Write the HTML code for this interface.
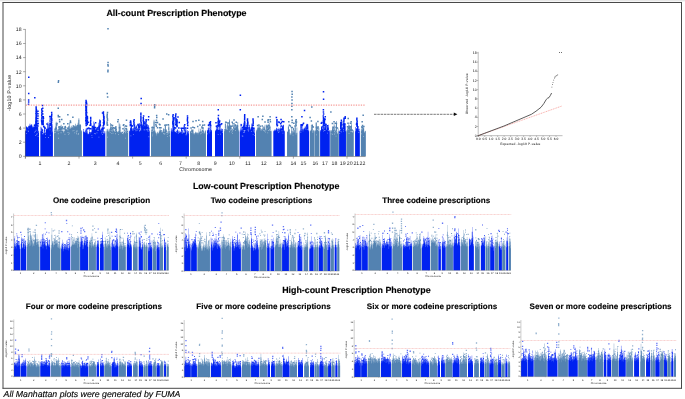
<!DOCTYPE html>
<html lang="en"><head><meta charset="utf-8"><title>Manhattan plots</title>
<style>html,body{margin:0;padding:0;background:#fff;width:685px;height:399px;overflow:hidden;font-family:"Liberation Sans",sans-serif}svg text{white-space:pre;text-rendering:geometricPrecision}</style></head>
<body>
<svg width="685" height="399" viewBox="0 0 685 399" style="display:block;position:absolute;left:0;top:0">
<defs><filter id="b" x="0" y="0" width="685" height="399" filterUnits="userSpaceOnUse"><feGaussianBlur stdDeviation="0.35"/></filter><filter id="t" x="0" y="0" width="685" height="399" filterUnits="userSpaceOnUse"><feGaussianBlur stdDeviation="0.18"/></filter><filter id="n" x="0" y="0" width="685" height="399" filterUnits="userSpaceOnUse"><feOffset dx="0" dy="0"/></filter></defs>
<rect width="685" height="399" fill="#fff"/>
<rect width="685" height="1" fill="#e7e7e7"/><rect y="1" width="685" height="0.7" fill="#f3f3f3"/>
<path d="M2.5 2.5H682M3 2.5V388.6M681.5 2.5V388.6M2.5 388.3H682" stroke="#484848" stroke-width="1" fill="none"/>
<g filter="url(#n)">
<text x="176.45" y="15.6" font-family='"Liberation Sans", sans-serif' font-size="8.86" font-weight="700" fill="#000" stroke="#000" stroke-width="0.15" text-anchor="middle">All-count Prescription Phenotype</text>
<text x="266.2" y="188.9" font-family='"Liberation Sans", sans-serif' font-size="8.86" font-weight="700" fill="#000" stroke="#000" stroke-width="0.15" text-anchor="middle">Low-count Prescription Phenotype</text>
<text x="356.4" y="293.3" font-family='"Liberation Sans", sans-serif' font-size="8.86" font-weight="700" fill="#000" stroke="#000" stroke-width="0.15" text-anchor="middle">High-count Prescription Phenotype</text>
<text x="101.5" y="203.2" font-family='"Liberation Sans", sans-serif' font-size="8.07" font-weight="700" fill="#000" stroke="#000" stroke-width="0.15" text-anchor="middle">One codeine prescription</text>
<text x="261.5" y="203.2" font-family='"Liberation Sans", sans-serif' font-size="8.07" font-weight="700" fill="#000" stroke="#000" stroke-width="0.15" text-anchor="middle">Two codeine prescriptions</text>
<text x="436.2" y="203.2" font-family='"Liberation Sans", sans-serif' font-size="8.07" font-weight="700" fill="#000" stroke="#000" stroke-width="0.15" text-anchor="middle">Three codeine prescriptions</text>
<text x="93.9" y="308.8" font-family='"Liberation Sans", sans-serif' font-size="8.07" font-weight="700" fill="#000" stroke="#000" stroke-width="0.15" text-anchor="middle">Four or more codeine prescriptions</text>
<text x="263.5" y="308.8" font-family='"Liberation Sans", sans-serif' font-size="8.07" font-weight="700" fill="#000" stroke="#000" stroke-width="0.15" text-anchor="middle">Five or more codeine prescriptions</text>
<text x="432" y="308.8" font-family='"Liberation Sans", sans-serif' font-size="8.07" font-weight="700" fill="#000" stroke="#000" stroke-width="0.15" text-anchor="middle">Six or more codeine prescriptions</text>
<text x="600.6" y="308.8" font-family='"Liberation Sans", sans-serif' font-size="8.07" font-weight="700" fill="#000" stroke="#000" stroke-width="0.15" text-anchor="middle">Seven or more codeine prescriptions</text>
<text x="3.6" y="397.0" font-family='"Liberation Sans", sans-serif' font-size="8.78" font-style="italic" fill="#000" stroke="#000" stroke-width="0.12">All Manhattan plots were generated by FUMA</text>
</g>
<g filter="url(#b)">
<path fill="#0024f0" fill-opacity="0.7" d="M25.2 156.3L25.2 130.13H26.06L26.06 126.37H26.93L26.93 127.59H27.79L27.79 127.15H28.65L28.65 125.58H29.51L29.51 123.71H30.38L30.38 124.9H31.24L31.24 124.09H32.1L32.1 126.4H32.96L32.96 126.5H33.83L33.83 124.87H34.69L34.69 123.78H35.55L35.55 118.61H36.41L36.41 124.78H37.27L37.27 124.27H38.14L38.14 130.63H39L39 156.3ZM40.5 156.3L40.5 126.69H41.38L41.38 127.67H42.26L42.26 129.11H43.14L43.14 132.69H44.01L44.01 127.03H44.89L44.89 132.62H45.77L45.77 128.65H46.65L46.65 128.54H47.53L47.53 122.33H48.41L48.41 127.38H49.29L49.29 125H50.16L50.16 126.82H51.04L51.04 120.91H51.92L51.92 125.84H52.8L52.8 156.3Z"/>
<path fill="#0024f0" d="M25.2 156.3L25.2 131.27H26.06L26.06 127.03H26.93L26.93 128.32H27.79L27.79 128.81H28.65L28.65 126.58H29.51L29.51 126.42H30.38L30.38 126.06H31.24L31.24 126.1H32.1L32.1 127.73H32.96L32.96 127.42H33.83L33.83 127.09H34.69L34.69 126.14H35.55L35.55 121.01H36.41L36.41 126.86H37.27L37.27 127.16H38.14L38.14 131.27H39L39 156.3ZM40.5 156.3L40.5 131.27H41.38L41.38 129.08H42.26L42.26 130.26H43.14L43.14 134.18H44.01L44.01 129.52H44.89L44.89 133.83H45.77L45.77 129.52H46.65L46.65 129.31H47.53L47.53 124.1H48.41L48.41 128.52H49.29L49.29 126.36H50.16L50.16 127.78H51.04L51.04 122.42H51.92L51.92 131.27H52.8L52.8 156.3Z"/>
<path fill="#fff" fill-opacity=".6" d="M25.57 129.68h0.7v0.84h-0.7zM34.27 131.64h0.7v0.84h-0.7zM37.73 136.28h0.7v0.84h-0.7zM38.14 131.66h0.7v0.84h-0.7zM37.71 130.7h0.7v0.84h-0.7zM28.17 130.91h0.7v0.84h-0.7zM27.78 130.48h0.7v0.84h-0.7zM36.99 133.48h0.7v0.84h-0.7zM36.21 133.81h0.7v0.84h-0.7zM35.68 129.82h0.7v0.84h-0.7zM26.31 132.93h0.7v0.84h-0.7zM35.45 135.12h0.7v0.84h-0.7zM35.03 131.2h0.7v0.84h-0.7zM49.65 129.5h0.7v0.84h-0.7zM44.36 131.89h0.7v0.84h-0.7zM45.09 137.27h0.7v0.84h-0.7zM45.16 134.04h0.7v0.84h-0.7zM42.47 130.9h0.7v0.84h-0.7zM41.97 133.23h0.7v0.84h-0.7zM49.86 134.82h0.7v0.84h-0.7zM42.2 133.34h0.7v0.84h-0.7zM48.12 137.11h0.7v0.84h-0.7zM44.56 130.83h0.7v0.84h-0.7zM40.67 129.73h0.7v0.84h-0.7zM51.76 131.51h0.7v0.84h-0.7z"/>
<path fill="#0024f0" fill-opacity="1" d="M33.83 124.62h1.5v1.5h-1.5zM37.42 122.7h1.5v1.5h-1.5zM28.7 126.19h1.5v1.5h-1.5zM33.42 127.5h1.5v1.5h-1.5zM30.88 127.04h1.5v1.5h-1.5zM26.64 127.39h1.5v1.5h-1.5zM34.65 127.17h1.5v1.5h-1.5zM28.25 126.16h1.5v1.5h-1.5zM35.92 127.32h1.5v1.5h-1.5zM30.73 125.31h1.5v1.5h-1.5zM36.07 122.74h1.5v1.5h-1.5zM35.83 126.64h1.5v1.5h-1.5zM49.82 124.2h1.5v1.5h-1.5zM43.32 126.27h1.5v1.5h-1.5zM42.3 123.39h1.5v1.5h-1.5zM46.25 123.3h1.5v1.5h-1.5zM44.06 126.85h1.5v1.5h-1.5zM49.26 115.73h1.5v1.5h-1.5zM49.71 122.94h1.5v1.5h-1.5zM49.34 123.76h1.5v1.5h-1.5zM42.95 125.51h1.5v1.5h-1.5zM44.34 127.48h1.5v1.5h-1.5z"/>
<path fill="#5282b1" fill-opacity="0.7" d="M54.1 156.3L54.1 128.49H54.94L54.94 126.51H55.78L55.78 121.83H56.62L56.62 129.43H57.46L57.46 129.58H58.3L58.3 126.62H59.14L59.14 126.09H59.98L59.98 125.71H60.82L60.82 124.67H61.65L61.65 126.68H62.49L62.49 129.24H63.33L63.33 131.72H64.17L64.17 126.95H65.01L65.01 125.76H65.85L65.85 129H66.69L66.69 127.19H67.53L67.53 128.46H68.37L68.37 125.74H69.21L69.21 122.3H70.05L70.05 127.52H70.89L70.89 125.84H71.73L71.73 127.14H72.57L72.57 126.44H73.41L73.41 127.05H74.25L74.25 126.51H75.08L75.08 123.75H75.92L75.92 125.46H76.76L76.76 124.9H77.6L77.6 122.68H78.44L78.44 118.37H79.28L79.28 124.32H80.12L80.12 124.17H80.96L80.96 130.25H81.8L81.8 156.3Z"/>
<path fill="#5282b1" d="M54.1 156.3L54.1 131.27H54.94L54.94 128.19H55.78L55.78 122.95H56.62L56.62 130.69H57.46L57.46 131.09H58.3L58.3 129.22H59.14L59.14 127.69H59.98L59.98 128.22H60.82L60.82 127.12H61.65L61.65 130.34H62.49L62.49 130.72H63.33L63.33 133.11H64.17L64.17 131.13H65.01L65.01 128.65H65.85L65.85 129.66H66.69L66.69 129.7H67.53L67.53 130.4H68.37L68.37 126.62H69.21L69.21 128.69H70.05L70.05 129H70.89L70.89 128.03H71.73L71.73 127.73H72.57L72.57 127.09H73.41L73.41 127.76H74.25L74.25 127.47H75.08L75.08 126.48H75.92L75.92 127.1H76.76L76.76 126.17H77.6L77.6 125.29H78.44L78.44 119.7H79.28L79.28 125.28H80.12L80.12 124.96H80.96L80.96 131.27H81.8L81.8 156.3Z"/>
<path fill="#fff" fill-opacity=".6" d="M60.7 132.32h0.7v0.84h-0.7zM63.73 130.24h0.7v0.84h-0.7zM54.13 132.3h0.7v0.84h-0.7zM67.67 132.09h0.7v0.84h-0.7zM59.53 129.97h0.7v0.84h-0.7zM61.23 129.66h0.7v0.84h-0.7zM56.52 130.4h0.7v0.84h-0.7zM54.71 130.2h0.7v0.84h-0.7zM62.31 130.1h0.7v0.84h-0.7zM68.39 133.84h0.7v0.84h-0.7zM74.36 132.41h0.7v0.84h-0.7zM77.84 133.86h0.7v0.84h-0.7zM64.62 133.87h0.7v0.84h-0.7zM58.14 137.8h0.7v0.84h-0.7zM73.65 130.24h0.7v0.84h-0.7zM76.65 130.39h0.7v0.84h-0.7zM78.18 133.25h0.7v0.84h-0.7zM76.03 133.35h0.7v0.84h-0.7zM57.86 133.37h0.7v0.84h-0.7zM76.64 130.21h0.7v0.84h-0.7zM75.83 131.59h0.7v0.84h-0.7zM78.21 133.38h0.7v0.84h-0.7zM72.54 130.45h0.7v0.84h-0.7zM54.94 131.8h0.7v0.84h-0.7zM57.69 130.61h0.7v0.84h-0.7zM76.67 130.8h0.7v0.84h-0.7zM69.18 132.74h0.7v0.84h-0.7z"/>
<path fill="#5282b1" fill-opacity="1" d="M74 127.02h1.5v1.5h-1.5zM67.2 127.43h1.5v1.5h-1.5zM63.19 127.93h1.5v1.5h-1.5zM60.66 127.94h1.5v1.5h-1.5zM73.31 125.73h1.5v1.5h-1.5zM59.06 126.17h1.5v1.5h-1.5zM78.59 127.67h1.5v1.5h-1.5zM75.56 126.39h1.5v1.5h-1.5zM67.07 122.91h1.5v1.5h-1.5zM64.4 125.99h1.5v1.5h-1.5zM72.12 116.59h1.5v1.5h-1.5zM63.08 122.95h1.5v1.5h-1.5zM72.62 125.13h1.5v1.5h-1.5zM64.7 126.78h1.5v1.5h-1.5zM55.52 127.59h1.5v1.5h-1.5zM55.95 124.18h1.5v1.5h-1.5zM60.8 127.48h1.5v1.5h-1.5zM56.31 122.79h1.5v1.5h-1.5zM76.91 124.85h1.5v1.5h-1.5zM61.49 127.2h1.5v1.5h-1.5zM61.78 126.25h1.5v1.5h-1.5zM58.23 126.32h1.5v1.5h-1.5zM61 118.78h1.5v1.5h-1.5zM79.58 125.75h1.5v1.5h-1.5z"/>
<path fill="#0024f0" fill-opacity="0.7" d="M83.2 156.3L83.2 128.96H84.05L84.05 131.8H84.89L84.89 130.46H85.74L85.74 128.16H86.58L86.58 128.94H87.43L87.43 133.25H88.28L88.28 133.63H89.12L89.12 129.71H89.97L89.97 132.07H90.82L90.82 131.66H91.66L91.66 126.81H92.51L92.51 125.17H93.35L93.35 121.56H94.2L94.2 123.36H95.05L95.05 128.6H95.89L95.89 127.82H96.74L96.74 127.71H97.58L97.58 126.8H98.43L98.43 122.63H99.28L99.28 119.17H100.12L100.12 129.44H100.97L100.97 128.28H101.82L101.82 126.95H102.66L102.66 125.5H103.51L103.51 132.72H104.35L104.35 131.07H105.2L105.2 156.3Z"/>
<path fill="#0024f0" d="M83.2 156.3L83.2 131.27H84.05L84.05 132.45H84.89L84.89 132.68H85.74L85.74 129.58H86.58L86.58 131.36H87.43L87.43 134.18H88.28L88.28 134.21H89.12L89.12 131.77H89.97L89.97 133.42H90.82L90.82 132.51H91.66L91.66 129.55H92.51L92.51 129.42H93.35L93.35 125.99H94.2L94.2 126.69H95.05L95.05 130.01H95.89L95.89 129.14H96.74L96.74 128.76H97.58L97.58 129.69H98.43L98.43 126.14H99.28L99.28 127.49H100.12L100.12 130.42H100.97L100.97 129.27H101.82L101.82 127.78H102.66L102.66 128.18H103.51L103.51 134.29H104.35L104.35 132.4H105.2L105.2 156.3Z"/>
<path fill="#fff" fill-opacity=".6" d="M91.23 130.46h0.7v0.84h-0.7zM89.11 130.83h0.7v0.84h-0.7zM103.81 132.5h0.7v0.84h-0.7zM96.61 132.53h0.7v0.84h-0.7zM101.58 130.4h0.7v0.84h-0.7zM88.49 132.33h0.7v0.84h-0.7zM91.71 137.28h0.7v0.84h-0.7zM101.28 132.49h0.7v0.84h-0.7zM101.79 130.67h0.7v0.84h-0.7zM98.31 129.97h0.7v0.84h-0.7zM102.28 134.02h0.7v0.84h-0.7zM83.2 130.57h0.7v0.84h-0.7zM91.54 135.18h0.7v0.84h-0.7zM101.42 132.49h0.7v0.84h-0.7zM103.91 129.88h0.7v0.84h-0.7zM86.49 131.39h0.7v0.84h-0.7zM94.33 132.99h0.7v0.84h-0.7zM98.57 136.74h0.7v0.84h-0.7zM96.99 130.19h0.7v0.84h-0.7zM94.95 133.36h0.7v0.84h-0.7zM84.04 130.33h0.7v0.84h-0.7zM102.79 132.12h0.7v0.84h-0.7z"/>
<path fill="#0024f0" fill-opacity="1" d="M98.63 125.28h1.5v1.5h-1.5zM89.07 128.05h1.5v1.5h-1.5zM102.2 127.81h1.5v1.5h-1.5zM92.88 127.01h1.5v1.5h-1.5zM89.3 124.41h1.5v1.5h-1.5zM103.21 127.35h1.5v1.5h-1.5zM96.65 127.19h1.5v1.5h-1.5zM94.63 126.78h1.5v1.5h-1.5zM86.63 127.7h1.5v1.5h-1.5zM87.46 121.53h1.5v1.5h-1.5zM93.39 127.5h1.5v1.5h-1.5zM101.78 112.27h1.5v1.5h-1.5zM92.42 127.77h1.5v1.5h-1.5zM87.14 127.93h1.5v1.5h-1.5zM90.21 127.93h1.5v1.5h-1.5zM88.1 127.35h1.5v1.5h-1.5zM94.88 122.04h1.5v1.5h-1.5zM98.57 126.69h1.5v1.5h-1.5zM91.68 126.1h1.5v1.5h-1.5z"/>
<path fill="#5282b1" fill-opacity="0.7" d="M106.6 156.3L106.6 129.19H107.46L107.46 128.75H108.32L108.32 130.81H109.18L109.18 128.87H110.04L110.04 122.89H110.9L110.9 126.94H111.76L111.76 128.05H112.62L112.62 129.31H113.48L113.48 128.53H114.34L114.34 130.88H115.2L115.2 126.2H116.06L116.06 128.09H116.92L116.92 131.44H117.78L117.78 131.29H118.64L118.64 122.69H119.5L119.5 124.18H120.36L120.36 130.82H121.22L121.22 131.99H122.08L122.08 131.17H122.94L122.94 133H123.8L123.8 125.95H124.66L124.66 129.83H125.52L125.52 131.7H126.38L126.38 127.94H127.24L127.24 130.31H128.1L128.1 156.3Z"/>
<path fill="#5282b1" d="M106.6 156.3L106.6 131.27H107.46L107.46 130.43H108.32L108.32 131.39H109.18L109.18 130.75H110.04L110.04 127.56H110.9L110.9 128.93H111.76L111.76 131.9H112.62L112.62 130.56H113.48L113.48 130.8H114.34L114.34 131.92H115.2L115.2 127.2H116.06L116.06 129.34H116.92L116.92 132.3H117.78L117.78 132.49H118.64L118.64 130.87H119.5L119.5 126.49H120.36L120.36 131.97H121.22L121.22 133.1H122.08L122.08 132.03H122.94L122.94 134.28H123.8L123.8 129.72H124.66L124.66 130.43H125.52L125.52 132.32H126.38L126.38 128.88H127.24L127.24 131.27H128.1L128.1 156.3Z"/>
<path fill="#fff" fill-opacity=".6" d="M107.3 136.65h0.7v0.84h-0.7zM118.09 133.94h0.7v0.84h-0.7zM124.98 137.76h0.7v0.84h-0.7zM127.15 129.99h0.7v0.84h-0.7zM108.61 131.19h0.7v0.84h-0.7zM116.97 130.73h0.7v0.84h-0.7zM111.47 133.21h0.7v0.84h-0.7zM115.27 133.32h0.7v0.84h-0.7zM122.16 133.12h0.7v0.84h-0.7zM124.22 130.69h0.7v0.84h-0.7zM124.09 131.25h0.7v0.84h-0.7zM112.71 132.66h0.7v0.84h-0.7zM121.95 131.11h0.7v0.84h-0.7zM110.74 129.9h0.7v0.84h-0.7zM109.79 132.24h0.7v0.84h-0.7zM124.99 132.35h0.7v0.84h-0.7zM114.84 131.19h0.7v0.84h-0.7zM127.24 132.16h0.7v0.84h-0.7zM123.42 129.97h0.7v0.84h-0.7zM120.19 131.33h0.7v0.84h-0.7zM116.48 129.95h0.7v0.84h-0.7z"/>
<path fill="#5282b1" fill-opacity="1" d="M125.75 125.49h1.5v1.5h-1.5zM111.84 124.64h1.5v1.5h-1.5zM112.93 127.29h1.5v1.5h-1.5zM106.68 124.22h1.5v1.5h-1.5zM124.93 125.36h1.5v1.5h-1.5zM125.47 128.13h1.5v1.5h-1.5zM111.28 126.38h1.5v1.5h-1.5zM125.74 119.52h1.5v1.5h-1.5zM114.33 127.38h1.5v1.5h-1.5zM115.2 126.28h1.5v1.5h-1.5zM125.16 127.63h1.5v1.5h-1.5zM122.65 124.41h1.5v1.5h-1.5zM123.06 124.02h1.5v1.5h-1.5zM118.75 127.08h1.5v1.5h-1.5zM112.99 126.93h1.5v1.5h-1.5zM122.24 127.96h1.5v1.5h-1.5zM110.55 124.25h1.5v1.5h-1.5zM111.55 128.01h1.5v1.5h-1.5z"/>
<path fill="#0024f0" fill-opacity="0.7" d="M129.3 156.3L129.3 130.44H130.15L130.15 127.2H130.99L130.99 121.45H131.84L131.84 128.41H132.68L132.68 127.99H133.53L133.53 127.04H134.38L134.38 124.07H135.22L135.22 126.86H136.07L136.07 125.25H136.91L136.91 128.34H137.76L137.76 126.49H138.6L138.6 123.52H139.45L139.45 122.98H140.3L140.3 130.33H141.14L141.14 122.33H141.99L141.99 124.6H142.83L142.83 122.64H143.68L143.68 120.65H144.53L144.53 120.87H145.37L145.37 125.48H146.22L146.22 124.02H147.06L147.06 124.16H147.91L147.91 124.94H148.75L148.75 127.82H149.6L149.6 156.3Z"/>
<path fill="#0024f0" d="M129.3 156.3L129.3 131.27H130.15L130.15 128.36H130.99L130.99 125.71H131.84L131.84 129.28H132.68L132.68 129.72H133.53L133.53 129.05H134.38L134.38 125.64H135.22L135.22 128.43H136.07L136.07 126.48H136.91L136.91 129.38H137.76L137.76 129.59H138.6L138.6 124.37H139.45L139.45 125.72H140.3L140.3 131.12H141.14L141.14 125.94H141.99L141.99 126.06H142.83L142.83 126.5H143.68L143.68 125.54H144.53L144.53 126.14H145.37L145.37 126.66H146.22L146.22 124.81H147.06L147.06 127.1H147.91L147.91 126.43H148.75L148.75 131.27H149.6L149.6 156.3Z"/>
<path fill="#fff" fill-opacity=".6" d="M143.68 129.47h0.7v0.84h-0.7zM144.54 129.44h0.7v0.84h-0.7zM139.18 128.46h0.7v0.84h-0.7zM136.71 130.02h0.7v0.84h-0.7zM146.1 128.9h0.7v0.84h-0.7zM148.82 129.04h0.7v0.84h-0.7zM133.1 134.17h0.7v0.84h-0.7zM148.54 136.32h0.7v0.84h-0.7zM147.25 128.79h0.7v0.84h-0.7zM132.54 130.13h0.7v0.84h-0.7zM130.58 135.5h0.7v0.84h-0.7zM136.18 128.45h0.7v0.84h-0.7zM146.87 130.25h0.7v0.84h-0.7zM134.69 129.09h0.7v0.84h-0.7zM139.14 130h0.7v0.84h-0.7zM147.33 129.02h0.7v0.84h-0.7zM139.22 130.78h0.7v0.84h-0.7zM135.55 130.34h0.7v0.84h-0.7zM132.46 128.84h0.7v0.84h-0.7zM147.65 131.26h0.7v0.84h-0.7z"/>
<path fill="#0024f0" fill-opacity="1" d="M130.07 124.39h1.5v1.5h-1.5zM143.54 126.61h1.5v1.5h-1.5zM145.06 126.36h1.5v1.5h-1.5zM140.57 124.46h1.5v1.5h-1.5zM141.09 125.68h1.5v1.5h-1.5zM137.2 124.25h1.5v1.5h-1.5zM137.3 123.68h1.5v1.5h-1.5zM137.7 125.09h1.5v1.5h-1.5zM129.74 124h1.5v1.5h-1.5zM138.5 125.96h1.5v1.5h-1.5zM143.66 122.45h1.5v1.5h-1.5zM137.92 126.16h1.5v1.5h-1.5zM138.2 126.4h1.5v1.5h-1.5zM131.71 125.13h1.5v1.5h-1.5zM131.02 125.07h1.5v1.5h-1.5zM138.89 126.6h1.5v1.5h-1.5zM141.27 126.47h1.5v1.5h-1.5z"/>
<path fill="#5282b1" fill-opacity="0.7" d="M151 156.3L151 129.42H151.87L151.87 127.52H152.74L152.74 129.68H153.6L153.6 119.86H154.47L154.47 130.37H155.34L155.34 132.34H156.21L156.21 133.56H157.08L157.08 131.67H157.95L157.95 133.09H158.81L158.81 130.84H159.68L159.68 128.52H160.55L160.55 129.88H161.42L161.42 130.1H162.29L162.29 131.51H163.15L163.15 128.24H164.02L164.02 129.17H164.89L164.89 124.22H165.76L165.76 129.24H166.63L166.63 131.06H167.5L167.5 132.64H168.36L168.36 124.65H169.23L169.23 131.01H170.1L170.1 156.3Z"/>
<path fill="#5282b1" d="M151 156.3L151 131.27H151.87L151.87 129.19H152.74L152.74 131.51H153.6L153.6 121.52H154.47L154.47 131.19H155.34L155.34 133.28H156.21L156.21 135.5H157.08L157.08 133.45H157.95L157.95 133.83H158.81L158.81 131.96H159.68L159.68 130.21H160.55L160.55 130.63H161.42L161.42 131.96H162.29L162.29 132.46H163.15L163.15 129.35H164.02L164.02 131.41H164.89L164.89 125.44H165.76L165.76 129.82H166.63L166.63 132.82H167.5L167.5 133.45H168.36L168.36 127.15H169.23L169.23 133.31H170.1L170.1 156.3Z"/>
<path fill="#fff" fill-opacity=".6" d="M167.7 132.76h0.7v0.84h-0.7zM163.24 133.01h0.7v0.84h-0.7zM169.01 135.4h0.7v0.84h-0.7zM163.84 130.6h0.7v0.84h-0.7zM166.78 134.14h0.7v0.84h-0.7zM161.49 131.4h0.7v0.84h-0.7zM156.66 130.49h0.7v0.84h-0.7zM152.43 133.74h0.7v0.84h-0.7zM167.76 129.9h0.7v0.84h-0.7zM152.96 130.02h0.7v0.84h-0.7zM168.09 130.42h0.7v0.84h-0.7zM151.53 130.89h0.7v0.84h-0.7zM151.77 131.03h0.7v0.84h-0.7zM163.82 133.65h0.7v0.84h-0.7zM164.56 133.32h0.7v0.84h-0.7zM157.69 131.14h0.7v0.84h-0.7zM166.04 132.27h0.7v0.84h-0.7zM152.21 135.49h0.7v0.84h-0.7zM166.97 135.99h0.7v0.84h-0.7z"/>
<path fill="#5282b1" fill-opacity="1" d="M159.19 123.96h1.5v1.5h-1.5zM158.96 127.05h1.5v1.5h-1.5zM152.85 127.03h1.5v1.5h-1.5zM151.68 126.62h1.5v1.5h-1.5zM164.19 124.42h1.5v1.5h-1.5zM165.88 124.27h1.5v1.5h-1.5zM155.68 125.5h1.5v1.5h-1.5zM158.67 123.39h1.5v1.5h-1.5zM160.21 126.9h1.5v1.5h-1.5zM162.3 118.31h1.5v1.5h-1.5zM154.82 121.79h1.5v1.5h-1.5zM151.27 126.92h1.5v1.5h-1.5zM155.16 123.93h1.5v1.5h-1.5zM167.63 123.91h1.5v1.5h-1.5zM156.75 121.79h1.5v1.5h-1.5zM156.78 127h1.5v1.5h-1.5z"/>
<path fill="#0024f0" fill-opacity="0.7" d="M170.9 156.3L170.9 128.32H171.76L171.76 129.82H172.61L172.61 125.2H173.47L173.47 127.41H174.33L174.33 127.16H175.19L175.19 131.74H176.04L176.04 131H176.9L176.9 129.35H177.76L177.76 130.38H178.61L178.61 130.85H179.47L179.47 131.69H180.33L180.33 131.45H181.19L181.19 128.27H182.04L182.04 129.65H182.9L182.9 131.67H183.76L183.76 124.81H184.61L184.61 129.48H185.47L185.47 128.15H186.33L186.33 134.09H187.19L187.19 130.19H188.04L188.04 131.07H188.9L188.9 156.3Z"/>
<path fill="#0024f0" d="M170.9 156.3L170.9 131.27H171.76L171.76 131.66H172.61L172.61 126.06H173.47L173.47 128.39H174.33L174.33 131.94H175.19L175.19 132.34H176.04L176.04 132.1H176.9L176.9 130.03H177.76L177.76 132.77H178.61L178.61 132.27H179.47L179.47 132.8H180.33L180.33 132.44H181.19L181.19 128.98H182.04L182.04 131.73H182.9L182.9 132.89H183.76L183.76 125.41H184.61L184.61 130.93H185.47L185.47 129.68H186.33L186.33 135.2H187.19L187.19 132.13H188.04L188.04 133.52H188.9L188.9 156.3Z"/>
<path fill="#fff" fill-opacity=".6" d="M174.47 130.08h0.7v0.84h-0.7zM177.8 129.98h0.7v0.84h-0.7zM184.58 130.74h0.7v0.84h-0.7zM181.84 132.94h0.7v0.84h-0.7zM178.91 132.15h0.7v0.84h-0.7zM177.9 132.8h0.7v0.84h-0.7zM183.72 132.26h0.7v0.84h-0.7zM180.83 131.28h0.7v0.84h-0.7zM183.86 131.45h0.7v0.84h-0.7zM183.39 130.53h0.7v0.84h-0.7zM186.13 130.18h0.7v0.84h-0.7zM185.65 134.31h0.7v0.84h-0.7zM182.66 131.64h0.7v0.84h-0.7zM176.32 132.15h0.7v0.84h-0.7zM181.77 132.14h0.7v0.84h-0.7zM184.44 131.35h0.7v0.84h-0.7zM183.24 131.09h0.7v0.84h-0.7zM178.23 131.19h0.7v0.84h-0.7z"/>
<path fill="#0024f0" fill-opacity="1" d="M180.46 127.39h1.5v1.5h-1.5zM178.52 121.67h1.5v1.5h-1.5zM174.83 127.17h1.5v1.5h-1.5zM175.87 124.35h1.5v1.5h-1.5zM184.82 127.3h1.5v1.5h-1.5zM173.47 126.97h1.5v1.5h-1.5zM176.29 125.69h1.5v1.5h-1.5zM173.56 126.65h1.5v1.5h-1.5zM174.02 117.35h1.5v1.5h-1.5zM182.92 127.47h1.5v1.5h-1.5zM186.78 127.47h1.5v1.5h-1.5zM177.24 116.14h1.5v1.5h-1.5zM184.02 124.05h1.5v1.5h-1.5zM178.08 127.16h1.5v1.5h-1.5zM181.43 127.45h1.5v1.5h-1.5z"/>
<path fill="#5282b1" fill-opacity="0.7" d="M190.1 156.3L190.1 130.92H190.93L190.93 129.27H191.76L191.76 129.44H192.59L192.59 129.26H193.43L193.43 132.65H194.26L194.26 133.27H195.09L195.09 131.66H195.92L195.92 132.44H196.75L196.75 132.07H197.58L197.58 133.3H198.42L198.42 128.38H199.25L199.25 131.39H200.08L200.08 128.73H200.91L200.91 131.18H201.74L201.74 127.64H202.57L202.57 128.47H203.41L203.41 130.8H204.24L204.24 132.84H205.07L205.07 130.25H205.9L205.9 156.3Z"/>
<path fill="#5282b1" d="M190.1 156.3L190.1 131.74H190.93L190.93 130.69H191.76L191.76 130.23H192.59L192.59 129.96H193.43L193.43 134.13H194.26L194.26 134.51H195.09L195.09 132.86H195.92L195.92 133.56H196.75L196.75 132.65H197.58L197.58 134.42H198.42L198.42 132.51H199.25L199.25 132.58H200.08L200.08 131.4H200.91L200.91 132.07H201.74L201.74 130.37H202.57L202.57 129.2H203.41L203.41 131.76H204.24L204.24 133.66H205.07L205.07 131.27H205.9L205.9 156.3Z"/>
<path fill="#fff" fill-opacity=".6" d="M202.05 129.1h0.7v0.84h-0.7zM192.64 132.38h0.7v0.84h-0.7zM201.9 131.76h0.7v0.84h-0.7zM200.19 133.41h0.7v0.84h-0.7zM202.77 132.47h0.7v0.84h-0.7zM193.08 130.39h0.7v0.84h-0.7zM201.3 132.67h0.7v0.84h-0.7zM196.72 132.01h0.7v0.84h-0.7zM194.09 131.73h0.7v0.84h-0.7zM193.64 131.39h0.7v0.84h-0.7zM190.98 131.86h0.7v0.84h-0.7zM197.15 131.29h0.7v0.84h-0.7zM197.62 131.92h0.7v0.84h-0.7zM198.25 129.25h0.7v0.84h-0.7zM202.8 129.29h0.7v0.84h-0.7z"/>
<path fill="#5282b1" fill-opacity="1" d="M196.96 125.77h1.5v1.5h-1.5zM199.21 124.31h1.5v1.5h-1.5zM195.28 119.9h1.5v1.5h-1.5zM202.32 127.18h1.5v1.5h-1.5zM201.94 120.69h1.5v1.5h-1.5zM201.31 126.92h1.5v1.5h-1.5zM201.99 124.52h1.5v1.5h-1.5zM190.31 127.32h1.5v1.5h-1.5zM203.71 124.34h1.5v1.5h-1.5zM193.68 127.05h1.5v1.5h-1.5zM192.14 126.6h1.5v1.5h-1.5zM201.2 126.15h1.5v1.5h-1.5zM192.28 120.74h1.5v1.5h-1.5z"/>
<path fill="#0024f0" fill-opacity="0.7" d="M207 156.3L207 130.02H207.83L207.83 127.8H208.67L208.67 124.28H209.5L209.5 130.35H210.33L210.33 125.54H211.17L211.17 129.89H212L212 156.3ZM215 156.3L215 130.31H215.89L215.89 127.27H216.78L216.78 124.86H217.67L217.67 126.65H218.56L218.56 129.21H219.44L219.44 123.87H220.33L220.33 129.42H221.22L221.22 128.61H222.11L222.11 128.88H223L223 156.3Z"/>
<path fill="#0024f0" d="M207 156.3L207 131.27H207.83L207.83 129.65H208.67L208.67 128.25H209.5L209.5 131.76H210.33L210.33 127.35H211.17L211.17 131.27H212L212 156.3ZM215 156.3L215 131.27H215.89L215.89 129.83H216.78L216.78 126.71H217.67L217.67 129.97H218.56L218.56 129.78H219.44L219.44 125.8H220.33L220.33 131.2H221.22L221.22 130.63H222.11L222.11 131.27H223L223 156.3Z"/>
<path fill="#fff" fill-opacity=".6" d="M208.85 132.4h0.7v0.84h-0.7zM207.23 133.5h0.7v0.84h-0.7zM209.44 129.29h0.7v0.84h-0.7zM210.48 128.14h0.7v0.84h-0.7zM209.47 130.76h0.7v0.84h-0.7zM215.1 129.44h0.7v0.84h-0.7zM217.83 134.01h0.7v0.84h-0.7zM222.16 131.83h0.7v0.84h-0.7zM218.47 129h0.7v0.84h-0.7zM219.7 128.52h0.7v0.84h-0.7zM216.55 128.07h0.7v0.84h-0.7zM215.03 128.21h0.7v0.84h-0.7zM219.99 133.71h0.7v0.84h-0.7z"/>
<path fill="#0024f0" fill-opacity="1" d="M208.84 121.93h1.5v1.5h-1.5zM207.74 124.47h1.5v1.5h-1.5zM208.48 123.8h1.5v1.5h-1.5zM209.89 125.1h1.5v1.5h-1.5zM215.66 125.52h1.5v1.5h-1.5zM215.24 121.88h1.5v1.5h-1.5zM220.94 123.07h1.5v1.5h-1.5zM217.4 121.2h1.5v1.5h-1.5zM220.11 123.75h1.5v1.5h-1.5zM216.68 125.07h1.5v1.5h-1.5zM217.74 125h1.5v1.5h-1.5z"/>
<path fill="#5282b1" fill-opacity="0.7" d="M224.1 156.3L224.1 129.1H224.93L224.93 121.45H225.76L225.76 128.86H226.58L226.58 125.46H227.41L227.41 123.66H228.24L228.24 125.78H229.07L229.07 119.14H229.89L229.89 124.75H230.72L230.72 126.44H231.55L231.55 128.07H232.38L232.38 128.9H233.21L233.21 124.76H234.03L234.03 122.77H234.86L234.86 126.93H235.69L235.69 125.17H236.52L236.52 125.57H237.34L237.34 122.02H238.17L238.17 128.15H239L239 156.3Z"/>
<path fill="#5282b1" d="M224.1 156.3L224.1 131.27H224.93L224.93 123.91H225.76L225.76 129.53H226.58L226.58 129.44H227.41L227.41 124.24H228.24L228.24 126.45H229.07L229.07 120.55H229.89L229.89 126.05H230.72L230.72 127.58H231.55L231.55 129.25H232.38L232.38 130.53H233.21L233.21 126.87H234.03L234.03 128.15H234.86L234.86 128.2H235.69L235.69 126.91H236.52L236.52 126.52H237.34L237.34 125.36H238.17L238.17 131.27H239L239 156.3Z"/>
<path fill="#fff" fill-opacity=".6" d="M232.33 133.01h0.7v0.84h-0.7zM231.51 131.73h0.7v0.84h-0.7zM230.87 129.49h0.7v0.84h-0.7zM226.83 128.84h0.7v0.84h-0.7zM226.67 128.66h0.7v0.84h-0.7zM232.11 130.62h0.7v0.84h-0.7zM229.82 129.54h0.7v0.84h-0.7zM224.73 127.94h0.7v0.84h-0.7zM238.26 128.8h0.7v0.84h-0.7zM233.08 128.82h0.7v0.84h-0.7zM235.28 130.13h0.7v0.84h-0.7zM229 131.3h0.7v0.84h-0.7zM231.48 128.57h0.7v0.84h-0.7zM238.16 127.85h0.7v0.84h-0.7z"/>
<path fill="#5282b1" fill-opacity="1" d="M231.76 125.18h1.5v1.5h-1.5zM235.51 121.44h1.5v1.5h-1.5zM233.27 119.17h1.5v1.5h-1.5zM228.75 125.83h1.5v1.5h-1.5zM231.52 121.58h1.5v1.5h-1.5zM226.79 122.17h1.5v1.5h-1.5zM236.59 125.33h1.5v1.5h-1.5zM232.23 122.89h1.5v1.5h-1.5zM230.34 125.43h1.5v1.5h-1.5zM227.51 122.16h1.5v1.5h-1.5zM234.71 124.34h1.5v1.5h-1.5zM225.28 121.45h1.5v1.5h-1.5zM234.45 125.33h1.5v1.5h-1.5z"/>
<path fill="#0024f0" fill-opacity="0.7" d="M239.8 156.3L239.8 130.28H240.64L240.64 123.71H241.49L241.49 130H242.33L242.33 127.71H243.18L243.18 124.08H244.02L244.02 124.48H244.87L244.87 125.97H245.71L245.71 126.85H246.56L246.56 123.29H247.4L247.4 119.96H248.24L248.24 128.77H249.09L249.09 124.63H249.93L249.93 128.7H250.78L250.78 127.05H251.62L251.62 123.33H252.47L252.47 127.3H253.31L253.31 128.95H254.16L254.16 129.29H255L255 156.3Z"/>
<path fill="#0024f0" d="M239.8 156.3L239.8 131.55H240.64L240.64 128.47H241.49L241.49 130.67H242.33L242.33 129.05H243.18L243.18 125.28H244.02L244.02 126.35H244.87L244.87 127.29H245.71L245.71 127.73H246.56L246.56 126.81H247.4L247.4 122.09H248.24L248.24 131.12H249.09L249.09 126.99H249.93L249.93 130.1H250.78L250.78 127.63H251.62L251.62 124.21H252.47L252.47 128.06H253.31L253.31 131.85H254.16L254.16 132.05H255L255 156.3Z"/>
<path fill="#fff" fill-opacity=".6" d="M243.95 131.95h0.7v0.84h-0.7zM243.54 130.34h0.7v0.84h-0.7zM254.17 132.32h0.7v0.84h-0.7zM254.27 130.72h0.7v0.84h-0.7zM244 130.09h0.7v0.84h-0.7zM252.79 134.22h0.7v0.84h-0.7zM244.06 131.24h0.7v0.84h-0.7zM253.99 135.17h0.7v0.84h-0.7zM244.74 130.02h0.7v0.84h-0.7zM241.83 135.43h0.7v0.84h-0.7zM247.44 129.51h0.7v0.84h-0.7zM242.49 135.86h0.7v0.84h-0.7zM242.96 132.21h0.7v0.84h-0.7zM248.08 130.73h0.7v0.84h-0.7zM250.97 130.96h0.7v0.84h-0.7z"/>
<path fill="#0024f0" fill-opacity="1" d="M246.34 124.98h1.5v1.5h-1.5zM241.76 127.07h1.5v1.5h-1.5zM240.58 124.25h1.5v1.5h-1.5zM247.38 127.33h1.5v1.5h-1.5zM251.73 126.9h1.5v1.5h-1.5zM245.44 127.3h1.5v1.5h-1.5zM243.51 122.61h1.5v1.5h-1.5zM244.38 127.26h1.5v1.5h-1.5zM246.53 126.69h1.5v1.5h-1.5zM252.17 127.43h1.5v1.5h-1.5zM253.21 127.61h1.5v1.5h-1.5zM252.06 124.66h1.5v1.5h-1.5zM242.69 125.94h1.5v1.5h-1.5z"/>
<path fill="#5282b1" fill-opacity="0.7" d="M256.1 156.3L256.1 129.84H256.95L256.95 127.49H257.8L257.8 125.77H258.65L258.65 126.87H259.5L259.5 127H260.35L260.35 128.23H261.2L261.2 129.08H262.05L262.05 127.56H262.9L262.9 126.43H263.75L263.75 126.55H264.6L264.6 124.69H265.45L265.45 129.61H266.3L266.3 124.57H267.15L267.15 126.77H268L268 125.79H268.85L268.85 122.82H269.7L269.7 125.76H270.55L270.55 130.52H271.4L271.4 156.3Z"/>
<path fill="#5282b1" d="M256.1 156.3L256.1 131.27H256.95L256.95 129.61H257.8L257.8 128.01H258.65L258.65 127.95H259.5L259.5 127.58H260.35L260.35 129.18H261.2L261.2 129.87H262.05L262.05 128.87H262.9L262.9 129.15H263.75L263.75 127.73H264.6L264.6 129.16H265.45L265.45 131.16H266.3L266.3 125.27H267.15L267.15 128.86H268L268 127.45H268.85L268.85 124.98H269.7L269.7 127.2H270.55L270.55 131.27H271.4L271.4 156.3Z"/>
<path fill="#fff" fill-opacity=".6" d="M270.08 129.97h0.7v0.84h-0.7zM269.74 128.4h0.7v0.84h-0.7zM265.34 131.7h0.7v0.84h-0.7zM261.42 129.56h0.7v0.84h-0.7zM262.42 128.61h0.7v0.84h-0.7zM263.47 130.11h0.7v0.84h-0.7zM270.26 128.61h0.7v0.84h-0.7zM267.44 132.53h0.7v0.84h-0.7zM267.92 130.12h0.7v0.84h-0.7zM269.01 129.01h0.7v0.84h-0.7zM265.47 128.94h0.7v0.84h-0.7zM259.98 129.48h0.7v0.84h-0.7zM264.02 130.67h0.7v0.84h-0.7zM269.6 130.13h0.7v0.84h-0.7zM263.7 130.05h0.7v0.84h-0.7z"/>
<path fill="#5282b1" fill-opacity="1" d="M264.27 121.15h1.5v1.5h-1.5zM258.13 124.32h1.5v1.5h-1.5zM266.4 126.21h1.5v1.5h-1.5zM267.5 118.89h1.5v1.5h-1.5zM261.46 125.18h1.5v1.5h-1.5zM267.69 124.61h1.5v1.5h-1.5zM261.56 118.72h1.5v1.5h-1.5zM266.82 125.55h1.5v1.5h-1.5zM259.42 125.56h1.5v1.5h-1.5zM262.11 115.51h1.5v1.5h-1.5zM267.2 119.84h1.5v1.5h-1.5zM267.35 121.41h1.5v1.5h-1.5zM256.84 124.66h1.5v1.5h-1.5z"/>
<path fill="#0024f0" fill-opacity="0.7" d="M273.5 156.3L273.5 130.55H274.35L274.35 129.48H275.21L275.21 129.5H276.06L276.06 127.7H276.92L276.92 128.79H277.77L277.77 127.63H278.62L278.62 129.76H279.48L279.48 128.06H280.33L280.33 125.77H281.18L281.18 127.64H282.04L282.04 125.74H282.89L282.89 124.63H283.75L283.75 130.56H284.6L284.6 156.3Z"/>
<path fill="#0024f0" d="M273.5 156.3L273.5 131.27H274.35L274.35 130.44H275.21L275.21 130.24H276.06L276.06 128.38H276.92L276.92 130.43H277.77L277.77 128.98H278.62L278.62 130.79H279.48L279.48 129.24H280.33L280.33 128.85H281.18L281.18 128.63H282.04L282.04 126.53H282.89L282.89 125.28H283.75L283.75 131.27H284.6L284.6 156.3Z"/>
<path fill="#fff" fill-opacity=".6" d="M274.82 129.54h0.7v0.84h-0.7zM282.56 132.73h0.7v0.84h-0.7zM279.59 127.47h0.7v0.84h-0.7zM278.68 131.34h0.7v0.84h-0.7zM277.85 128.28h0.7v0.84h-0.7zM281.65 130.35h0.7v0.84h-0.7zM277.45 130.43h0.7v0.84h-0.7zM278.2 132.23h0.7v0.84h-0.7zM276.55 128.65h0.7v0.84h-0.7zM277.56 130.26h0.7v0.84h-0.7zM276.85 128.39h0.7v0.84h-0.7z"/>
<path fill="#0024f0" fill-opacity="1" d="M275.66 116.63h1.5v1.5h-1.5zM280.59 125.18h1.5v1.5h-1.5zM276.74 124.43h1.5v1.5h-1.5zM279.98 122.96h1.5v1.5h-1.5zM281.66 120.8h1.5v1.5h-1.5zM278.47 121.87h1.5v1.5h-1.5zM280.64 121.64h1.5v1.5h-1.5zM278.06 121.32h1.5v1.5h-1.5zM280.3 118.72h1.5v1.5h-1.5z"/>
<path fill="#5282b1" fill-opacity="0.7" d="M287.1 156.3L287.1 131.06H287.95L287.95 125.69H288.8L288.8 128.99H289.65L289.65 133.54H290.5L290.5 133H291.35L291.35 127.43H292.2L292.2 130.91H293.05L293.05 127.65H293.9L293.9 130.04H294.75L294.75 126H295.6L295.6 133.22H296.45L296.45 127.43H297.3L297.3 156.3Z"/>
<path fill="#5282b1" d="M287.1 156.3L287.1 131.82H287.95L287.95 126.75H288.8L288.8 129.85H289.65L289.65 135.16H290.5L290.5 134.55H291.35L291.35 129.46H292.2L292.2 132.03H293.05L293.05 128.34H293.9L293.9 131.68H294.75L294.75 127.3H295.6L295.6 134.74H296.45L296.45 132.86H297.3L297.3 156.3Z"/>
<path fill="#fff" fill-opacity=".6" d="M292.83 130.79h0.7v0.84h-0.7zM290.46 133.53h0.7v0.84h-0.7zM287.5 129.19h0.7v0.84h-0.7zM291.01 129.65h0.7v0.84h-0.7zM293.66 131.66h0.7v0.84h-0.7zM287.14 131.06h0.7v0.84h-0.7zM292.67 134.76h0.7v0.84h-0.7zM293.45 130.24h0.7v0.84h-0.7zM292.36 132.53h0.7v0.84h-0.7zM289.63 131.38h0.7v0.84h-0.7z"/>
<path fill="#5282b1" fill-opacity="1" d="M294.29 125.32h1.5v1.5h-1.5zM288.06 121.01h1.5v1.5h-1.5zM293.1 122.51h1.5v1.5h-1.5zM295.72 121.17h1.5v1.5h-1.5zM290.76 126.87h1.5v1.5h-1.5zM289.62 125.33h1.5v1.5h-1.5zM291.49 126.76h1.5v1.5h-1.5zM288.69 124.55h1.5v1.5h-1.5z"/>
<path fill="#0024f0" fill-opacity="0.7" d="M299.7 156.3L299.7 130.54H300.55L300.55 124.05H301.41L301.41 126.54H302.26L302.26 127.56H303.12L303.12 128.76H303.97L303.97 127.7H304.83L304.83 126.29H305.68L305.68 126.9H306.54L306.54 123.78H307.39L307.39 124.58H308.25L308.25 130.36H309.1L309.1 156.3Z"/>
<path fill="#0024f0" d="M299.7 156.3L299.7 131.27H300.55L300.55 124.85H301.41L301.41 129.19H302.26L302.26 128.62H303.12L303.12 129.45H303.97L303.97 129.02H304.83L304.83 127.96H305.68L305.68 127.83H306.54L306.54 124.82H307.39L307.39 126.31H308.25L308.25 131.27H309.1L309.1 156.3Z"/>
<path fill="#fff" fill-opacity=".6" d="M303.05 128.71h0.7v0.84h-0.7zM300.77 128.41h0.7v0.84h-0.7zM306.88 129.16h0.7v0.84h-0.7zM301.36 129.66h0.7v0.84h-0.7zM302.17 127.82h0.7v0.84h-0.7zM305.48 128.59h0.7v0.84h-0.7zM302.67 130.51h0.7v0.84h-0.7zM300.51 131.87h0.7v0.84h-0.7zM302.05 128.59h0.7v0.84h-0.7z"/>
<path fill="#0024f0" fill-opacity="1" d="M302.78 122.51h1.5v1.5h-1.5zM301.45 125.04h1.5v1.5h-1.5zM306.61 124.21h1.5v1.5h-1.5zM305.96 125.29h1.5v1.5h-1.5zM301.07 124.83h1.5v1.5h-1.5zM301.17 116.04h1.5v1.5h-1.5zM302 123.76h1.5v1.5h-1.5zM300.61 123.93h1.5v1.5h-1.5z"/>
<path fill="#5282b1" fill-opacity="0.7" d="M310 156.3L310 130.49H310.88L310.88 125.05H311.76L311.76 126.46H312.64L312.64 129.81H313.52L313.52 130.35H314.4L314.4 156.3ZM314.9 156.3L314.9 130.24H315.78L315.78 122.04H316.66L316.66 126.26H317.54L317.54 127.03H318.42L318.42 127.67H319.3L319.3 156.3Z"/>
<path fill="#5282b1" d="M310 156.3L310 131.27H310.88L310.88 129.65H311.76L311.76 127.35H312.64L312.64 130.76H313.52L313.52 131.27H314.4L314.4 156.3ZM314.9 156.3L314.9 131.27H315.78L315.78 123.09H316.66L316.66 127.4H317.54L317.54 127.92H318.42L318.42 131.27H319.3L319.3 156.3Z"/>
<path fill="#fff" fill-opacity=".6" d="M312.51 131.97h0.7v0.84h-0.7zM312.46 130.33h0.7v0.84h-0.7zM312.44 131.01h0.7v0.84h-0.7zM312.59 128.44h0.7v0.84h-0.7zM316.2 134.53h0.7v0.84h-0.7zM317.23 129.04h0.7v0.84h-0.7zM318.28 129.81h0.7v0.84h-0.7zM317.62 128.59h0.7v0.84h-0.7z"/>
<path fill="#5282b1" fill-opacity="1" d="M311.76 126.04h1.5v1.5h-1.5zM312.53 126.35h1.5v1.5h-1.5zM311.49 124.51h1.5v1.5h-1.5zM317.15 120.67h1.5v1.5h-1.5zM317.4 126.32h1.5v1.5h-1.5zM315.7 126.63h1.5v1.5h-1.5z"/>
<path fill="#0024f0" fill-opacity="0.7" d="M320.2 156.3L320.2 130.1H321.05L321.05 126.1H321.91L321.91 127.35H322.76L322.76 126.67H323.62L323.62 126.37H324.47L324.47 125.12H325.33L325.33 123.57H326.18L326.18 126.2H327.04L327.04 125.95H327.89L327.89 124.8H328.75L328.75 130H329.6L329.6 156.3Z"/>
<path fill="#0024f0" d="M320.2 156.3L320.2 131.27H321.05L321.05 126.92H321.91L321.91 128.29H322.76L322.76 127.23H323.62L323.62 129.37H324.47L324.47 127.67H325.33L325.33 124.25H326.18L326.18 129H327.04L327.04 127.21H327.89L327.89 127.61H328.75L328.75 131.27H329.6L329.6 156.3Z"/>
<path fill="#fff" fill-opacity=".6" d="M321.95 128.17h0.7v0.84h-0.7zM326.35 129.13h0.7v0.84h-0.7zM326.03 127.72h0.7v0.84h-0.7zM324.68 129.89h0.7v0.84h-0.7zM324.07 130.25h0.7v0.84h-0.7zM322.8 128.69h0.7v0.84h-0.7zM327.9 130.1h0.7v0.84h-0.7zM323.1 130.71h0.7v0.84h-0.7zM327.29 132.66h0.7v0.84h-0.7z"/>
<path fill="#0024f0" fill-opacity="1" d="M324.24 118.44h1.5v1.5h-1.5zM321.21 121.82h1.5v1.5h-1.5zM320.55 122.45h1.5v1.5h-1.5zM326.57 125.02h1.5v1.5h-1.5zM324.52 116.04h1.5v1.5h-1.5zM325.24 123.66h1.5v1.5h-1.5zM322.17 125.7h1.5v1.5h-1.5zM323.03 124.37h1.5v1.5h-1.5z"/>
<path fill="#5282b1" fill-opacity="0.7" d="M330.4 156.3L330.4 129.92H331.22L331.22 130.37H332.04L332.04 126.55H332.86L332.86 128.51H333.68L333.68 123.08H334.5L334.5 125.5H335.32L335.32 129.79H336.14L336.14 121H336.96L336.96 133.19H337.78L337.78 128.39H338.6L338.6 156.3Z"/>
<path fill="#5282b1" d="M330.4 156.3L330.4 131.27H331.22L331.22 131.5H332.04L332.04 128.65H332.86L332.86 129.88H333.68L333.68 129.79H334.5L334.5 131.04H335.32L335.32 131.08H336.14L336.14 122.88H336.96L336.96 134.12H337.78L337.78 131.27H338.6L338.6 156.3Z"/>
<path fill="#fff" fill-opacity=".6" d="M334.53 133.52h0.7v0.84h-0.7zM332.2 133.82h0.7v0.84h-0.7zM330.71 133.51h0.7v0.84h-0.7zM336.55 131.26h0.7v0.84h-0.7zM335.69 135.76h0.7v0.84h-0.7zM334.11 133.73h0.7v0.84h-0.7zM334.15 130.91h0.7v0.84h-0.7zM334.76 131.68h0.7v0.84h-0.7z"/>
<path fill="#5282b1" fill-opacity="1" d="M332.39 127.19h1.5v1.5h-1.5zM334.68 122.5h1.5v1.5h-1.5zM336.61 127.25h1.5v1.5h-1.5zM335.66 122.77h1.5v1.5h-1.5zM335.37 126.66h1.5v1.5h-1.5zM331.64 122.85h1.5v1.5h-1.5zM332.55 126.48h1.5v1.5h-1.5z"/>
<path fill="#0024f0" fill-opacity="0.7" d="M339.2 156.3L339.2 130.59H340.04L340.04 121.52H340.88L340.88 123.69H341.71L341.71 127.17H342.55L342.55 124.78H343.39L343.39 122.43H344.22L344.22 124.85H345.06L345.06 126.06H345.9L345.9 156.3Z"/>
<path fill="#0024f0" d="M339.2 156.3L339.2 131.27H340.04L340.04 122.09H340.88L340.88 124.95H341.71L341.71 128.42H342.55L342.55 127.57H343.39L343.39 124.05H344.22L344.22 126.2H345.06L345.06 131.27H345.9L345.9 156.3Z"/>
<path fill="#fff" fill-opacity=".6" d="M343.08 128.99h0.7v0.84h-0.7zM341 131.4h0.7v0.84h-0.7zM339.37 133.24h0.7v0.84h-0.7zM340.33 129.24h0.7v0.84h-0.7zM339.71 130.86h0.7v0.84h-0.7zM343.16 130.65h0.7v0.84h-0.7z"/>
<path fill="#0024f0" fill-opacity="1" d="M344.2 123.35h1.5v1.5h-1.5zM343.42 125.91h1.5v1.5h-1.5zM342.72 123.43h1.5v1.5h-1.5zM340.74 123.69h1.5v1.5h-1.5zM344.15 124.23h1.5v1.5h-1.5z"/>
<path fill="#5282b1" fill-opacity="0.7" d="M346.5 156.3L346.5 130.07H347.39L347.39 126.94H348.27L348.27 124.19H349.16L349.16 125.35H350.05L350.05 126.94H350.94L350.94 122.47H351.83L351.83 128.96H352.71L352.71 130.08H353.6L353.6 156.3Z"/>
<path fill="#5282b1" d="M346.5 156.3L346.5 131.27H347.39L347.39 128.51H348.27L348.27 125.72H349.16L349.16 126.24H350.05L350.05 128.63H350.94L350.94 125.56H351.83L351.83 129.68H352.71L352.71 131.27H353.6L353.6 156.3Z"/>
<path fill="#fff" fill-opacity=".6" d="M348.42 129.27h0.7v0.84h-0.7zM352.19 131.61h0.7v0.84h-0.7zM350.48 131.22h0.7v0.84h-0.7zM352.37 131.32h0.7v0.84h-0.7zM352.07 130.97h0.7v0.84h-0.7zM348.68 132.95h0.7v0.84h-0.7zM351.39 130.89h0.7v0.84h-0.7z"/>
<path fill="#5282b1" fill-opacity="1" d="M347.46 117.64h1.5v1.5h-1.5zM349.65 122.51h1.5v1.5h-1.5zM347.27 122.49h1.5v1.5h-1.5zM346.82 125.95h1.5v1.5h-1.5zM348.59 126.67h1.5v1.5h-1.5zM349.83 126.04h1.5v1.5h-1.5z"/>
<path fill="#0024f0" fill-opacity="0.7" d="M355.2 156.3L355.2 126.96H356.1L356.1 127.98H357L357 122.5H357.9L357.9 125.88H358.8L358.8 128.66H359.7L359.7 156.3Z"/>
<path fill="#0024f0" d="M355.2 156.3L355.2 131.27H356.1L356.1 128.68H357L357 124.5H357.9L357.9 128.76H358.8L358.8 131.27H359.7L359.7 156.3Z"/>
<path fill="#fff" fill-opacity=".6" d="M358.53 132.04h0.7v0.84h-0.7zM358.27 128.48h0.7v0.84h-0.7zM358.81 130.22h0.7v0.84h-0.7zM355.77 127.58h0.7v0.84h-0.7z"/>
<path fill="#0024f0" fill-opacity="1" d="M355.76 123.38h1.5v1.5h-1.5zM356.07 122.38h1.5v1.5h-1.5zM356.34 125.22h1.5v1.5h-1.5z"/>
<path fill="#5282b1" fill-opacity="0.7" d="M360.9 156.3L360.9 129.26H361.7L361.7 125.89H362.5L362.5 126.4H363.3L363.3 127.38H364.1L364.1 131.77H364.9L364.9 130.68H365.7L365.7 156.3Z"/>
<path fill="#5282b1" d="M360.9 156.3L360.9 131.27H361.7L361.7 127.09H362.5L362.5 127.27H363.3L363.3 128.52H364.1L364.1 132.89H364.9L364.9 131.27H365.7L365.7 156.3Z"/>
<path fill="#fff" fill-opacity=".6" d="M361.97 128.54h0.7v0.84h-0.7zM363.23 136.22h0.7v0.84h-0.7zM364.97 129.78h0.7v0.84h-0.7zM361.04 133.44h0.7v0.84h-0.7z"/>
<path fill="#5282b1" fill-opacity="1" d="M362.42 114.6h1.5v1.5h-1.5zM361.05 126.27h1.5v1.5h-1.5zM363.11 125.82h1.5v1.5h-1.5zM361.8 124.76h1.5v1.5h-1.5z"/>
<path fill="#0024f0" fill-opacity="1" d="M28.02 76.59h1.5v1.5h-1.5zM27.97 92.81h1.5v1.5h-1.5zM27.91 99.15h1.5v1.5h-1.5zM27.91 101.27h1.5v1.5h-1.5zM27.79 103.38h1.5v1.5h-1.5zM34.05 97.04h1.5v1.5h-1.5zM35.38 106.2h1.5v1.5h-1.5zM35.42 107.75h1.5v1.5h-1.5zM35.45 109.3h1.5v1.5h-1.5zM35.33 110.85h1.5v1.5h-1.5zM35.16 112.4h1.5v1.5h-1.5zM35.37 113.96h1.5v1.5h-1.5zM35.36 115.51h1.5v1.5h-1.5zM35.25 117.06h1.5v1.5h-1.5zM35.31 118.61h1.5v1.5h-1.5zM35.18 120.16h1.5v1.5h-1.5zM35.27 121.71h1.5v1.5h-1.5zM35.21 123.26h1.5v1.5h-1.5zM35.05 124.81h1.5v1.5h-1.5zM35.68 109.02h1.5v1.5h-1.5zM35.67 110.57h1.5v1.5h-1.5zM35.97 112.12h1.5v1.5h-1.5zM35.74 113.67h1.5v1.5h-1.5zM35.69 115.22h1.5v1.5h-1.5zM35.63 116.78h1.5v1.5h-1.5zM35.63 118.33h1.5v1.5h-1.5zM35.68 119.88h1.5v1.5h-1.5zM35.59 121.43h1.5v1.5h-1.5zM35.53 122.98h1.5v1.5h-1.5zM35.92 124.53h1.5v1.5h-1.5zM37.23 110.43h1.5v1.5h-1.5zM37.23 112.9h1.5v1.5h-1.5zM37.28 115.37h1.5v1.5h-1.5zM37.16 117.83h1.5v1.5h-1.5zM37.1 120.3h1.5v1.5h-1.5zM37.05 122.77h1.5v1.5h-1.5zM37.16 125.24h1.5v1.5h-1.5zM40.96 108.32h1.5v1.5h-1.5zM41.15 109.87h1.5v1.5h-1.5zM41.07 111.42h1.5v1.5h-1.5zM41.25 112.97h1.5v1.5h-1.5zM40.98 114.52h1.5v1.5h-1.5zM41.24 116.07h1.5v1.5h-1.5zM41.09 117.62h1.5v1.5h-1.5zM40.86 119.17h1.5v1.5h-1.5zM40.91 120.72h1.5v1.5h-1.5zM41.09 122.27h1.5v1.5h-1.5zM41.27 123.83h1.5v1.5h-1.5zM41.79 104.79h1.5v1.5h-1.5zM41.97 107.61h1.5v1.5h-1.5zM41.82 110.43h1.5v1.5h-1.5zM42.02 113.25h1.5v1.5h-1.5zM41.66 116.07h1.5v1.5h-1.5zM42.54 116.07h1.5v1.5h-1.5zM42.73 117.62h1.5v1.5h-1.5zM42.45 119.17h1.5v1.5h-1.5zM42.44 120.72h1.5v1.5h-1.5zM42.34 122.27h1.5v1.5h-1.5zM42.4 123.83h1.5v1.5h-1.5zM49.35 116.07h1.5v1.5h-1.5zM49.54 118.19h1.5v1.5h-1.5zM49.32 120.3h1.5v1.5h-1.5zM49.4 122.42h1.5v1.5h-1.5zM49.32 124.53h1.5v1.5h-1.5zM50.9 111.84h1.5v1.5h-1.5zM51.01 113.39h1.5v1.5h-1.5zM50.92 114.94h1.5v1.5h-1.5zM50.71 116.49h1.5v1.5h-1.5zM50.96 118.04h1.5v1.5h-1.5zM51.06 119.6h1.5v1.5h-1.5zM50.9 121.15h1.5v1.5h-1.5zM50.66 122.7h1.5v1.5h-1.5zM50.99 124.25h1.5v1.5h-1.5zM85.32 99.86h1.5v1.5h-1.5zM85.21 101.41h1.5v1.5h-1.5zM85.33 102.96h1.5v1.5h-1.5zM85.18 104.51h1.5v1.5h-1.5zM85.05 106.06h1.5v1.5h-1.5zM85.21 107.61h1.5v1.5h-1.5zM85.05 109.16h1.5v1.5h-1.5zM85.31 110.71h1.5v1.5h-1.5zM85.18 112.26h1.5v1.5h-1.5zM85.25 113.81h1.5v1.5h-1.5zM85.29 115.37h1.5v1.5h-1.5zM85.14 116.92h1.5v1.5h-1.5zM85.23 118.47h1.5v1.5h-1.5zM85.03 120.02h1.5v1.5h-1.5zM85.44 121.57h1.5v1.5h-1.5zM85.28 123.12h1.5v1.5h-1.5zM85.47 124.67h1.5v1.5h-1.5zM85.65 101.27h1.5v1.5h-1.5zM85.9 102.82h1.5v1.5h-1.5zM85.95 104.37h1.5v1.5h-1.5zM85.77 105.92h1.5v1.5h-1.5zM85.67 107.47h1.5v1.5h-1.5zM85.7 109.02h1.5v1.5h-1.5zM85.69 110.57h1.5v1.5h-1.5zM85.97 112.12h1.5v1.5h-1.5zM85.67 113.67h1.5v1.5h-1.5zM85.99 115.22h1.5v1.5h-1.5zM85.82 116.78h1.5v1.5h-1.5zM85.87 118.33h1.5v1.5h-1.5zM85.89 119.88h1.5v1.5h-1.5zM86.67 116.07h1.5v1.5h-1.5zM86.72 117.62h1.5v1.5h-1.5zM86.7 119.17h1.5v1.5h-1.5zM86.57 120.72h1.5v1.5h-1.5zM86.76 122.27h1.5v1.5h-1.5zM86.54 123.83h1.5v1.5h-1.5zM89.95 116.78h1.5v1.5h-1.5zM89.97 118.33h1.5v1.5h-1.5zM89.97 119.88h1.5v1.5h-1.5zM89.76 121.43h1.5v1.5h-1.5zM89.97 122.98h1.5v1.5h-1.5zM90.06 124.53h1.5v1.5h-1.5zM99.43 120.3h1.5v1.5h-1.5zM99.35 121.85h1.5v1.5h-1.5zM99.46 123.4h1.5v1.5h-1.5zM99.65 124.95h1.5v1.5h-1.5zM102.68 111.14h1.5v1.5h-1.5zM102.63 112.69h1.5v1.5h-1.5zM102.84 114.24h1.5v1.5h-1.5zM102.92 115.79h1.5v1.5h-1.5zM102.97 117.34h1.5v1.5h-1.5zM102.79 118.89h1.5v1.5h-1.5zM103.07 120.44h1.5v1.5h-1.5zM102.73 121.99h1.5v1.5h-1.5zM102.97 123.54h1.5v1.5h-1.5zM102.67 125.09h1.5v1.5h-1.5zM103.24 116.07h1.5v1.5h-1.5zM103.29 117.62h1.5v1.5h-1.5zM103.25 119.17h1.5v1.5h-1.5zM103.45 120.72h1.5v1.5h-1.5zM103.47 122.27h1.5v1.5h-1.5zM103.31 123.83h1.5v1.5h-1.5zM129.86 120.3h1.5v1.5h-1.5zM129.55 121.85h1.5v1.5h-1.5zM129.82 123.4h1.5v1.5h-1.5zM129.71 124.95h1.5v1.5h-1.5zM133.41 118.89h1.5v1.5h-1.5zM133.05 120.44h1.5v1.5h-1.5zM133.28 121.99h1.5v1.5h-1.5zM133.21 123.54h1.5v1.5h-1.5zM133.44 125.09h1.5v1.5h-1.5zM140.45 97.74h1.5v1.5h-1.5zM140.31 102.68h1.5v1.5h-1.5zM140.13 112.55h1.5v1.5h-1.5zM140.14 114.1h1.5v1.5h-1.5zM140.14 115.65h1.5v1.5h-1.5zM140.22 117.2h1.5v1.5h-1.5zM140.13 118.75h1.5v1.5h-1.5zM140.12 120.3h1.5v1.5h-1.5zM140.37 121.85h1.5v1.5h-1.5zM140.31 123.4h1.5v1.5h-1.5zM140.16 124.95h1.5v1.5h-1.5zM142.87 115.37h1.5v1.5h-1.5zM142.52 116.92h1.5v1.5h-1.5zM142.68 118.47h1.5v1.5h-1.5zM142.5 120.02h1.5v1.5h-1.5zM142.81 121.57h1.5v1.5h-1.5zM142.82 123.12h1.5v1.5h-1.5zM142.55 124.67h1.5v1.5h-1.5zM145.36 118.89h1.5v1.5h-1.5zM145.4 120.44h1.5v1.5h-1.5zM145.15 121.99h1.5v1.5h-1.5zM145.17 123.54h1.5v1.5h-1.5zM145.24 125.09h1.5v1.5h-1.5zM147.93 116.07h1.5v1.5h-1.5zM147.6 118.89h1.5v1.5h-1.5zM172.41 113.96h1.5v1.5h-1.5zM172.11 115.51h1.5v1.5h-1.5zM172.41 117.06h1.5v1.5h-1.5zM172.47 118.61h1.5v1.5h-1.5zM172.16 120.16h1.5v1.5h-1.5zM172.04 121.71h1.5v1.5h-1.5zM172.08 123.26h1.5v1.5h-1.5zM172.46 124.81h1.5v1.5h-1.5zM172.73 117.48h1.5v1.5h-1.5zM173.14 119.03h1.5v1.5h-1.5zM172.79 120.58h1.5v1.5h-1.5zM173.06 122.13h1.5v1.5h-1.5zM172.77 123.68h1.5v1.5h-1.5zM172.8 125.24h1.5v1.5h-1.5zM175.13 113.25h1.5v1.5h-1.5zM174.87 114.8h1.5v1.5h-1.5zM174.98 116.35h1.5v1.5h-1.5zM175.24 117.9h1.5v1.5h-1.5zM175.15 119.45h1.5v1.5h-1.5zM175.22 121.01h1.5v1.5h-1.5zM175.27 122.56h1.5v1.5h-1.5zM174.84 124.11h1.5v1.5h-1.5zM176.13 118.89h1.5v1.5h-1.5zM176.38 120.44h1.5v1.5h-1.5zM176.34 121.99h1.5v1.5h-1.5zM176.04 123.54h1.5v1.5h-1.5zM176.25 125.09h1.5v1.5h-1.5zM186.73 115.37h1.5v1.5h-1.5zM186.82 116.92h1.5v1.5h-1.5zM186.67 118.47h1.5v1.5h-1.5zM186.63 120.02h1.5v1.5h-1.5zM187.07 121.57h1.5v1.5h-1.5zM186.77 123.12h1.5v1.5h-1.5zM187.02 124.67h1.5v1.5h-1.5zM209.74 121.01h1.5v1.5h-1.5zM209.59 122.56h1.5v1.5h-1.5zM209.72 124.11h1.5v1.5h-1.5zM217.51 109.02h1.5v1.5h-1.5zM217.73 114.66h1.5v1.5h-1.5zM217.49 117.48h1.5v1.5h-1.5zM217.76 119.03h1.5v1.5h-1.5zM217.65 120.58h1.5v1.5h-1.5zM217.48 122.13h1.5v1.5h-1.5zM217.58 123.68h1.5v1.5h-1.5zM217.65 125.24h1.5v1.5h-1.5zM218.94 120.3h1.5v1.5h-1.5zM218.68 121.85h1.5v1.5h-1.5zM218.62 123.4h1.5v1.5h-1.5zM218.96 124.95h1.5v1.5h-1.5zM239.62 94.57h1.5v1.5h-1.5zM239.55 109.02h1.5v1.5h-1.5zM243.95 113.96h1.5v1.5h-1.5zM243.9 115.51h1.5v1.5h-1.5zM243.94 117.06h1.5v1.5h-1.5zM243.86 118.61h1.5v1.5h-1.5zM243.84 120.16h1.5v1.5h-1.5zM244.05 121.71h1.5v1.5h-1.5zM244.01 123.26h1.5v1.5h-1.5zM244.08 124.81h1.5v1.5h-1.5zM246.79 118.19h1.5v1.5h-1.5zM246.63 119.74h1.5v1.5h-1.5zM246.93 121.29h1.5v1.5h-1.5zM246.92 122.84h1.5v1.5h-1.5zM246.87 124.39h1.5v1.5h-1.5zM252.27 118.19h1.5v1.5h-1.5zM252.34 119.74h1.5v1.5h-1.5zM252.47 121.29h1.5v1.5h-1.5zM252.42 122.84h1.5v1.5h-1.5zM252.35 124.39h1.5v1.5h-1.5zM276.2 118.89h1.5v1.5h-1.5zM276.2 120.44h1.5v1.5h-1.5zM276.21 121.99h1.5v1.5h-1.5zM276.09 123.54h1.5v1.5h-1.5zM276.47 125.09h1.5v1.5h-1.5zM283.03 121.01h1.5v1.5h-1.5zM303.77 109.73h1.5v1.5h-1.5zM322.76 91.04h1.5v1.5h-1.5zM322.81 98.45h1.5v1.5h-1.5zM322.65 109.02h1.5v1.5h-1.5zM322.69 111.14h1.5v1.5h-1.5zM322.87 113.25h1.5v1.5h-1.5zM322.53 115.37h1.5v1.5h-1.5zM322.71 116.92h1.5v1.5h-1.5zM322.76 118.47h1.5v1.5h-1.5zM322.6 120.02h1.5v1.5h-1.5zM322.75 121.57h1.5v1.5h-1.5zM322.6 123.12h1.5v1.5h-1.5zM322.66 124.67h1.5v1.5h-1.5zM323.8 118.19h1.5v1.5h-1.5zM323.83 119.74h1.5v1.5h-1.5zM323.67 121.29h1.5v1.5h-1.5zM323.81 122.84h1.5v1.5h-1.5zM323.77 124.39h1.5v1.5h-1.5zM340.64 119.6h1.5v1.5h-1.5zM340.93 121.15h1.5v1.5h-1.5zM340.74 122.7h1.5v1.5h-1.5zM340.85 124.25h1.5v1.5h-1.5zM343.26 117.48h1.5v1.5h-1.5zM343.24 119.03h1.5v1.5h-1.5zM343.12 120.58h1.5v1.5h-1.5zM343.09 122.13h1.5v1.5h-1.5zM343.44 123.68h1.5v1.5h-1.5zM343.26 125.24h1.5v1.5h-1.5zM344.46 116.07h1.5v1.5h-1.5zM344.46 117.48h1.5v1.5h-1.5zM356.13 117.48h1.5v1.5h-1.5zM356.1 119.03h1.5v1.5h-1.5zM356.39 120.58h1.5v1.5h-1.5zM356.23 122.13h1.5v1.5h-1.5zM356.31 123.68h1.5v1.5h-1.5zM356.4 125.24h1.5v1.5h-1.5z"/>
<path fill="#5282b1" fill-opacity="1" d="M57.82 80.12h1.5v1.5h-1.5zM57.58 81.53h1.5v1.5h-1.5zM57.49 107.61h1.5v1.5h-1.5zM57.51 114.66h1.5v1.5h-1.5zM57.67 116.07h1.5v1.5h-1.5zM58.92 116.07h1.5v1.5h-1.5zM58.81 118.89h1.5v1.5h-1.5zM58.94 121.01h1.5v1.5h-1.5zM67.12 113.96h1.5v1.5h-1.5zM69.67 120.3h1.5v1.5h-1.5zM69.86 121.71h1.5v1.5h-1.5zM106.75 111.84h1.5v1.5h-1.5zM106.49 113.39h1.5v1.5h-1.5zM106.39 114.94h1.5v1.5h-1.5zM106.4 116.49h1.5v1.5h-1.5zM106.66 118.04h1.5v1.5h-1.5zM106.74 119.6h1.5v1.5h-1.5zM106.4 121.15h1.5v1.5h-1.5zM106.34 122.7h1.5v1.5h-1.5zM106.68 124.25h1.5v1.5h-1.5zM106.53 92.81h1.5v1.5h-1.5zM106.87 96.33h1.5v1.5h-1.5zM107.25 27.95h1.5v1.5h-1.5zM107.31 61.79h1.5v1.5h-1.5zM107.18 63.9h1.5v1.5h-1.5zM107.39 65.31h1.5v1.5h-1.5zM107.23 69.54h1.5v1.5h-1.5zM107.17 70.95h1.5v1.5h-1.5zM117.43 118.89h1.5v1.5h-1.5zM117.07 121.01h1.5v1.5h-1.5zM153.93 104.09h1.5v1.5h-1.5zM153.89 105.5h1.5v1.5h-1.5zM153.83 106.91h1.5v1.5h-1.5zM155.89 114.66h1.5v1.5h-1.5zM156.02 116.78h1.5v1.5h-1.5zM155.72 119.6h1.5v1.5h-1.5zM156.02 121.71h1.5v1.5h-1.5zM165.99 113.25h1.5v1.5h-1.5zM167.88 113.96h1.5v1.5h-1.5zM198.08 119.6h1.5v1.5h-1.5zM257.4 116.07h1.5v1.5h-1.5zM269.37 116.07h1.5v1.5h-1.5zM269.41 118.89h1.5v1.5h-1.5zM269.66 121.01h1.5v1.5h-1.5zM291.3 90.69h1.5v1.5h-1.5zM291.44 93.51h1.5v1.5h-1.5zM291.14 96.33h1.5v1.5h-1.5zM291.3 99.15h1.5v1.5h-1.5zM291.19 102.68h1.5v1.5h-1.5zM291.13 105.5h1.5v1.5h-1.5zM291.11 109.02h1.5v1.5h-1.5zM291.08 116.07h1.5v1.5h-1.5zM291.4 119.6h1.5v1.5h-1.5zM291.38 121.71h1.5v1.5h-1.5zM295.43 118.89h1.5v1.5h-1.5zM295.05 120.44h1.5v1.5h-1.5zM295.34 121.99h1.5v1.5h-1.5zM295.17 123.54h1.5v1.5h-1.5zM295.32 125.09h1.5v1.5h-1.5zM309.37 116.78h1.5v1.5h-1.5zM311.06 106.2h1.5v1.5h-1.5zM310.63 120.3h1.5v1.5h-1.5zM330.13 111.14h1.5v1.5h-1.5zM333.3 121.01h1.5v1.5h-1.5zM350.39 121.01h1.5v1.5h-1.5zM361.43 121.01h1.5v1.5h-1.5z"/>
</g>
<path d="M25.8 105.09H365.8" stroke="#f59c98" stroke-width="1.3" stroke-dasharray="1.3 1.2" fill="none"/>
<g filter="url(#t)">
<path d="M25.4 29.1V158.6M23.1 156.3h2.3M23.1 142.2h2.3M23.1 128.1h2.3M23.1 114h2.3M23.1 99.9h2.3M23.1 85.8h2.3M23.1 71.7h2.3M23.1 57.6h2.3M23.1 43.5h2.3M23.1 29.4h2.3M25.4 156.55H365.5M25.4 156.3v2.3M79 156.3v2.3M132.6 156.3v2.3M186.2 156.3v2.3M239.8 156.3v2.3M293.4 156.3v2.3M347 156.3v2.3" stroke="#555" stroke-width="0.5" fill="none"/>
<g font-family='"Liberation Sans", sans-serif' font-size="5.2" fill="#222" text-anchor="end"><text x="21.6" y="158.17">0</text><text x="21.6" y="144.07">2</text><text x="21.6" y="129.97">4</text><text x="21.6" y="115.87">6</text><text x="21.6" y="101.77">8</text><text x="21.6" y="87.67">10</text><text x="21.6" y="73.57">12</text><text x="21.6" y="59.47">14</text><text x="21.6" y="45.37">16</text><text x="21.6" y="31.27">18</text></g>
<g font-family='"Liberation Sans", sans-serif' font-size="5.2" fill="#222" text-anchor="middle"><text x="40" y="164.8">1</text><text x="68.9" y="164.8">2</text><text x="95.1" y="164.8">3</text><text x="118" y="164.8">4</text><text x="140.3" y="164.8">5</text><text x="160.8" y="164.8">6</text><text x="180.5" y="164.8">7</text><text x="198.7" y="164.8">8</text><text x="215.2" y="164.8">9</text><text x="231.8" y="164.8">10</text><text x="248" y="164.8">11</text><text x="263.8" y="164.8">12</text><text x="278.8" y="164.8">13</text><text x="293.3" y="164.8">14</text><text x="303.5" y="164.8">15</text><text x="315.3" y="164.8">16</text><text x="325" y="164.8">17</text><text x="334.5" y="164.8">18</text><text x="342.7" y="164.8">19</text><text x="349.7" y="164.8">20</text><text x="356.3" y="164.8">21</text><text x="362.4" y="164.8">22</text></g>
<text x="195.65" y="171.2" font-family='"Liberation Sans", sans-serif' font-size="5.3" fill="#222" text-anchor="middle" letter-spacing="0.1">Chromosome</text>
<text transform="translate(11 92.85) rotate(-90)" font-family='"Liberation Sans", sans-serif' font-size="5.3" fill="#222" text-anchor="middle" letter-spacing="0.15">-log10 P-value</text>
</g>
<g filter="url(#t)">
<path d="M374 114.3H454" stroke="#333" stroke-width="0.65" stroke-dasharray="2.5 0.8" fill="none"/>
<path d="M453.8 112.6L457.4 114.3L453.8 116Z" fill="#111"/>
<path d="M478.2 51.9V136.9M477 135.7H562.5M477 135.7h1.2M477 126.5h1.2M477 117.3h1.2M477 108.1h1.2M477 98.9h1.2M477 89.7h1.2M477 80.5h1.2M477 71.3h1.2M477 62.1h1.2M477 52.9h1.2M478.2 135.7v1.2M484.69 135.7v1.2M491.17 135.7v1.2M497.65 135.7v1.2M504.14 135.7v1.2M510.62 135.7v1.2M517.11 135.7v1.2M523.6 135.7v1.2M530.08 135.7v1.2M536.56 135.7v1.2M543.05 135.7v1.2M549.53 135.7v1.2M556.02 135.7v1.2" stroke="#555" stroke-width="0.4" fill="none"/>
<g font-family='"Liberation Sans", sans-serif' font-size="3.5" fill="#111" text-anchor="end"><text x="476.7" y="136.85">0</text><text x="476.7" y="127.65">2</text><text x="476.7" y="118.45">4</text><text x="476.7" y="109.25">6</text><text x="476.7" y="100.05">8</text><text x="476.7" y="90.85">10</text><text x="476.7" y="81.65">12</text><text x="476.7" y="72.45">14</text><text x="476.7" y="63.25">16</text><text x="476.7" y="54.05">18</text></g><g font-family='"Liberation Sans", sans-serif' font-size="3.3" fill="#111" text-anchor="middle"><text x="478.2" y="139.6">0.0</text><text x="484.69" y="139.6">0.5</text><text x="491.17" y="139.6">1.0</text><text x="497.65" y="139.6">1.5</text><text x="504.14" y="139.6">2.0</text><text x="510.62" y="139.6">2.5</text><text x="517.11" y="139.6">3.0</text><text x="523.6" y="139.6">3.5</text><text x="530.08" y="139.6">4.0</text><text x="536.56" y="139.6">4.5</text><text x="543.05" y="139.6">5.0</text><text x="549.53" y="139.6">5.5</text><text x="556.02" y="139.6">6.0</text></g>
<text x="520.4" y="145.4" font-family='"Liberation Sans", sans-serif' font-size="3.3" fill="#111" text-anchor="middle" letter-spacing=".2">Expected -log10 P-value</text>
<text transform="translate(468.4 93.8) rotate(-90)" font-family='"Liberation Sans", sans-serif' font-size="3.3" fill="#111" text-anchor="middle" letter-spacing=".2">Observed -log10 P-value</text>
<path d="M478.2 135.7L561.86 106.03" stroke="#f0605a" stroke-width="0.5" stroke-dasharray="1.1 0.7" fill="none"/>
<path d="M478.2 135.7L504 126L531.4 114.3L536 111.2L541 107.3L543.8 103.6L546.3 99.4L547.6 98.2L549 97.6L550.4 95.4L551.6 93" stroke="#333" stroke-width="0.8" fill="none" stroke-linejoin="round"/>
<path fill="#4a4a4a" d="M551.5 86.7h.8v.8h-.8zM552.1 84.3h.8v.8h-.8zM552.6 82h.8v.8h-.8zM553.3 79.7h.8v.8h-.8zM554 77.8h.8v.8h-.8zM554.6 76.6h.8v.8h-.8zM555.5 75.8h.8v.8h-.8zM556.4 75h.8v.8h-.8zM557.3 74.4h.8v.8h-.8zM559.1 52.1h.8v.8h-.8zM561.2 52.1h.8v.8h-.8z"/>
</g>
<g filter="url(#b)">
<path fill="#0024f0" fill-opacity="0.6" d="M13.84 270.3L13.84 247.53H14.25L14.25 238.03H14.66L14.66 235.94H15.08L15.08 241.45H15.49L15.49 244.04H15.9L15.9 245.94H16.32L16.32 242.3H16.73L16.73 242.93H17.14L17.14 235.76H17.56L17.56 240.47H17.97L17.97 242.46H18.38L18.38 241.43H18.79L18.79 241.64H19.21L19.21 241H19.62L19.62 247.03H20.03L20.03 270.3ZM20.66 270.3L20.66 243.81H21.09L21.09 236.84H21.51L21.51 241.77H21.94L21.94 246.97H22.36L22.36 238.13H22.78L22.78 244.51H23.21L23.21 241.45H23.63L23.63 239.85H24.06L24.06 238.26H24.48L24.48 247H24.91L24.91 241.08H25.33L25.33 240.55H25.75L25.75 245.1H26.18L26.18 270.3Z"/>
<path fill="#0024f0" d="M13.84 270.3L13.84 249.35H14.25L14.25 243.26H14.66L14.66 245.82H15.08L15.08 246.62H15.49L15.49 246.6H15.9L15.9 248.4H16.32L16.32 243.96H16.73L16.73 245.34H17.14L17.14 241.75H17.56L17.56 244.18H17.97L17.97 245.02H18.38L18.38 245.33H18.79L18.79 245.13H19.21L19.21 245.36H19.62L19.62 248.71H20.03L20.03 270.3ZM20.66 270.3L20.66 248.68H21.09L21.09 238.6H21.51L21.51 243.42H21.94L21.94 248.62H22.36L22.36 248.01H22.78L22.78 247.7H23.21L23.21 243.67H23.63L23.63 243.22H24.06L24.06 244.38H24.48L24.48 249.03H24.91L24.91 244.03H25.33L25.33 245.75H25.75L25.75 246.74H26.18L26.18 270.3Z"/>
<path fill="#0024f0" fill-opacity="0.9" d="M17.92 241.33h0.8v0.8h-0.8zM16.67 240.37h0.8v0.8h-0.8zM18.7 237.05h0.8v0.8h-0.8zM13.98 239.41h0.8v0.8h-0.8zM16.33 240.67h0.8v0.8h-0.8zM18.37 241.06h0.8v0.8h-0.8zM16.39 233.42h0.8v0.8h-0.8zM16.21 240.42h0.8v0.8h-0.8zM16.6 235.56h0.8v0.8h-0.8zM17.45 237.35h0.8v0.8h-0.8zM16 243.31h0.8v0.8h-0.8zM22.15 240.03h0.8v0.8h-0.8zM22.59 239.71h0.8v0.8h-0.8zM22.19 242.04h0.8v0.8h-0.8zM24.42 241.93h0.8v0.8h-0.8zM24.01 236.11h0.8v0.8h-0.8zM23.45 240.74h0.8v0.8h-0.8zM25.07 240.82h0.8v0.8h-0.8zM24.8 243.23h0.8v0.8h-0.8zM22.71 238.85h0.8v0.8h-0.8zM20.89 234.45h0.8v0.8h-0.8z"/>
<path fill="#5282b1" fill-opacity="0.6" d="M26.99 270.3L26.99 241.54H27.42L27.42 242.73H27.84L27.84 229.47H28.27L28.27 235.53H28.7L28.7 236.86H29.13L29.13 240.14H29.55L29.55 242.71H29.98L29.98 231.14H30.41L30.41 235.85H30.83L30.83 240.68H31.26L31.26 235.36H31.69L31.69 235.69H32.11L32.11 243.29H32.54L32.54 239.04H32.97L32.97 238.13H33.4L33.4 243.25H33.82L33.82 238.68H34.25L34.25 240.11H34.68L34.68 239.23H35.1L35.1 231.66H35.53L35.53 233.62H35.96L35.96 240.56H36.39L36.39 242.53H36.81L36.81 234.17H37.24L37.24 239.11H37.67L37.67 242.55H38.09L38.09 241.32H38.52L38.52 244.63H38.95L38.95 240.54H39.38L39.38 270.3Z"/>
<path fill="#5282b1" d="M26.99 270.3L26.99 246.74H27.42L27.42 245.05H27.84L27.84 231.52H28.27L28.27 243.92H28.7L28.7 243.77H29.13L29.13 241.76H29.55L29.55 246.22H29.98L29.98 233.55H30.41L30.41 245.73H30.83L30.83 244.53H31.26L31.26 239.85H31.69L31.69 237.51H32.11L32.11 246.52H32.54L32.54 242.13H32.97L32.97 244.2H33.4L33.4 245.49H33.82L33.82 246.09H34.25L34.25 242.59H34.68L34.68 242.12H35.1L35.1 233.99H35.53L35.53 238.68H35.96L35.96 242.31H36.39L36.39 245.04H36.81L36.81 242.17H37.24L37.24 242.12H37.67L37.67 244.36H38.09L38.09 243.25H38.52L38.52 246.65H38.95L38.95 246.74H39.38L39.38 270.3Z"/>
<path fill="#5282b1" fill-opacity="0.9" d="M32.8 231.72h0.8v0.8h-0.8zM27.16 228.73h0.8v0.8h-0.8zM32.65 234.68h0.8v0.8h-0.8zM33.6 236.49h0.8v0.8h-0.8zM29.65 235.49h0.8v0.8h-0.8zM28.77 240.42h0.8v0.8h-0.8zM27.35 239.54h0.8v0.8h-0.8zM32.99 240.24h0.8v0.8h-0.8zM37.31 241.41h0.8v0.8h-0.8zM33.69 240.6h0.8v0.8h-0.8zM33.89 234.83h0.8v0.8h-0.8zM35.23 241.52h0.8v0.8h-0.8zM29.84 237.65h0.8v0.8h-0.8zM38.38 241.62h0.8v0.8h-0.8zM34.15 236.45h0.8v0.8h-0.8zM36.43 239.91h0.8v0.8h-0.8zM36.38 238.99h0.8v0.8h-0.8zM37.66 241.77h0.8v0.8h-0.8zM37.88 239.39h0.8v0.8h-0.8zM31.71 241.39h0.8v0.8h-0.8zM29.83 235.78h0.8v0.8h-0.8zM34.85 241.07h0.8v0.8h-0.8zM30.98 241.13h0.8v0.8h-0.8z"/>
<path fill="#0024f0" fill-opacity="0.6" d="M40.23 270.3L40.23 241.64H40.66L40.66 239.53H41.08L41.08 239.75H41.51L41.51 244.49H41.94L41.94 236.13H42.36L42.36 234.81H42.79L42.79 244.94H43.21L43.21 238.33H43.64L43.64 233.35H44.06L44.06 239.28H44.49L44.49 241.58H44.92L44.92 241.76H45.34L45.34 240.62H45.77L45.77 245.1H46.19L46.19 245.66H46.62L46.62 244.33H47.05L47.05 238.64H47.47L47.47 237.44H47.9L47.9 241.38H48.32L48.32 243.66H48.75L48.75 244.86H49.17L49.17 239.29H49.6L49.6 244.53H50.03L50.03 270.3Z"/>
<path fill="#0024f0" d="M40.23 270.3L40.23 246.74H40.66L40.66 246.49H41.08L41.08 245.53H41.51L41.51 246.99H41.94L41.94 240.78H42.36L42.36 241.69H42.79L42.79 248.49H43.21L43.21 244.52H43.64L43.64 241.53H44.06L44.06 241.46H44.49L44.49 243.71H44.92L44.92 246.11H45.34L45.34 244.76H45.77L45.77 246.83H46.19L46.19 249.24H46.62L46.62 245.88H47.05L47.05 242.27H47.47L47.47 243.21H47.9L47.9 245.66H48.32L48.32 245.47H48.75L48.75 246.85H49.17L49.17 241.39H49.6L49.6 247.19H50.03L50.03 270.3Z"/>
<path fill="#0024f0" fill-opacity="0.9" d="M44.73 228.49h0.8v0.8h-0.8zM44.79 222.33h0.8v0.8h-0.8zM41.94 234.62h0.8v0.8h-0.8zM41.69 239.3h0.8v0.8h-0.8zM40.24 241.84h0.8v0.8h-0.8zM48.73 239.95h0.8v0.8h-0.8zM47.51 241.4h0.8v0.8h-0.8zM43.4 242.23h0.8v0.8h-0.8zM45.2 233.68h0.8v0.8h-0.8zM44.85 240.56h0.8v0.8h-0.8zM48.58 232.49h0.8v0.8h-0.8zM46.22 242.35h0.8v0.8h-0.8zM45.84 240.04h0.8v0.8h-0.8zM48.85 240.67h0.8v0.8h-0.8zM46.18 238.16h0.8v0.8h-0.8zM43.61 239.35h0.8v0.8h-0.8zM46.32 231.87h0.8v0.8h-0.8zM44.71 240.65h0.8v0.8h-0.8z"/>
<path fill="#5282b1" fill-opacity="0.6" d="M50.88 270.3L50.88 244.93H51.3L51.3 244.82H51.71L51.71 228.05H52.13L52.13 240.9H52.55L52.55 241.33H52.96L52.96 244.5H53.38L53.38 241.07H53.79L53.79 238.49H54.21L54.21 239.43H54.63L54.63 238.54H55.04L55.04 239.46H55.46L55.46 234.72H55.87L55.87 241.8H56.29L56.29 240.03H56.7L56.7 241.52H57.12L57.12 243.39H57.54L57.54 239.21H57.95L57.95 245.48H58.37L58.37 241.66H58.78L58.78 246.73H59.2L59.2 240.81H59.62L59.62 237.12H60.03L60.03 246.49H60.45L60.45 270.3Z"/>
<path fill="#5282b1" d="M50.88 270.3L50.88 247.81H51.3L51.3 249.5H51.71L51.71 234.63H52.13L52.13 242.53H52.55L52.55 243.61H52.96L52.96 247.26H53.38L53.38 245.16H53.79L53.79 242.68H54.21L54.21 244.94H54.63L54.63 244.84H55.04L55.04 241.11H55.46L55.46 243.71H55.87L55.87 243.82H56.29L56.29 242.69H56.7L56.7 243.56H57.12L57.12 247.22H57.54L57.54 242.18H57.95L57.95 247.73H58.37L58.37 243.96H58.78L58.78 248.35H59.2L59.2 248.74H59.62L59.62 241.84H60.03L60.03 248.28H60.45L60.45 270.3Z"/>
<path fill="#5282b1" fill-opacity="0.9" d="M53.57 237.89h0.8v0.8h-0.8zM59.36 238.03h0.8v0.8h-0.8zM56.95 235.82h0.8v0.8h-0.8zM54.34 229.75h0.8v0.8h-0.8zM57.39 240.7h0.8v0.8h-0.8zM54.32 235.14h0.8v0.8h-0.8zM53.95 241.67h0.8v0.8h-0.8zM58.52 239.15h0.8v0.8h-0.8zM55.45 237.56h0.8v0.8h-0.8zM58.78 241.96h0.8v0.8h-0.8zM53.85 242.3h0.8v0.8h-0.8zM54.5 239.43h0.8v0.8h-0.8zM58.35 237.59h0.8v0.8h-0.8zM55.95 240.25h0.8v0.8h-0.8zM55.91 241.15h0.8v0.8h-0.8zM58.29 235.53h0.8v0.8h-0.8zM58.23 241.86h0.8v0.8h-0.8zM56.77 236.21h0.8v0.8h-0.8z"/>
<path fill="#0024f0" fill-opacity="0.6" d="M61.21 270.3L61.21 245.16H61.64L61.64 243.53H62.07L62.07 239.71H62.5L62.5 244.7H62.93L62.93 248.76H63.36L63.36 246.8H63.79L63.79 244.55H64.22L64.22 245.88H64.65L64.65 245.16H65.08L65.08 244.77H65.51L65.51 244.14H65.94L65.94 246.76H66.37L66.37 240.62H66.8L66.8 246.58H67.23L67.23 239.47H67.66L67.66 246.67H68.08L68.08 243.97H68.51L68.51 248.45H68.94L68.94 239.49H69.37L69.37 246.33H69.8L69.8 236.98H70.23L70.23 270.3Z"/>
<path fill="#0024f0" d="M61.21 270.3L61.21 249.06H61.64L61.64 247.82H62.07L62.07 245.19H62.5L62.5 246.45H62.93L62.93 251.3H63.36L63.36 249.21H63.79L63.79 246.21H64.22L64.22 247.49H64.65L64.65 248.94H65.08L65.08 246.85H65.51L65.51 249.43H65.94L65.94 248.34H66.37L66.37 245.08H66.8L66.8 250.12H67.23L67.23 244.7H67.66L67.66 248.36H68.08L68.08 248.11H68.51L68.51 250.45H68.94L68.94 242.67H69.37L69.37 248.35H69.8L69.8 246.74H70.23L70.23 270.3Z"/>
<path fill="#0024f0" fill-opacity="0.9" d="M67.36 231.36h0.8v0.8h-0.8zM68.77 239.02h0.8v0.8h-0.8zM67.13 244.57h0.8v0.8h-0.8zM62.9 244.81h0.8v0.8h-0.8zM68.31 239.03h0.8v0.8h-0.8zM66.39 243.47h0.8v0.8h-0.8zM64.13 244.06h0.8v0.8h-0.8zM66.41 223.15h0.8v0.8h-0.8zM63.73 244.66h0.8v0.8h-0.8zM62.65 242.87h0.8v0.8h-0.8zM68.6 237.43h0.8v0.8h-0.8zM64.95 244.38h0.8v0.8h-0.8zM62.09 244.11h0.8v0.8h-0.8zM67.6 241.96h0.8v0.8h-0.8zM69.35 233.8h0.8v0.8h-0.8zM67.75 241.92h0.8v0.8h-0.8zM67.97 244.24h0.8v0.8h-0.8z"/>
<path fill="#5282b1" fill-opacity="0.6" d="M71.09 270.3L71.09 245.17H71.51L71.51 236.01H71.94L71.94 238.67H72.36L72.36 241.37H72.78L72.78 239.71H73.21L73.21 241.65H73.63L73.63 237.27H74.05L74.05 237.16H74.48L74.48 242.98H74.9L74.9 239.14H75.33L75.33 240.64H75.75L75.75 240.89H76.17L76.17 239.51H76.6L76.6 239.31H77.02L77.02 235.85H77.44L77.44 243.11H77.87L77.87 238.58H78.29L78.29 236.24H78.71L78.71 237.26H79.14L79.14 241.99H79.56L79.56 270.3Z"/>
<path fill="#5282b1" d="M71.09 270.3L71.09 246.74H71.51L71.51 245.89H71.94L71.94 244H72.36L72.36 244.9H72.78L72.78 244.75H73.21L73.21 244.92H73.63L73.63 243.72H74.05L74.05 244.06H74.48L74.48 244.81H74.9L74.9 242.97H75.33L75.33 242.28H75.75L75.75 245.26H76.17L76.17 242.48H76.6L76.6 240.98H77.02L77.02 238.5H77.44L77.44 247.71H77.87L77.87 243.8H78.29L78.29 243.85H78.71L78.71 241.1H79.14L79.14 246.74H79.56L79.56 270.3Z"/>
<path fill="#5282b1" fill-opacity="0.9" d="M71.89 225.51h0.8v0.8h-0.8zM76.54 241.07h0.8v0.8h-0.8zM77.28 241.2h0.8v0.8h-0.8zM75.02 241.5h0.8v0.8h-0.8zM77.13 231.96h0.8v0.8h-0.8zM78.12 242h0.8v0.8h-0.8zM77.62 238.31h0.8v0.8h-0.8zM77.39 238.83h0.8v0.8h-0.8zM75.85 237.89h0.8v0.8h-0.8zM77.22 241.64h0.8v0.8h-0.8zM71.51 238.41h0.8v0.8h-0.8zM73.32 239.7h0.8v0.8h-0.8zM71.15 235.78h0.8v0.8h-0.8zM71.27 233.94h0.8v0.8h-0.8zM77.32 239.22h0.8v0.8h-0.8zM72.03 237.22h0.8v0.8h-0.8z"/>
<path fill="#0024f0" fill-opacity="0.6" d="M80.15 270.3L80.15 244.23H80.57L80.57 235.88H80.99L80.99 237.53H81.4L81.4 236.39H81.82L81.82 235.52H82.24L82.24 241.31H82.66L82.66 244.04H83.08L83.08 244.93H83.5L83.5 242.41H83.92L83.92 236.03H84.34L84.34 240.7H84.76L84.76 239.22H85.18L85.18 235.15H85.6L85.6 242.89H86.02L86.02 236.42H86.44L86.44 235.21H86.86L86.86 237.99H87.28L87.28 237.36H87.7L87.7 243.46H88.12L88.12 270.3Z"/>
<path fill="#0024f0" d="M80.15 270.3L80.15 246.74H80.57L80.57 241.7H80.99L80.99 242.33H81.4L81.4 241.25H81.82L81.82 239.12H82.24L82.24 244.98H82.66L82.66 249.19H83.08L83.08 246.52H83.5L83.5 248.73H83.92L83.92 240.35H84.34L84.34 243.12H84.76L84.76 243.16H85.18L85.18 245.03H85.6L85.6 245.62H86.02L86.02 243.72H86.44L86.44 241.76H86.86L86.86 240.37H87.28L87.28 246.57H87.7L87.7 246.74H88.12L88.12 270.3Z"/>
<path fill="#0024f0" fill-opacity="0.9" d="M86.87 240.28h0.8v0.8h-0.8zM86.7 237.33h0.8v0.8h-0.8zM87.08 242.23h0.8v0.8h-0.8zM81.67 241.12h0.8v0.8h-0.8zM86.65 242.6h0.8v0.8h-0.8zM82.01 236.93h0.8v0.8h-0.8zM87.24 241.78h0.8v0.8h-0.8zM83.29 237.37h0.8v0.8h-0.8zM85.1 236.41h0.8v0.8h-0.8zM85.55 241.36h0.8v0.8h-0.8zM81.99 242.54h0.8v0.8h-0.8zM85.1 241.59h0.8v0.8h-0.8zM82.01 227.46h0.8v0.8h-0.8zM84.76 238.58h0.8v0.8h-0.8zM84.85 238.51h0.8v0.8h-0.8z"/>
<path fill="#5282b1" fill-opacity="0.6" d="M88.88 270.3L88.88 244.87H89.29L89.29 240.24H89.7L89.7 240.15H90.11L90.11 240.99H90.52L90.52 237.66H90.93L90.93 238.26H91.34L91.34 246.27H91.75L91.75 233.33H92.16L92.16 236.35H92.57L92.57 242.45H92.98L92.98 244.44H93.39L93.39 244.47H93.8L93.8 244.22H94.21L94.21 242.53H94.62L94.62 242.44H95.03L95.03 240.83H95.44L95.44 241.09H95.85L95.85 270.3Z"/>
<path fill="#5282b1" d="M88.88 270.3L88.88 246.74H89.29L89.29 244.41H89.7L89.7 242.49H90.11L90.11 245.48H90.52L90.52 243.25H90.93L90.93 244.18H91.34L91.34 247.81H91.75L91.75 236.86H92.16L92.16 246.23H92.57L92.57 244.55H92.98L92.98 246.28H93.39L93.39 246.33H93.8L93.8 247.43H94.21L94.21 244.81H94.62L94.62 244.45H95.03L95.03 244.68H95.44L95.44 246.74H95.85L95.85 270.3Z"/>
<path fill="#5282b1" fill-opacity="0.9" d="M90.33 243.05h0.8v0.8h-0.8zM91.59 242.62h0.8v0.8h-0.8zM91.72 237.51h0.8v0.8h-0.8zM89.46 242.61h0.8v0.8h-0.8zM91.84 242.31h0.8v0.8h-0.8zM90.31 240.54h0.8v0.8h-0.8zM89.61 242.86h0.8v0.8h-0.8zM91.11 240.3h0.8v0.8h-0.8zM94.66 239.49h0.8v0.8h-0.8zM89.33 242.04h0.8v0.8h-0.8zM93.48 239.41h0.8v0.8h-0.8zM94.25 228.22h0.8v0.8h-0.8zM94.18 242.65h0.8v0.8h-0.8z"/>
<path fill="#0024f0" fill-opacity="0.6" d="M96.58 270.3L96.58 244.68H96.96L96.96 240.99H97.35L97.35 243.21H97.74L97.74 240.05H98.13L98.13 240.33H98.52L98.52 242.14H98.9L98.9 270.3ZM99.94 270.3L99.94 244.49H100.35L100.35 241.28H100.76L100.76 240.75H101.17L101.17 241.34H101.59L101.59 240.52H102L102 239.26H102.41L102.41 231.78H102.82L102.82 240.68H103.23L103.23 244.82H103.64L103.64 270.3Z"/>
<path fill="#0024f0" d="M96.58 270.3L96.58 246.74H96.96L96.96 243.92H97.35L97.35 245.61H97.74L97.74 241.86H98.13L98.13 244.27H98.52L98.52 246.74H98.9L98.9 270.3ZM99.94 270.3L99.94 248.09H100.35L100.35 244.11H100.76L100.76 244.26H101.17L101.17 242.89H101.59L101.59 243.68H102L102 242.99H102.41L102.41 234.69H102.82L102.82 243.39H103.23L103.23 246.74H103.64L103.64 270.3Z"/>
<path fill="#0024f0" fill-opacity="0.9" d="M97.4 240.66h0.8v0.8h-0.8zM97.34 237.64h0.8v0.8h-0.8zM97.57 241.16h0.8v0.8h-0.8zM97.8 228.6h0.8v0.8h-0.8zM102.34 241.88h0.8v0.8h-0.8zM101.7 240.52h0.8v0.8h-0.8zM101.26 238.11h0.8v0.8h-0.8zM102 241.2h0.8v0.8h-0.8zM100.64 241.29h0.8v0.8h-0.8zM102.72 241.14h0.8v0.8h-0.8zM100.34 238.51h0.8v0.8h-0.8z"/>
<path fill="#5282b1" fill-opacity="0.6" d="M104.36 270.3L104.36 243.85H104.77L104.77 243.46H105.18L105.18 241H105.59L105.59 238.94H106L106 243.58H106.41L106.41 243.54H106.82L106.82 241.42H107.23L107.23 238.79H107.64L107.64 241.82H108.05L108.05 241.95H108.46L108.46 244.5H108.87L108.87 240.4H109.28L109.28 241.31H109.69L109.69 231.44H110.1L110.1 244.21H110.51L110.51 247.77H110.92L110.92 270.3Z"/>
<path fill="#5282b1" d="M104.36 270.3L104.36 246.74H104.77L104.77 249.47H105.18L105.18 243.72H105.59L105.59 241.24H106L106 246.34H106.41L106.41 247.47H106.82L106.82 245.39H107.23L107.23 247.79H107.64L107.64 245.27H108.05L108.05 244.09H108.46L108.46 246.19H108.87L108.87 244.46H109.28L109.28 245.42H109.69L109.69 236.47H110.1L110.1 246.26H110.51L110.51 249.89H110.92L110.92 270.3Z"/>
<path fill="#5282b1" fill-opacity="0.9" d="M108.59 239.76h0.8v0.8h-0.8zM108.18 235.15h0.8v0.8h-0.8zM105.09 240.64h0.8v0.8h-0.8zM105.6 240.38h0.8v0.8h-0.8zM104.56 241.12h0.8v0.8h-0.8zM106.7 239.3h0.8v0.8h-0.8zM104.81 237.81h0.8v0.8h-0.8zM109.79 237.87h0.8v0.8h-0.8zM106.41 236.23h0.8v0.8h-0.8zM106.88 240.91h0.8v0.8h-0.8zM107.13 241.71h0.8v0.8h-0.8zM108.25 240.99h0.8v0.8h-0.8z"/>
<path fill="#0024f0" fill-opacity="0.6" d="M111.5 270.3L111.5 242.92H111.92L111.92 239.4H112.34L112.34 241.55H112.76L112.76 240.51H113.18L113.18 244.49H113.6L113.6 244.36H114.01L114.01 239.54H114.43L114.43 243.56H114.85L114.85 246.02H115.27L115.27 241.42H115.69L115.69 242.04H116.11L116.11 234.33H116.53L116.53 241.84H116.94L116.94 240.51H117.36L117.36 233.79H117.78L117.78 243.32H118.2L118.2 270.3Z"/>
<path fill="#0024f0" d="M111.5 270.3L111.5 246.74H111.92L111.92 241.73H112.34L112.34 247.39H112.76L112.76 243.78H113.18L113.18 246.45H113.6L113.6 246.59H114.01L114.01 247.28H114.43L114.43 246.77H114.85L114.85 248.22H115.27L115.27 245.17H115.69L115.69 246.54H116.11L116.11 237.72H116.53L116.53 244.47H116.94L116.94 245.73H117.36L117.36 239.03H117.78L117.78 246.74H118.2L118.2 270.3Z"/>
<path fill="#0024f0" fill-opacity="0.9" d="M112.32 240.69h0.8v0.8h-0.8zM114.94 241.14h0.8v0.8h-0.8zM115.24 240.4h0.8v0.8h-0.8zM113.03 239.15h0.8v0.8h-0.8zM114.65 235.78h0.8v0.8h-0.8zM111.69 235.79h0.8v0.8h-0.8zM112.81 240.09h0.8v0.8h-0.8zM115.28 236.3h0.8v0.8h-0.8zM115.13 231.08h0.8v0.8h-0.8zM112.71 239.96h0.8v0.8h-0.8zM115.41 240.28h0.8v0.8h-0.8zM112.43 240.49h0.8v0.8h-0.8z"/>
<path fill="#5282b1" fill-opacity="0.6" d="M118.92 270.3L118.92 246.32H119.34L119.34 244.81H119.76L119.76 228.93H120.19L120.19 242.32H120.61L120.61 243.85H121.03L121.03 242.32H121.45L121.45 243.59H121.87L121.87 245.68H122.29L122.29 245.93H122.71L122.71 241.21H123.14L123.14 237.86H123.56L123.56 246.06H123.98L123.98 243.5H124.4L124.4 245.65H124.82L124.82 245.1H125.24L125.24 244.8H125.66L125.66 270.3Z"/>
<path fill="#5282b1" d="M118.92 270.3L118.92 248.68H119.34L119.34 246.54H119.76L119.76 235.23H120.19L120.19 245.52H120.61L120.61 248.77H121.03L121.03 245.35H121.45L121.45 245.99H121.87L121.87 248.26H122.29L122.29 249.65H122.71L122.71 243.48H123.14L123.14 239.7H123.56L123.56 247.75H123.98L123.98 245.23H124.4L124.4 247.29H124.82L124.82 246.78H125.24L125.24 246.74H125.66L125.66 270.3Z"/>
<path fill="#5282b1" fill-opacity="0.9" d="M119.95 236.96h0.8v0.8h-0.8zM121.45 241.68h0.8v0.8h-0.8zM119.65 242.29h0.8v0.8h-0.8zM124.7 242.99h0.8v0.8h-0.8zM120.46 237.41h0.8v0.8h-0.8zM124.22 232.86h0.8v0.8h-0.8zM121.73 229.27h0.8v0.8h-0.8zM122.51 242.01h0.8v0.8h-0.8zM121.69 237.82h0.8v0.8h-0.8zM123.28 242.93h0.8v0.8h-0.8zM120.07 229.08h0.8v0.8h-0.8zM119.56 235.9h0.8v0.8h-0.8z"/>
<path fill="#0024f0" fill-opacity="0.6" d="M126.84 270.3L126.84 244.85H127.24L127.24 235.5H127.65L127.65 238.05H128.05L128.05 240.99H128.45L128.45 234.88H128.85L128.85 242.41H129.26L129.26 239.16H129.66L129.66 242.95H130.06L130.06 234.78H130.46L130.46 241.82H130.87L130.87 244.2H131.27L131.27 244.77H131.67L131.67 270.3Z"/>
<path fill="#0024f0" d="M126.84 270.3L126.84 246.74H127.24L127.24 237.97H127.65L127.65 244.1H128.05L128.05 244.64H128.45L128.45 240.7H128.85L128.85 245H129.26L129.26 246.16H129.66L129.66 247.68H130.06L130.06 244.66H130.46L130.46 244.01H130.87L130.87 246.05H131.27L131.27 247.26H131.67L131.67 270.3Z"/>
<path fill="#0024f0" fill-opacity="0.9" d="M130.24 233.37h0.8v0.8h-0.8zM130.38 241.27h0.8v0.8h-0.8zM130.62 235.74h0.8v0.8h-0.8zM129.57 237.14h0.8v0.8h-0.8zM127.03 232.65h0.8v0.8h-0.8zM129.05 239.18h0.8v0.8h-0.8zM128.21 234.99h0.8v0.8h-0.8zM129.99 232.66h0.8v0.8h-0.8zM127.7 240.06h0.8v0.8h-0.8z"/>
<path fill="#5282b1" fill-opacity="0.6" d="M133.03 270.3L133.03 244.63H133.43L133.43 243.15H133.83L133.83 239.24H134.24L134.24 243.83H134.64L134.64 236.24H135.04L135.04 241.22H135.44L135.44 242.02H135.84L135.84 244.35H136.25L136.25 232.68H136.65L136.65 245.68H137.05L137.05 241.67H137.45L137.45 270.3Z"/>
<path fill="#5282b1" d="M133.03 270.3L133.03 246.74H133.43L133.43 245.18H133.83L133.83 247.78H134.24L134.24 246.8H134.64L134.64 242.48H135.04L135.04 246.77H135.44L135.44 248.38H135.84L135.84 246.9H136.25L136.25 234.28H136.65L136.65 248.48H137.05L137.05 246.74H137.45L137.45 270.3Z"/>
<path fill="#5282b1" fill-opacity="0.9" d="M134.32 241.97h0.8v0.8h-0.8zM135.73 235.74h0.8v0.8h-0.8zM133.82 233.33h0.8v0.8h-0.8zM136.62 240.53h0.8v0.8h-0.8zM134.41 237.48h0.8v0.8h-0.8zM136.4 242.09h0.8v0.8h-0.8zM134.12 241.3h0.8v0.8h-0.8zM135.68 242.18h0.8v0.8h-0.8z"/>
<path fill="#0024f0" fill-opacity="0.6" d="M138.76 270.3L138.76 236.86H139.17L139.17 237.09H139.58L139.58 239H139.98L139.98 240.81H140.39L140.39 235.43H140.79L140.79 243.47H141.2L141.2 247.48H141.6L141.6 246.95H142.01L142.01 239.61H142.42L142.42 244.78H142.82L142.82 270.3Z"/>
<path fill="#0024f0" d="M138.76 270.3L138.76 246.74H139.17L139.17 240.44H139.58L139.58 246.39H139.98L139.98 247.55H140.39L140.39 243.1H140.79L140.79 248.7H141.2L141.2 249.74H141.6L141.6 248.69H142.01L142.01 244.27H142.42L142.42 246.74H142.82L142.82 270.3Z"/>
<path fill="#0024f0" fill-opacity="0.9" d="M140.73 231.62h0.8v0.8h-0.8zM139.42 238.3h0.8v0.8h-0.8zM141.11 236h0.8v0.8h-0.8zM141.08 236.66h0.8v0.8h-0.8zM139.65 234h0.8v0.8h-0.8zM141.78 242.06h0.8v0.8h-0.8zM141.84 239.65h0.8v0.8h-0.8z"/>
<path fill="#5282b1" fill-opacity="0.6" d="M143.45 270.3L143.45 242.9H143.91L143.91 241.97H144.37L144.37 241.65H144.82L144.82 244.73H145.28L145.28 270.3ZM145.64 270.3L145.64 244.72H146.09L146.09 242.44H146.55L146.55 243.09H147.01L147.01 244.84H147.46L147.46 270.3Z"/>
<path fill="#5282b1" d="M143.45 270.3L143.45 246.74H143.91L143.91 244.13H144.37L144.37 245.36H144.82L144.82 246.74H145.28L145.28 270.3ZM145.64 270.3L145.64 246.74H146.09L146.09 246.72H146.55L146.55 245.87H147.01L147.01 246.74H147.46L147.46 270.3Z"/>
<path fill="#5282b1" fill-opacity="0.9" d="M143.78 239.02h0.8v0.8h-0.8zM143.64 239.24h0.8v0.8h-0.8zM143.9 225.75h0.8v0.8h-0.8zM146.52 238.35h0.8v0.8h-0.8zM145.64 233.59h0.8v0.8h-0.8zM146.38 240.23h0.8v0.8h-0.8z"/>
<path fill="#0024f0" fill-opacity="0.6" d="M148.09 270.3L148.09 244.08H148.5L148.5 249.42H148.91L148.91 243.17H149.31L149.31 247.76H149.72L149.72 234.89H150.12L150.12 245.23H150.53L150.53 242.9H150.93L150.93 247.01H151.34L151.34 244.88H151.75L151.75 240.57H152.15L152.15 270.3Z"/>
<path fill="#0024f0" d="M148.09 270.3L148.09 247.44H148.5L148.5 251.3H148.91L148.91 246.72H149.31L149.31 251.1H149.72L149.72 240.08H150.12L150.12 248.31H150.53L150.53 246.15H150.93L150.93 249.45H151.34L151.34 247.08H151.75L151.75 247.66H152.15L152.15 270.3Z"/>
<path fill="#0024f0" fill-opacity="0.9" d="M149.85 242.85h0.8v0.8h-0.8zM149.18 236.47h0.8v0.8h-0.8zM148.62 238.98h0.8v0.8h-0.8zM148.16 243.35h0.8v0.8h-0.8zM148.29 236.86h0.8v0.8h-0.8zM148.57 243.14h0.8v0.8h-0.8zM148.28 242.93h0.8v0.8h-0.8z"/>
<path fill="#5282b1" fill-opacity="0.6" d="M152.74 270.3L152.74 240.83H153.17L153.17 240.34H153.61L153.61 247.46H154.05L154.05 237.46H154.49L154.49 240.67H154.93L154.93 242.13H155.37L155.37 241.42H155.81L155.81 244.62H156.25L156.25 270.3Z"/>
<path fill="#5282b1" d="M152.74 270.3L152.74 248.17H153.17L153.17 242.35H153.61L153.61 249.2H154.05L154.05 247.34H154.49L154.49 245H154.93L154.93 245.79H155.37L155.37 251.3H155.81L155.81 246.74H156.25L156.25 270.3Z"/>
<path fill="#5282b1" fill-opacity="0.9" d="M154.65 242.19h0.8v0.8h-0.8zM153.22 242.32h0.8v0.8h-0.8zM153.69 236.98h0.8v0.8h-0.8zM152.9 239.63h0.8v0.8h-0.8zM154.58 242.92h0.8v0.8h-0.8z"/>
<path fill="#0024f0" fill-opacity="0.6" d="M156.74 270.3L156.74 245.15H157.14L157.14 240.25H157.55L157.55 245.02H157.95L157.95 242.27H158.36L158.36 244.48H158.76L158.76 247.11H159.17L159.17 243.54H159.57L159.57 270.3Z"/>
<path fill="#0024f0" d="M156.74 270.3L156.74 248.76H157.14L157.14 246.25H157.55L157.55 247.64H157.95L157.95 247.3H158.36L158.36 247.22H158.76L158.76 249.83H159.17L159.17 247.24H159.57L159.57 270.3Z"/>
<path fill="#0024f0" fill-opacity="0.9" d="M157.38 242.26h0.8v0.8h-0.8zM157.29 233.74h0.8v0.8h-0.8zM158.35 237.34h0.8v0.8h-0.8zM158.41 223.05h0.8v0.8h-0.8zM158.14 242.67h0.8v0.8h-0.8z"/>
<path fill="#5282b1" fill-opacity="0.6" d="M160.06 270.3L160.06 244.27H160.49L160.49 227.68H160.92L160.92 236.37H161.35L161.35 245.98H161.78L161.78 245.61H162.21L162.21 245.35H162.64L162.64 242.3H163.07L163.07 270.3Z"/>
<path fill="#5282b1" d="M160.06 270.3L160.06 247.32H160.49L160.49 232.43H160.92L160.92 243.31H161.35L161.35 247.71H161.78L161.78 247.41H162.21L162.21 247.54H162.64L162.64 246.74H163.07L163.07 270.3Z"/>
<path fill="#5282b1" fill-opacity="0.9" d="M160.54 238.04h0.8v0.8h-0.8zM160.68 240.78h0.8v0.8h-0.8zM162.1 229.82h0.8v0.8h-0.8zM162.27 240.35h0.8v0.8h-0.8zM161.33 235.35h0.8v0.8h-0.8z"/>
<path fill="#0024f0" fill-opacity="0.6" d="M164.02 270.3L164.02 244.56H164.48L164.48 237.18H164.94L164.94 243.23H165.39L165.39 241.75H165.85L165.85 270.3Z"/>
<path fill="#0024f0" d="M164.02 270.3L164.02 247.54H164.48L164.48 238.83H164.94L164.94 245.07H165.39L165.39 247.11H165.85L165.85 270.3Z"/>
<path fill="#0024f0" fill-opacity="0.9" d="M164.06 239.9h0.8v0.8h-0.8zM164.11 234.17h0.8v0.8h-0.8zM164.94 242.71h0.8v0.8h-0.8z"/>
<path fill="#5282b1" fill-opacity="0.6" d="M166.62 270.3L166.62 242.52H167.01L167.01 244.09H167.4L167.4 242.53H167.8L167.8 244.82H168.19L168.19 243.06H168.58L168.58 270.3Z"/>
<path fill="#5282b1" d="M166.62 270.3L166.62 250.19H167.01L167.01 245.9H167.4L167.4 244.46H167.8L167.8 247H168.19L168.19 246.74H168.58L168.58 270.3Z"/>
<path fill="#5282b1" fill-opacity="0.9" d="M167.75 237.2h0.8v0.8h-0.8zM167.35 240.45h0.8v0.8h-0.8zM167.61 241.25h0.8v0.8h-0.8z"/>
<path fill="#5282b1" fill-opacity="0.62" d="M50.66 211.89h1.3v1.3h-1.3zM50.86 214.17h1.3v1.3h-1.3zM35.78 224.81h1.3v1.3h-1.3zM27.61 227.85h1.3v1.3h-1.3zM27.49 229.37h1.3v1.3h-1.3zM27.54 231.65h1.3v1.3h-1.3zM29.22 228.61h1.3v1.3h-1.3zM29.25 230.89h1.3v1.3h-1.3zM34.48 229.37h1.3v1.3h-1.3zM34.29 231.65h1.3v1.3h-1.3zM52.59 230.13h1.3v1.3h-1.3zM58.47 230.13h1.3v1.3h-1.3zM58.42 232.41h1.3v1.3h-1.3zM92.24 225.57h1.3v1.3h-1.3zM92.2 229.37h1.3v1.3h-1.3zM95.28 231.65h1.3v1.3h-1.3zM107.29 228.61h1.3v1.3h-1.3zM107.16 230.13h1.3v1.3h-1.3zM107.3 232.41h1.3v1.3h-1.3zM132.2 230.89h1.3v1.3h-1.3zM132.24 233.17h1.3v1.3h-1.3zM143.94 227.09h1.3v1.3h-1.3zM143.99 229.37h1.3v1.3h-1.3zM144.65 224.81h1.3v1.3h-1.3zM144.69 227.85h1.3v1.3h-1.3zM144.77 230.13h1.3v1.3h-1.3zM144.75 231.65h1.3v1.3h-1.3zM145.98 229.37h1.3v1.3h-1.3zM145.92 231.65h1.3v1.3h-1.3z"/>
<path fill="#0024f0" fill-opacity="0.62" d="M65.85 219.87h1.3v1.3h-1.3zM20.08 231.65h1.3v1.3h-1.3zM61.14 230.89h1.3v1.3h-1.3zM80.33 227.85h1.3v1.3h-1.3zM80.34 230.13h1.3v1.3h-1.3zM80.29 232.41h1.3v1.3h-1.3zM83.04 229.37h1.3v1.3h-1.3zM84 230.89h1.3v1.3h-1.3zM110.95 231.65h1.3v1.3h-1.3zM115.75 228.61h1.3v1.3h-1.3zM115.86 230.13h1.3v1.3h-1.3zM115.95 231.65h1.3v1.3h-1.3zM138.55 232.41h1.3v1.3h-1.3zM151.31 233.17h1.3v1.3h-1.3zM159.18 231.65h1.3v1.3h-1.3zM159.11 233.93h1.3v1.3h-1.3zM163.18 233.93h1.3v1.3h-1.3z"/>
</g>
<path d="M14 215.5H168.9" stroke="#f3a3a0" stroke-width="0.55" stroke-dasharray="0.9 0.5" fill="none"/>
<g filter="url(#n)">
<path d="M13.6 213.5V271M12.9 270.3h0.7M12.9 262.7h0.7M12.9 255.1h0.7M12.9 247.5h0.7M12.9 239.9h0.7M12.9 232.3h0.7M12.9 224.7h0.7M12.9 217.1h0.7M13.6 270.45H168.6M13.6 270.3v0.7M37.99 270.3v0.7M62.39 270.3v0.7M86.78 270.3v0.7M111.18 270.3v0.7M135.57 270.3v0.7M159.96 270.3v0.7" stroke="#555" stroke-width="0.3" fill="none"/>
<g font-family='"Liberation Sans", sans-serif' font-size="2.5" fill="#111" text-anchor="end"><text x="12.4" y="271.2">0</text><text x="12.4" y="263.6">1</text><text x="12.4" y="256">2</text><text x="12.4" y="248.4">3</text><text x="12.4" y="240.8">4</text><text x="12.4" y="233.2">5</text><text x="12.4" y="225.6">6</text><text x="12.4" y="218">7</text></g>
<g font-family='"Liberation Sans", sans-serif' font-size="2.5" fill="#111" text-anchor="middle"><text x="20.46" y="274.3">1</text><text x="33.62" y="274.3">2</text><text x="45.54" y="274.3">3</text><text x="55.96" y="274.3">4</text><text x="66.11" y="274.3">5</text><text x="75.44" y="274.3">6</text><text x="84.41" y="274.3">7</text><text x="92.69" y="274.3">8</text><text x="100.2" y="274.3">9</text><text x="107.75" y="274.3">10</text><text x="115.12" y="274.3">11</text><text x="122.32" y="274.3">12</text><text x="129.14" y="274.3">13</text><text x="135.74" y="274.3">14</text><text x="140.38" y="274.3">15</text><text x="145.75" y="274.3">16</text><text x="150.17" y="274.3">17</text><text x="154.49" y="274.3">18</text><text x="158.22" y="274.3">19</text><text x="161.41" y="274.3">20</text><text x="164.41" y="274.3">21</text><text x="167.19" y="274.3">22</text></g>
<text x="91.3" y="277.4" font-family='"Liberation Sans", sans-serif' font-size="2.5" fill="#111" text-anchor="middle" letter-spacing="0.08">Chromosome</text>
<text transform="translate(6.8 245.5) rotate(-90)" font-family='"Liberation Sans", sans-serif' font-size="2.5" fill="#111" text-anchor="middle" letter-spacing="0.12">-log10 P-value</text>
</g>
<g filter="url(#b)">
<path fill="#0024f0" fill-opacity="0.6" d="M184.34 271L184.34 237.76H184.75L184.75 237.74H185.16L185.16 232.93H185.58L185.58 246.79H185.99L185.99 235.09H186.41L186.41 235.49H186.82L186.82 246.73H187.23L187.23 245.66H187.65L187.65 238.64H188.06L188.06 228.61H188.47L188.47 242.05H188.89L188.89 234.52H189.3L189.3 243.87H189.71L189.71 241.59H190.13L190.13 243.72H190.54L190.54 271ZM191.17 271L191.17 248.48H191.6L191.6 243.35H192.02L192.02 243.68H192.45L192.45 240.88H192.87L192.87 241.5H193.3L193.3 241.51H193.72L193.72 239.35H194.15L194.15 239.39H194.57L194.57 239.15H194.99L194.99 236.76H195.42L195.42 233.42H195.84L195.84 242.51H196.27L196.27 245.37H196.69L196.69 271Z"/>
<path fill="#0024f0" d="M184.34 271L184.34 247.28H184.75L184.75 241.11H185.16L185.16 237H185.58L185.58 250.92H185.99L185.99 244.6H186.41L186.41 242.37H186.82L186.82 248.72H187.23L187.23 247.9H187.65L187.65 247.96H188.06L188.06 238.55H188.47L188.47 243.95H188.89L188.89 244.47H189.3L189.3 245.8H189.71L189.71 248.41H190.13L190.13 247.28H190.54L190.54 271ZM191.17 271L191.17 250.47H191.6L191.6 245.09H192.02L192.02 246.85H192.45L192.45 243.31H192.87L192.87 243.45H193.3L193.3 245.44H193.72L193.72 241.82H194.15L194.15 242.56H194.57L194.57 243.17H194.99L194.99 239.45H195.42L195.42 243.37H195.84L195.84 244.62H196.27L196.27 247.28H196.69L196.69 271Z"/>
<path fill="#0024f0" fill-opacity="0.9" d="M188.67 241.75h0.8v0.8h-0.8zM187.05 238.63h0.8v0.8h-0.8zM187.37 240.11h0.8v0.8h-0.8zM187.27 242.48h0.8v0.8h-0.8zM184.65 240.03h0.8v0.8h-0.8zM185.62 236.06h0.8v0.8h-0.8zM185.64 234.58h0.8v0.8h-0.8zM185.64 242.11h0.8v0.8h-0.8zM186.92 240.3h0.8v0.8h-0.8zM186.15 235.91h0.8v0.8h-0.8zM185.54 237.47h0.8v0.8h-0.8zM191.5 238.96h0.8v0.8h-0.8zM195.85 230.96h0.8v0.8h-0.8zM191.64 239.35h0.8v0.8h-0.8zM193.48 241.56h0.8v0.8h-0.8zM194.33 239.41h0.8v0.8h-0.8zM194.99 240.97h0.8v0.8h-0.8zM195.58 234.82h0.8v0.8h-0.8zM193.41 241.86h0.8v0.8h-0.8zM193.46 241.93h0.8v0.8h-0.8zM194.41 237.07h0.8v0.8h-0.8z"/>
<path fill="#5282b1" fill-opacity="0.6" d="M197.51 271L197.51 245.48H197.92L197.92 242.94H198.33L198.33 244.25H198.75L198.75 245.47H199.16L199.16 238.05H199.57L199.57 240.54H199.99L199.99 243.61H200.4L200.4 232.45H200.81L200.81 235.87H201.23L201.23 248.57H201.64L201.64 248.25H202.05L202.05 248.59H202.47L202.47 246.24H202.88L202.88 241.79H203.29L203.29 245.56H203.71L203.71 243.35H204.12L204.12 247.38H204.53L204.53 244.67H204.95L204.95 243.5H205.36L205.36 242.37H205.77L205.77 245.31H206.19L206.19 232.28H206.6L206.6 247.26H207.02L207.02 244.17H207.43L207.43 246.5H207.84L207.84 242.23H208.26L208.26 240.52H208.67L208.67 239.99H209.08L209.08 239.58H209.5L209.5 246.15H209.91L209.91 271Z"/>
<path fill="#5282b1" d="M197.51 271L197.51 247.28H197.92L197.92 247.42H198.33L198.33 248.64H198.75L198.75 247.01H199.16L199.16 241.91H199.57L199.57 242.35H199.99L199.99 246.14H200.4L200.4 239.48H200.81L200.81 245.4H201.23L201.23 250.6H201.64L201.64 250.85H202.05L202.05 250.86H202.47L202.47 250.28H202.88L202.88 246.69H203.29L203.29 247.75H203.71L203.71 245.66H204.12L204.12 250.42H204.53L204.53 247.21H204.95L204.95 248.06H205.36L205.36 246.34H205.77L205.77 247.57H206.19L206.19 235.52H206.6L206.6 249.39H207.02L207.02 248.77H207.43L207.43 249.56H207.84L207.84 248.4H208.26L208.26 250.45H208.67L208.67 247.38H209.08L209.08 246.19H209.5L209.5 248.75H209.91L209.91 271Z"/>
<path fill="#5282b1" fill-opacity="0.9" d="M198.89 231.93h0.8v0.8h-0.8zM202.61 240.3h0.8v0.8h-0.8zM204.41 241.27h0.8v0.8h-0.8zM197.74 240.35h0.8v0.8h-0.8zM201.91 242.57h0.8v0.8h-0.8zM201.82 236.05h0.8v0.8h-0.8zM201.37 237.4h0.8v0.8h-0.8zM204.75 241.67h0.8v0.8h-0.8zM197.74 237.47h0.8v0.8h-0.8zM204.6 241.03h0.8v0.8h-0.8zM199.83 233.75h0.8v0.8h-0.8zM208.06 241.4h0.8v0.8h-0.8zM204.31 238.7h0.8v0.8h-0.8zM201.24 242.45h0.8v0.8h-0.8zM201.28 237.88h0.8v0.8h-0.8zM204.49 239.35h0.8v0.8h-0.8zM198.93 241.53h0.8v0.8h-0.8zM201.12 240.15h0.8v0.8h-0.8zM201.72 231.95h0.8v0.8h-0.8zM198.85 222.9h0.8v0.8h-0.8zM200.3 233.71h0.8v0.8h-0.8zM200.33 238.56h0.8v0.8h-0.8zM201.88 242.45h0.8v0.8h-0.8z"/>
<path fill="#0024f0" fill-opacity="0.6" d="M210.77 271L210.77 237.55H211.19L211.19 240.15H211.62L211.62 242.31H212.05L212.05 241.86H212.47L212.47 248.32H212.9L212.9 240.53H213.32L213.32 244.45H213.75L213.75 241.73H214.18L214.18 238.23H214.6L214.6 244.29H215.03L215.03 238.58H215.46L215.46 243.14H215.88L215.88 235.54H216.31L216.31 239.04H216.74L216.74 242.29H217.16L217.16 244.47H217.59L217.59 239.71H218.01L218.01 244.38H218.44L218.44 242.62H218.87L218.87 244.05H219.29L219.29 245.64H219.72L219.72 243.06H220.15L220.15 244.98H220.57L220.57 271Z"/>
<path fill="#0024f0" d="M210.77 271L210.77 247.5H211.19L211.19 243.93H211.62L211.62 244.96H212.05L212.05 246.59H212.47L212.47 250.4H212.9L212.9 243.36H213.32L213.32 247.64H213.75L213.75 244.83H214.18L214.18 240.77H214.6L214.6 246.58H215.03L215.03 240.39H215.46L215.46 245.59H215.88L215.88 244.29H216.31L216.31 243.08H216.74L216.74 247.4H217.16L217.16 249.03H217.59L217.59 243.88H218.01L218.01 246.42H218.44L218.44 244.84H218.87L218.87 246.01H219.29L219.29 247.5H219.72L219.72 247.2H220.15L220.15 248.46H220.57L220.57 271Z"/>
<path fill="#0024f0" fill-opacity="0.9" d="M212.77 240.5h0.8v0.8h-0.8zM218.24 239.34h0.8v0.8h-0.8zM217.55 241.1h0.8v0.8h-0.8zM214.81 227.11h0.8v0.8h-0.8zM218.17 238.32h0.8v0.8h-0.8zM211.73 238.83h0.8v0.8h-0.8zM211.07 230.71h0.8v0.8h-0.8zM219.52 237.2h0.8v0.8h-0.8zM213.18 234.6h0.8v0.8h-0.8zM212.36 235.1h0.8v0.8h-0.8zM215.46 243.1h0.8v0.8h-0.8zM218.78 240.52h0.8v0.8h-0.8zM218.24 237.82h0.8v0.8h-0.8zM215.56 234.07h0.8v0.8h-0.8zM212.6 232.67h0.8v0.8h-0.8zM213.82 243.06h0.8v0.8h-0.8zM213.8 242.86h0.8v0.8h-0.8zM211.42 238.69h0.8v0.8h-0.8z"/>
<path fill="#5282b1" fill-opacity="0.6" d="M221.43 271L221.43 240.34H221.85L221.85 236.72H222.26L222.26 243.86H222.68L222.68 242.46H223.1L223.1 241.33H223.51L223.51 234.14H223.93L223.93 243.35H224.35L224.35 237.03H224.76L224.76 240.05H225.18L225.18 240H225.59L225.59 246.91H226.01L226.01 240.94H226.43L226.43 241.6H226.84L226.84 242.37H227.26L227.26 244.59H227.68L227.68 242.12H228.09L228.09 240.76H228.51L228.51 239.44H228.93L228.93 248.56H229.34L229.34 243.63H229.76L229.76 244.07H230.17L230.17 238.65H230.59L230.59 245.72H231.01L231.01 271Z"/>
<path fill="#5282b1" d="M221.43 271L221.43 247.28H221.85L221.85 241.9H222.26L222.26 248.42H222.68L222.68 245.83H223.1L223.1 244.29H223.51L223.51 236.43H223.93L223.93 247.6H224.35L224.35 239.62H224.76L224.76 244.72H225.18L225.18 244.55H225.59L225.59 248.82H226.01L226.01 246.02H226.43L226.43 246.97H226.84L226.84 245.42H227.26L227.26 246.12H227.68L227.68 245.49H228.09L228.09 243.08H228.51L228.51 244.84H228.93L228.93 250.57H229.34L229.34 245.53H229.76L229.76 245.97H230.17L230.17 241.95H230.59L230.59 247.28H231.01L231.01 271Z"/>
<path fill="#5282b1" fill-opacity="0.9" d="M229.59 242.79h0.8v0.8h-0.8zM221.77 237.11h0.8v0.8h-0.8zM226.43 240.26h0.8v0.8h-0.8zM223.34 236.83h0.8v0.8h-0.8zM224.12 237.85h0.8v0.8h-0.8zM223.43 239.9h0.8v0.8h-0.8zM227.12 241.67h0.8v0.8h-0.8zM225.64 243.5h0.8v0.8h-0.8zM227.08 238.41h0.8v0.8h-0.8zM222.78 240.13h0.8v0.8h-0.8zM227.86 243.32h0.8v0.8h-0.8zM228.79 234.43h0.8v0.8h-0.8zM221.87 242.5h0.8v0.8h-0.8zM222.17 242.47h0.8v0.8h-0.8zM222.19 240.72h0.8v0.8h-0.8zM223.63 242.17h0.8v0.8h-0.8zM225.48 241.67h0.8v0.8h-0.8zM228.35 237.92h0.8v0.8h-0.8z"/>
<path fill="#0024f0" fill-opacity="0.6" d="M231.77 271L231.77 242.28H232.19L232.19 236.11H232.6L232.6 242.2H233.01L233.01 240.89H233.42L233.42 243.79H233.83L233.83 246.74H234.24L234.24 246.09H234.65L234.65 241.92H235.06L235.06 242.53H235.47L235.47 239.49H235.88L235.88 243.11H236.29L236.29 244.86H236.7L236.7 241.8H237.11L237.11 241.19H237.52L237.52 233.23H237.93L237.93 241.45H238.34L238.34 245.22H238.75L238.75 242.29H239.16L239.16 238.99H239.57L239.57 247.14H239.98L239.98 241.43H240.39L240.39 246.7H240.81L240.81 271Z"/>
<path fill="#0024f0" d="M231.77 271L231.77 247.28H232.19L232.19 238.86H232.6L232.6 243.9H233.01L233.01 243.74H233.42L233.42 245.77H233.83L233.83 250.75H234.24L234.24 248.26H234.65L234.65 248.33H235.06L235.06 246.35H235.47L235.47 243.89H235.88L235.88 247.09H236.29L236.29 247.29H236.7L236.7 244.1H237.11L237.11 246.51H237.52L237.52 234.82H237.93L237.93 244.58H238.34L238.34 247.57H238.75L238.75 244.41H239.16L239.16 244.62H239.57L239.57 248.94H239.98L239.98 243.48H240.39L240.39 248.61H240.81L240.81 271Z"/>
<path fill="#0024f0" fill-opacity="0.9" d="M236.05 240.5h0.8v0.8h-0.8zM239.5 232.59h0.8v0.8h-0.8zM233.73 239.26h0.8v0.8h-0.8zM235.2 242.88h0.8v0.8h-0.8zM235.43 231.69h0.8v0.8h-0.8zM234.27 238.99h0.8v0.8h-0.8zM237.62 242.74h0.8v0.8h-0.8zM239.38 242.51h0.8v0.8h-0.8zM234.26 237.26h0.8v0.8h-0.8zM231.93 240.88h0.8v0.8h-0.8zM232.82 240.1h0.8v0.8h-0.8zM231.9 242.29h0.8v0.8h-0.8zM233.61 242.65h0.8v0.8h-0.8zM232.52 242.05h0.8v0.8h-0.8zM236.04 242.36h0.8v0.8h-0.8zM238.53 240.56h0.8v0.8h-0.8zM233.85 241.77h0.8v0.8h-0.8z"/>
<path fill="#5282b1" fill-opacity="0.6" d="M241.66 271L241.66 244.55H242.09L242.09 245.02H242.51L242.51 246.48H242.94L242.94 242.76H243.36L243.36 244.97H243.78L243.78 243.12H244.21L244.21 246.14H244.63L244.63 239.94H245.06L245.06 238.59H245.48L245.48 231.83H245.91L245.91 236.81H246.33L246.33 241.07H246.75L246.75 237.58H247.18L247.18 233.36H247.6L247.6 243.04H248.03L248.03 243.65H248.45L248.45 239.39H248.87L248.87 240.36H249.3L249.3 239.56H249.72L249.72 244.27H250.15L250.15 271Z"/>
<path fill="#5282b1" d="M241.66 271L241.66 247.28H242.09L242.09 249.26H242.51L242.51 249.58H242.94L242.94 246.31H243.36L243.36 246.7H243.78L243.78 244.93H244.21L244.21 248.75H244.63L244.63 249.88H245.06L245.06 240.8H245.48L245.48 235.75H245.91L245.91 238.78H246.33L246.33 245.47H246.75L246.75 241.51H247.18L247.18 236.03H247.6L247.6 247.67H248.03L248.03 246.85H248.45L248.45 244.37H248.87L248.87 242.52H249.3L249.3 245.21H249.72L249.72 247.28H250.15L250.15 271Z"/>
<path fill="#5282b1" fill-opacity="0.9" d="M244.06 240.76h0.8v0.8h-0.8zM247.8 234.38h0.8v0.8h-0.8zM248.15 237.79h0.8v0.8h-0.8zM242.97 242.1h0.8v0.8h-0.8zM246.03 241.78h0.8v0.8h-0.8zM244.25 242.38h0.8v0.8h-0.8zM242.85 237.08h0.8v0.8h-0.8zM243.38 234.23h0.8v0.8h-0.8zM244.19 234.2h0.8v0.8h-0.8zM243.99 241.44h0.8v0.8h-0.8zM244.7 242.82h0.8v0.8h-0.8zM245.01 240.68h0.8v0.8h-0.8zM241.76 233.8h0.8v0.8h-0.8zM244.55 242.87h0.8v0.8h-0.8zM249.04 241.68h0.8v0.8h-0.8zM243.61 242.76h0.8v0.8h-0.8z"/>
<path fill="#0024f0" fill-opacity="0.6" d="M250.73 271L250.73 245.61H251.15L251.15 237.95H251.57L251.57 233.67H251.99L251.99 244.57H252.41L252.41 246.06H252.83L252.83 243.52H253.25L253.25 247.57H253.67L253.67 248.26H254.09L254.09 243.96H254.51L254.51 245.08H254.93L254.93 248.44H255.35L255.35 245.07H255.77L255.77 241.44H256.19L256.19 235.76H256.61L256.61 246.59H257.03L257.03 240.49H257.45L257.45 240.09H257.87L257.87 245.26H258.29L258.29 246.99H258.71L258.71 271Z"/>
<path fill="#0024f0" d="M250.73 271L250.73 247.92H251.15L251.15 244.48H251.57L251.57 239.01H251.99L251.99 246.48H252.41L252.41 248.08H252.83L252.83 247.32H253.25L253.25 251.02H253.67L253.67 250.04H254.09L254.09 247.87H254.51L254.51 247.96H254.93L254.93 250.24H255.35L255.35 249.24H255.77L255.77 243.9H256.19L256.19 240.9H256.61L256.61 248.56H257.03L257.03 243.23H257.45L257.45 245.09H257.87L257.87 248.34H258.29L258.29 249.42H258.71L258.71 271Z"/>
<path fill="#0024f0" fill-opacity="0.9" d="M252.19 242.06h0.8v0.8h-0.8zM250.82 243.49h0.8v0.8h-0.8zM251.13 241.42h0.8v0.8h-0.8zM256.74 238.45h0.8v0.8h-0.8zM257.67 235.62h0.8v0.8h-0.8zM254.94 239.95h0.8v0.8h-0.8zM250.82 241.72h0.8v0.8h-0.8zM252.61 239.49h0.8v0.8h-0.8zM251.2 240.35h0.8v0.8h-0.8zM253.43 240.83h0.8v0.8h-0.8zM253.64 243.45h0.8v0.8h-0.8zM255.99 236.55h0.8v0.8h-0.8zM255.03 243.38h0.8v0.8h-0.8zM255.03 234.54h0.8v0.8h-0.8z"/>
<path fill="#5282b1" fill-opacity="0.6" d="M259.48 271L259.48 245.01H259.89L259.89 239.2H260.3L260.3 242.17H260.71L260.71 239.22H261.12L261.12 239.78H261.53L261.53 239.38H261.94L261.94 239.09H262.36L262.36 247.12H262.77L262.77 239.83H263.18L263.18 243.85H263.59L263.59 241.26H264L264 240.54H264.41L264.41 239.68H264.82L264.82 238.15H265.23L265.23 240.02H265.64L265.64 240.1H266.05L266.05 245.37H266.46L266.46 271Z"/>
<path fill="#5282b1" d="M259.48 271L259.48 247.28H259.89L259.89 241.39H260.3L260.3 246.99H260.71L260.71 246.79H261.12L261.12 249.72H261.53L261.53 243.89H261.94L261.94 242.93H262.36L262.36 248.68H262.77L262.77 241.43H263.18L263.18 246.49H263.59L263.59 244.92H264L264 245.53H264.41L264.41 242.32H264.82L264.82 243.1H265.23L265.23 243.11H265.64L265.64 242.79H266.05L266.05 247.28H266.46L266.46 271Z"/>
<path fill="#5282b1" fill-opacity="0.9" d="M260.31 240.97h0.8v0.8h-0.8zM263.81 238.65h0.8v0.8h-0.8zM260.23 235.21h0.8v0.8h-0.8zM262.62 241.92h0.8v0.8h-0.8zM264.55 234.74h0.8v0.8h-0.8zM260.82 229.75h0.8v0.8h-0.8zM264.49 241.44h0.8v0.8h-0.8zM259.49 233.36h0.8v0.8h-0.8zM264.59 242.16h0.8v0.8h-0.8zM264.22 235.82h0.8v0.8h-0.8zM263.4 234.43h0.8v0.8h-0.8zM265.57 240.81h0.8v0.8h-0.8zM264.63 230.98h0.8v0.8h-0.8z"/>
<path fill="#0024f0" fill-opacity="0.6" d="M267.18 271L267.18 245.84H267.57L267.57 233.8H267.96L267.96 245.01H268.35L268.35 243.78H268.74L268.74 242.76H269.13L269.13 240.89H269.51L269.51 271ZM270.55 271L270.55 246.37H270.97L270.97 241.22H271.38L271.38 247.29H271.79L271.79 241.46H272.2L272.2 239.17H272.61L272.61 241.81H273.02L273.02 241.42H273.43L273.43 237.69H273.84L273.84 244.25H274.25L274.25 271Z"/>
<path fill="#0024f0" d="M267.18 271L267.18 248.11H267.57L267.57 240.38H267.96L267.96 246.84H268.35L268.35 245.54H268.74L268.74 248.17H269.13L269.13 247.28H269.51L269.51 271ZM270.55 271L270.55 247.98H270.97L270.97 245.63H271.38L271.38 249.13H271.79L271.79 246.08H272.2L272.2 245.28H272.61L272.61 249.18H273.02L273.02 247.51H273.43L273.43 242.58H273.84L273.84 247.28H274.25L274.25 271Z"/>
<path fill="#0024f0" fill-opacity="0.9" d="M267.43 243.72h0.8v0.8h-0.8zM268.34 243.63h0.8v0.8h-0.8zM268.21 243.67h0.8v0.8h-0.8zM267.56 239.07h0.8v0.8h-0.8zM271.66 235.67h0.8v0.8h-0.8zM273.14 241.9h0.8v0.8h-0.8zM270.91 239.42h0.8v0.8h-0.8zM272.7 232.28h0.8v0.8h-0.8zM272.47 242.38h0.8v0.8h-0.8zM272.05 242.51h0.8v0.8h-0.8zM271.85 241.17h0.8v0.8h-0.8z"/>
<path fill="#5282b1" fill-opacity="0.6" d="M274.97 271L274.97 245.41H275.39L275.39 242.7H275.8L275.8 238.84H276.21L276.21 234.38H276.62L276.62 240.45H277.03L277.03 238.65H277.44L277.44 235.63H277.85L277.85 243.52H278.26L278.26 244.43H278.67L278.67 231.1H279.08L279.08 244.83H279.49L279.49 243.49H279.9L279.9 239.25H280.31L280.31 243.96H280.72L280.72 242.74H281.13L281.13 242.77H281.54L281.54 271Z"/>
<path fill="#5282b1" d="M274.97 271L274.97 247.28H275.39L275.39 245.46H275.8L275.8 244.3H276.21L276.21 237.36H276.62L276.62 245H277.03L277.03 241.26H277.44L277.44 243.82H277.85L277.85 246.73H278.26L278.26 247.19H278.67L278.67 234.68H279.08L279.08 247.23H279.49L279.49 246.92H279.9L279.9 244.28H280.31L280.31 246.83H280.72L280.72 246.8H281.13L281.13 248.23H281.54L281.54 271Z"/>
<path fill="#5282b1" fill-opacity="0.9" d="M276.72 241.42h0.8v0.8h-0.8zM278.17 236.87h0.8v0.8h-0.8zM276.27 241.54h0.8v0.8h-0.8zM277.79 241.58h0.8v0.8h-0.8zM279.23 237.23h0.8v0.8h-0.8zM276.59 239.03h0.8v0.8h-0.8zM276.32 240.8h0.8v0.8h-0.8zM276.02 233.98h0.8v0.8h-0.8zM277.59 235.97h0.8v0.8h-0.8zM276.98 234.2h0.8v0.8h-0.8zM278.41 236.87h0.8v0.8h-0.8zM277.24 237.96h0.8v0.8h-0.8z"/>
<path fill="#0024f0" fill-opacity="0.6" d="M282.13 271L282.13 245.51H282.55L282.55 242.15H282.97L282.97 240.18H283.39L283.39 242.04H283.81L283.81 243.86H284.22L284.22 239.91H284.64L284.64 237.35H285.06L285.06 236H285.48L285.48 238.29H285.9L285.9 239.87H286.32L286.32 242.24H286.74L286.74 241.86H287.16L287.16 243.21H287.58L287.58 239.4H288L288 233.54H288.42L288.42 245.03H288.84L288.84 271Z"/>
<path fill="#0024f0" d="M282.13 271L282.13 247.28H282.55L282.55 243.71H282.97L282.97 244.62H283.39L283.39 244.38H283.81L283.81 247.34H284.22L284.22 249.86H284.64L284.64 240.01H285.06L285.06 239.36H285.48L285.48 240.38H285.9L285.9 243.91H286.32L286.32 246.8H286.74L286.74 245.49H287.16L287.16 245.71H287.58L287.58 242.91H288L288 235.44H288.42L288.42 247.28H288.84L288.84 271Z"/>
<path fill="#0024f0" fill-opacity="0.9" d="M287.35 229.75h0.8v0.8h-0.8zM283.8 236.18h0.8v0.8h-0.8zM286.24 238.76h0.8v0.8h-0.8zM283.63 228.83h0.8v0.8h-0.8zM287.78 242.48h0.8v0.8h-0.8zM284.08 240.76h0.8v0.8h-0.8zM283.3 239.96h0.8v0.8h-0.8zM287.43 242.43h0.8v0.8h-0.8zM287.07 240.84h0.8v0.8h-0.8zM282.21 231.99h0.8v0.8h-0.8zM283.74 241.45h0.8v0.8h-0.8zM282.82 240.44h0.8v0.8h-0.8z"/>
<path fill="#5282b1" fill-opacity="0.6" d="M289.56 271L289.56 244.92H289.98L289.98 245H290.4L290.4 244.46H290.82L290.82 241.32H291.24L291.24 240.55H291.67L291.67 240.95H292.09L292.09 241.9H292.51L292.51 245.77H292.93L292.93 244.97H293.35L293.35 235.92H293.78L293.78 243.59H294.2L294.2 244.28H294.62L294.62 240.67H295.04L295.04 242.15H295.46L295.46 244.78H295.89L295.89 242.81H296.31L296.31 271Z"/>
<path fill="#5282b1" d="M289.56 271L289.56 247.28H289.98L289.98 247.5H290.4L290.4 247.47H290.82L290.82 245H291.24L291.24 242.16H291.67L291.67 246.6H292.09L292.09 243.92H292.51L292.51 247.77H292.93L292.93 246.79H293.35L293.35 237.68H293.78L293.78 248.44H294.2L294.2 246.98H294.62L294.62 247.29H295.04L295.04 243.97H295.46L295.46 248.41H295.89L295.89 247.28H296.31L296.31 271Z"/>
<path fill="#5282b1" fill-opacity="0.9" d="M291.45 237.72h0.8v0.8h-0.8zM292 236.64h0.8v0.8h-0.8zM289.81 230.58h0.8v0.8h-0.8zM291.85 235.56h0.8v0.8h-0.8zM292.36 235.34h0.8v0.8h-0.8zM291.35 239.4h0.8v0.8h-0.8zM289.71 239.94h0.8v0.8h-0.8zM290.03 234.02h0.8v0.8h-0.8zM293.59 240.48h0.8v0.8h-0.8zM295.36 229.56h0.8v0.8h-0.8zM295.25 242.63h0.8v0.8h-0.8zM293.75 237.05h0.8v0.8h-0.8z"/>
<path fill="#0024f0" fill-opacity="0.6" d="M297.49 271L297.49 241.89H297.89L297.89 243.55H298.29L298.29 241.17H298.7L298.7 241.02H299.1L299.1 238.84H299.5L299.5 234.19H299.91L299.91 244.48H300.31L300.31 245.97H300.71L300.71 236.54H301.11L301.11 241.61H301.52L301.52 246.68H301.92L301.92 244.89H302.32L302.32 271Z"/>
<path fill="#0024f0" d="M297.49 271L297.49 247.28H297.89L297.89 245.81H298.29L298.29 245.79H298.7L298.7 245.06H299.1L299.1 247.09H299.5L299.5 235.97H299.91L299.91 246.11H300.31L300.31 247.86H300.71L300.71 239.32H301.11L301.11 245.53H301.52L301.52 249.86H301.92L301.92 247.28H302.32L302.32 271Z"/>
<path fill="#0024f0" fill-opacity="0.9" d="M297.99 241.09h0.8v0.8h-0.8zM297.63 231.93h0.8v0.8h-0.8zM299.44 233.89h0.8v0.8h-0.8zM300.3 237.56h0.8v0.8h-0.8zM300.55 241.92h0.8v0.8h-0.8zM300.43 242.51h0.8v0.8h-0.8zM299.73 239.42h0.8v0.8h-0.8zM300.62 242.73h0.8v0.8h-0.8zM298.88 235.59h0.8v0.8h-0.8z"/>
<path fill="#5282b1" fill-opacity="0.6" d="M303.68 271L303.68 242.61H304.09L304.09 246.61H304.49L304.49 244.19H304.89L304.89 245.56H305.29L305.29 243.58H305.7L305.7 243.95H306.1L306.1 240.08H306.5L306.5 245.12H306.9L306.9 243.87H307.31L307.31 232.56H307.71L307.71 242.1H308.11L308.11 271Z"/>
<path fill="#5282b1" d="M303.68 271L303.68 247.28H304.09L304.09 250.04H304.49L304.49 247.76H304.89L304.89 247.41H305.29L305.29 247H305.7L305.7 246.55H306.1L306.1 242.76H306.5L306.5 247.28H306.9L306.9 246.17H307.31L307.31 238.25H307.71L307.71 247.28H308.11L308.11 271Z"/>
<path fill="#5282b1" fill-opacity="0.9" d="M305.39 240.34h0.8v0.8h-0.8zM304.53 235.24h0.8v0.8h-0.8zM306.82 233.63h0.8v0.8h-0.8zM304.1 238.46h0.8v0.8h-0.8zM307.26 236.83h0.8v0.8h-0.8zM305.35 241.87h0.8v0.8h-0.8zM303.9 236.55h0.8v0.8h-0.8zM303.93 234.99h0.8v0.8h-0.8z"/>
<path fill="#0024f0" fill-opacity="0.6" d="M309.43 271L309.43 247.53H309.83L309.83 240.72H310.24L310.24 245.83H310.64L310.64 243.25H311.05L311.05 236.3H311.46L311.46 245.6H311.86L311.86 243.77H312.27L312.27 245.2H312.68L312.68 241.92H313.08L313.08 242.26H313.49L313.49 271Z"/>
<path fill="#0024f0" d="M309.43 271L309.43 249.3H309.83L309.83 248.31H310.24L310.24 248.32H310.64L310.64 248.63H311.05L311.05 244.47H311.46L311.46 247.4H311.86L311.86 246.27H312.27L312.27 247.16H312.68L312.68 245.11H313.08L313.08 247.28H313.49L313.49 271Z"/>
<path fill="#0024f0" fill-opacity="0.9" d="M309.93 242.57h0.8v0.8h-0.8zM310.86 233.01h0.8v0.8h-0.8zM309.97 242.99h0.8v0.8h-0.8zM309.85 242.86h0.8v0.8h-0.8zM310.51 241.66h0.8v0.8h-0.8zM311.9 241.59h0.8v0.8h-0.8zM310.98 241.65h0.8v0.8h-0.8z"/>
<path fill="#5282b1" fill-opacity="0.6" d="M314.12 271L314.12 237.34H314.58L314.58 247.26H315.03L315.03 240.35H315.49L315.49 244.81H315.95L315.95 271ZM316.31 271L316.31 245.1H316.76L316.76 241.91H317.22L317.22 241.34H317.68L317.68 244.03H318.14L318.14 271Z"/>
<path fill="#5282b1" d="M314.12 271L314.12 247.28H314.58L314.58 249.52H315.03L315.03 244.63H315.49L315.49 247.28H315.95L315.95 271ZM316.31 271L316.31 247.28H316.76L316.76 247.03H317.22L317.22 245.3H317.68L317.68 247.28H318.14L318.14 271Z"/>
<path fill="#5282b1" fill-opacity="0.9" d="M314.82 239.54h0.8v0.8h-0.8zM314.12 237.45h0.8v0.8h-0.8zM314.57 242.81h0.8v0.8h-0.8zM317.15 239.1h0.8v0.8h-0.8zM316.75 241.87h0.8v0.8h-0.8zM317.32 236.72h0.8v0.8h-0.8z"/>
<path fill="#0024f0" fill-opacity="0.6" d="M318.77 271L318.77 245.47H319.17L319.17 245.08H319.58L319.58 235.82H319.99L319.99 246.11H320.39L320.39 236.13H320.8L320.8 243.08H321.21L321.21 240.96H321.61L321.61 240.4H322.02L322.02 242H322.42L322.42 245.71H322.83L322.83 271Z"/>
<path fill="#0024f0" d="M318.77 271L318.77 247.28H319.17L319.17 247.42H319.58L319.58 245.77H319.99L319.99 248.37H320.39L320.39 238.65H320.8L320.8 245.26H321.21L321.21 244.13H321.61L321.61 242.57H322.02L322.02 246.51H322.42L322.42 247.28H322.83L322.83 271Z"/>
<path fill="#0024f0" fill-opacity="0.9" d="M319.8 242.55h0.8v0.8h-0.8zM320.73 236.27h0.8v0.8h-0.8zM319.19 241.66h0.8v0.8h-0.8zM321.54 237.9h0.8v0.8h-0.8zM319.12 237.94h0.8v0.8h-0.8zM321.36 240.85h0.8v0.8h-0.8zM319.27 238.32h0.8v0.8h-0.8z"/>
<path fill="#5282b1" fill-opacity="0.6" d="M323.42 271L323.42 243.92H323.85L323.85 246.68H324.29L324.29 241.77H324.73L324.73 242.02H325.17L325.17 235.36H325.61L325.61 238.87H326.05L326.05 243.32H326.49L326.49 245.1H326.93L326.93 271Z"/>
<path fill="#5282b1" d="M323.42 271L323.42 247.28H323.85L323.85 248.42H324.29L324.29 249.12H324.73L324.73 245.5H325.17L325.17 237.78H325.61L325.61 244.04H326.05L326.05 245.21H326.49L326.49 247.59H326.93L326.93 271Z"/>
<path fill="#5282b1" fill-opacity="0.9" d="M323.83 235.9h0.8v0.8h-0.8zM324.67 236.41h0.8v0.8h-0.8zM324.34 242.3h0.8v0.8h-0.8zM324.81 237.8h0.8v0.8h-0.8zM325.81 242.08h0.8v0.8h-0.8zM325.3 241.71h0.8v0.8h-0.8z"/>
<path fill="#0024f0" fill-opacity="0.6" d="M327.43 271L327.43 243.5H327.83L327.83 237.68H328.23L328.23 241.62H328.64L328.64 248.21H329.04L329.04 239.03H329.45L329.45 245.27H329.85L329.85 245.37H330.26L330.26 271Z"/>
<path fill="#0024f0" d="M327.43 271L327.43 249.99H327.83L327.83 246.85H328.23L328.23 245H328.64L328.64 249.95H329.04L329.04 242.91H329.45L329.45 246.92H329.85L329.85 247.28H330.26L330.26 271Z"/>
<path fill="#0024f0" fill-opacity="0.9" d="M328.51 238.1h0.8v0.8h-0.8zM327.74 241.41h0.8v0.8h-0.8zM329.26 238.53h0.8v0.8h-0.8zM328.23 241.86h0.8v0.8h-0.8zM327.99 230.01h0.8v0.8h-0.8z"/>
<path fill="#5282b1" fill-opacity="0.6" d="M330.75 271L330.75 243.11H331.18L331.18 245.87H331.61L331.61 239.58H332.04L332.04 238.59H332.47L332.47 240.88H332.91L332.91 241.54H333.34L333.34 244.86H333.77L333.77 271Z"/>
<path fill="#5282b1" d="M330.75 271L330.75 248.32H331.18L331.18 248.77H331.61L331.61 248.51H332.04L332.04 241.66H332.47L332.47 245.29H332.91L332.91 245.47H333.34L333.34 247.28H333.77L333.77 271Z"/>
<path fill="#5282b1" fill-opacity="0.9" d="M331.33 240.67h0.8v0.8h-0.8zM330.92 232.4h0.8v0.8h-0.8zM332.61 239.64h0.8v0.8h-0.8zM331.74 241.7h0.8v0.8h-0.8zM332.09 241.44h0.8v0.8h-0.8z"/>
<path fill="#0024f0" fill-opacity="0.6" d="M334.72 271L334.72 244.78H335.17L335.17 239.44H335.63L335.63 242.83H336.09L336.09 244.93H336.55L336.55 271Z"/>
<path fill="#0024f0" d="M334.72 271L334.72 247.28H335.17L335.17 245.1H335.63L335.63 244.42H336.09L336.09 247.28H336.55L336.55 271Z"/>
<path fill="#0024f0" fill-opacity="0.9" d="M335.41 239.53h0.8v0.8h-0.8zM335.33 241.67h0.8v0.8h-0.8zM335.47 237.95h0.8v0.8h-0.8z"/>
<path fill="#5282b1" fill-opacity="0.6" d="M337.31 271L337.31 243.56H337.71L337.71 239.24H338.1L338.1 238.76H338.49L338.49 241.21H338.89L338.89 244.81H339.28L339.28 271Z"/>
<path fill="#5282b1" d="M337.31 271L337.31 247.28H337.71L337.71 245.18H338.1L338.1 243.36H338.49L338.49 243.73H338.89L338.89 247.28H339.28L339.28 271Z"/>
<path fill="#5282b1" fill-opacity="0.9" d="M338.37 241.3h0.8v0.8h-0.8zM337.67 242.25h0.8v0.8h-0.8zM338.44 239.05h0.8v0.8h-0.8z"/>
<path fill="#5282b1" fill-opacity="0.62" d="M221.39 212.21h1.3v1.3h-1.3zM221.2 214.89h1.3v1.3h-1.3zM198.88 231.34h1.3v1.3h-1.3zM198.95 232.86h1.3v1.3h-1.3zM209.12 232.1h1.3v1.3h-1.3zM209.01 234.39h1.3v1.3h-1.3zM243.12 231.34h1.3v1.3h-1.3zM261.29 231.34h1.3v1.3h-1.3zM275.64 230.57h1.3v1.3h-1.3zM289.6 229.04h1.3v1.3h-1.3zM289.71 232.1h1.3v1.3h-1.3zM294.26 232.86h1.3v1.3h-1.3zM302.78 228.28h1.3v1.3h-1.3zM304.35 232.86h1.3v1.3h-1.3zM316.14 232.86h1.3v1.3h-1.3zM323.8 232.1h1.3v1.3h-1.3zM331.71 233.63h1.3v1.3h-1.3z"/>
<path fill="#0024f0" fill-opacity="0.62" d="M220.41 221.39h1.3v1.3h-1.3zM219.77 227.51h1.3v1.3h-1.3zM219.83 229.8h1.3v1.3h-1.3zM185.19 229.04h1.3v1.3h-1.3zM218.23 230.57h1.3v1.3h-1.3zM218.06 232.86h1.3v1.3h-1.3zM218 234.39h1.3v1.3h-1.3zM240.55 227.51h1.3v1.3h-1.3zM250.26 227.51h1.3v1.3h-1.3zM250.21 229.8h1.3v1.3h-1.3zM250.26 232.1h1.3v1.3h-1.3zM250.35 233.63h1.3v1.3h-1.3zM254.68 226.74h1.3v1.3h-1.3zM254.66 229.04h1.3v1.3h-1.3zM254.52 231.34h1.3v1.3h-1.3zM254.65 233.63h1.3v1.3h-1.3zM271.87 224.45h1.3v1.3h-1.3zM282.77 225.98h1.3v1.3h-1.3zM282.8 229.04h1.3v1.3h-1.3zM284.21 232.1h1.3v1.3h-1.3zM310.07 224.45h1.3v1.3h-1.3zM327.86 230.57h1.3v1.3h-1.3zM327.84 232.1h1.3v1.3h-1.3z"/>
</g>
<path d="M184.5 215.5H339.6" stroke="#f3a3a0" stroke-width="0.55" stroke-dasharray="0.9 0.5" fill="none"/>
<g filter="url(#n)">
<path d="M184.1 213.5V271.7M183.4 271h0.7M183.4 263.35h0.7M183.4 255.7h0.7M183.4 248.05h0.7M183.4 240.4h0.7M183.4 232.75h0.7M183.4 225.1h0.7M183.4 217.45h0.7M184.1 271.15H339.3M184.1 271v0.7M208.53 271v0.7M232.95 271v0.7M257.38 271v0.7M281.8 271v0.7M306.23 271v0.7M330.65 271v0.7" stroke="#555" stroke-width="0.3" fill="none"/>
<g font-family='"Liberation Sans", sans-serif' font-size="2.5" fill="#111" text-anchor="end"><text x="182.9" y="271.9">0</text><text x="182.9" y="264.25">1</text><text x="182.9" y="256.6">2</text><text x="182.9" y="248.95">3</text><text x="182.9" y="241.3">4</text><text x="182.9" y="233.65">5</text><text x="182.9" y="226">6</text><text x="182.9" y="218.35">7</text></g>
<g font-family='"Liberation Sans", sans-serif' font-size="2.5" fill="#111" text-anchor="middle"><text x="190.97" y="275">1</text><text x="204.14" y="275">2</text><text x="216.08" y="275">3</text><text x="226.52" y="275">4</text><text x="236.68" y="275">5</text><text x="246.02" y="275">6</text><text x="255" y="275">7</text><text x="263.29" y="275">8</text><text x="270.81" y="275">9</text><text x="278.37" y="275">10</text><text x="285.76" y="275">11</text><text x="292.96" y="275">12</text><text x="299.79" y="275">13</text><text x="306.4" y="275">14</text><text x="311.05" y="275">15</text><text x="316.42" y="275">16</text><text x="320.84" y="275">17</text><text x="325.17" y="275">18</text><text x="328.91" y="275">19</text><text x="332.1" y="275">20</text><text x="335.11" y="275">21</text><text x="337.89" y="275">22</text></g>
<text x="261.9" y="278.1" font-family='"Liberation Sans", sans-serif' font-size="2.5" fill="#111" text-anchor="middle" letter-spacing="0.08">Chromosome</text>
<text transform="translate(176.8 244.22) rotate(-90)" font-family='"Liberation Sans", sans-serif' font-size="2.5" fill="#111" text-anchor="middle" letter-spacing="0.12">-log10 P-value</text>
</g>
<g filter="url(#b)">
<path fill="#0024f0" fill-opacity="0.6" d="M355.24 270.3L355.24 242.93H355.65L355.65 243.42H356.07L356.07 244.78H356.48L356.48 244.81H356.9L356.9 237.01H357.31L357.31 243.26H357.73L357.73 243.24H358.14L358.14 239.56H358.56L358.56 240.95H358.98L358.98 242.93H359.39L359.39 245.12H359.81L359.81 234.93H360.22L360.22 244.44H360.64L360.64 242.45H361.05L361.05 243.29H361.47L361.47 270.3ZM362.1 270.3L362.1 237.09H362.53L362.53 239.73H362.96L362.96 237.14H363.38L363.38 240.12H363.81L363.81 248.25H364.24L364.24 244.22H364.66L364.66 237.05H365.09L365.09 243.04H365.52L365.52 238.92H365.94L365.94 241.79H366.37L366.37 243.43H366.8L366.8 236.28H367.22L367.22 242.49H367.65L367.65 270.3Z"/>
<path fill="#0024f0" d="M355.24 270.3L355.24 246.2H355.65L355.65 247.95H356.07L356.07 248.19H356.48L356.48 246.4H356.9L356.9 239.87H357.31L357.31 246.08H357.73L357.73 245.1H358.14L358.14 245.98H358.56L358.56 244.58H358.98L358.98 245.09H359.39L359.39 249.38H359.81L359.81 244.88H360.22L360.22 246.38H360.64L360.64 247.63H361.05L361.05 246.2H361.47L361.47 270.3ZM362.1 270.3L362.1 247.03H362.53L362.53 243.69H362.96L362.96 247.08H363.38L363.38 244.78H363.81L363.81 249.79H364.24L364.24 245.81H364.66L364.66 239.81H365.09L365.09 246.36H365.52L365.52 241.33H365.94L365.94 245.48H366.37L366.37 246.1H366.8L366.8 246.23H367.22L367.22 246.78H367.65L367.65 270.3Z"/>
<path fill="#0024f0" fill-opacity="0.9" d="M360.22 242.11h0.8v0.8h-0.8zM359.29 237.53h0.8v0.8h-0.8zM357.25 241.99h0.8v0.8h-0.8zM358.56 236.1h0.8v0.8h-0.8zM357.8 239.68h0.8v0.8h-0.8zM358.96 238.3h0.8v0.8h-0.8zM357.54 241.67h0.8v0.8h-0.8zM357.75 238.95h0.8v0.8h-0.8zM358.26 240.79h0.8v0.8h-0.8zM356.45 238.05h0.8v0.8h-0.8zM362.77 242.45h0.8v0.8h-0.8zM366.05 237.49h0.8v0.8h-0.8zM365.1 240.9h0.8v0.8h-0.8zM363.37 230.98h0.8v0.8h-0.8zM364.63 242.53h0.8v0.8h-0.8zM363.72 240.65h0.8v0.8h-0.8zM362.42 225.09h0.8v0.8h-0.8zM366.39 234.88h0.8v0.8h-0.8zM362.12 240.14h0.8v0.8h-0.8zM362.63 236.68h0.8v0.8h-0.8z"/>
<path fill="#5282b1" fill-opacity="0.6" d="M368.46 270.3L368.46 240.43H368.88L368.88 241.3H369.3L369.3 230.98H369.71L369.71 238.53H370.13L370.13 247.65H370.54L370.54 243.99H370.96L370.96 243.19H371.37L371.37 241.24H371.79L371.79 241.78H372.2L372.2 243.39H372.62L372.62 244.55H373.03L373.03 242.97H373.45L373.45 239.71H373.86L373.86 237.61H374.28L374.28 239.82H374.69L374.69 233.2H375.11L375.11 241.22H375.53L375.53 235.45H375.94L375.94 242.07H376.36L376.36 240.58H376.77L376.77 240.83H377.19L377.19 243.62H377.6L377.6 241.35H378.02L378.02 241.21H378.43L378.43 240.64H378.85L378.85 238.81H379.26L379.26 239.05H379.68L379.68 241.96H380.09L380.09 239.51H380.51L380.51 241.76H380.92L380.92 270.3Z"/>
<path fill="#5282b1" d="M368.46 270.3L368.46 246.2H368.88L368.88 247.29H369.3L369.3 233.74H369.71L369.71 248.47H370.13L370.13 249.38H370.54L370.54 246.48H370.96L370.96 245.03H371.37L371.37 244.46H371.79L371.79 246.45H372.2L372.2 249.24H372.62L372.62 248H373.03L373.03 244.8H373.45L373.45 243.43H373.86L373.86 241.36H374.28L374.28 242.07H374.69L374.69 240.93H375.11L375.11 242.89H375.53L375.53 242.5H375.94L375.94 247.13H376.36L376.36 245.72H376.77L376.77 244.83H377.19L377.19 245.16H377.6L377.6 243.57H378.02L378.02 243.76H378.43L378.43 245.25H378.85L378.85 245.64H379.26L379.26 245.68H379.68L379.68 243.78H380.09L380.09 243.31H380.51L380.51 247.46H380.92L380.92 270.3Z"/>
<path fill="#5282b1" fill-opacity="0.9" d="M378.55 230.96h0.8v0.8h-0.8zM369.35 235.04h0.8v0.8h-0.8zM370.47 239.82h0.8v0.8h-0.8zM370.8 232.75h0.8v0.8h-0.8zM378.01 233.56h0.8v0.8h-0.8zM372.91 229.15h0.8v0.8h-0.8zM371.5 237.85h0.8v0.8h-0.8zM376.32 240.55h0.8v0.8h-0.8zM372.92 241.28h0.8v0.8h-0.8zM377.75 240.83h0.8v0.8h-0.8zM370.05 240.27h0.8v0.8h-0.8zM375.93 237.12h0.8v0.8h-0.8zM374.58 232.95h0.8v0.8h-0.8zM377.24 240.69h0.8v0.8h-0.8zM374.7 240.92h0.8v0.8h-0.8zM371.28 241.04h0.8v0.8h-0.8zM369.36 239.79h0.8v0.8h-0.8zM378.8 236.87h0.8v0.8h-0.8zM369.49 240.63h0.8v0.8h-0.8zM375.36 238.31h0.8v0.8h-0.8zM368.78 241.32h0.8v0.8h-0.8zM375.06 237.55h0.8v0.8h-0.8zM369.4 234.97h0.8v0.8h-0.8z"/>
<path fill="#0024f0" fill-opacity="0.6" d="M381.79 270.3L381.79 243.52H382.21L382.21 234.74H382.64L382.64 244.07H383.07L383.07 242.97H383.5L383.5 240.45H383.93L383.93 238.56H384.35L384.35 237.92H384.78L384.78 243.01H385.21L385.21 243.24H385.64L385.64 242.72H386.07L386.07 240.31H386.5L386.5 243.94H386.92L386.92 242.17H387.35L387.35 240.59H387.78L387.78 241.7H388.21L388.21 241.39H388.64L388.64 245.38H389.07L389.07 234.26H389.49L389.49 243.58H389.92L389.92 244.55H390.35L390.35 239.38H390.78L390.78 240.71H391.21L391.21 241.81H391.64L391.64 270.3Z"/>
<path fill="#0024f0" d="M381.79 270.3L381.79 246.2H382.21L382.21 244.69H382.64L382.64 247.93H383.07L383.07 245.06H383.5L383.5 245.47H383.93L383.93 241.37H384.35L384.35 247.87H384.78L384.78 246.11H385.21L385.21 244.83H385.64L385.64 244.5H386.07L386.07 242.82H386.5L386.5 245.8H386.92L386.92 244.46H387.35L387.35 243.68H387.78L387.78 244.29H388.21L388.21 244.25H388.64L388.64 248.98H389.07L389.07 237.55H389.49L389.49 246.18H389.92L389.92 247.13H390.35L390.35 241.63H390.78L390.78 245.89H391.21L391.21 246.2H391.64L391.64 270.3Z"/>
<path fill="#0024f0" fill-opacity="0.9" d="M388.96 241.71h0.8v0.8h-0.8zM389.84 240.26h0.8v0.8h-0.8zM389.15 239.36h0.8v0.8h-0.8zM389.85 239.3h0.8v0.8h-0.8zM384.12 241.54h0.8v0.8h-0.8zM386.28 242.05h0.8v0.8h-0.8zM383.27 232.75h0.8v0.8h-0.8zM386.98 233.16h0.8v0.8h-0.8zM383.15 239.28h0.8v0.8h-0.8zM386.03 241.76h0.8v0.8h-0.8zM384.17 230.59h0.8v0.8h-0.8zM388.33 239.02h0.8v0.8h-0.8zM387.3 233.23h0.8v0.8h-0.8zM390.42 238.14h0.8v0.8h-0.8zM382.24 232.86h0.8v0.8h-0.8zM383.28 241.03h0.8v0.8h-0.8zM383.03 238.99h0.8v0.8h-0.8zM387.06 239.46h0.8v0.8h-0.8z"/>
<path fill="#5282b1" fill-opacity="0.6" d="M392.5 270.3L392.5 242.81H392.92L392.92 244.7H393.33L393.33 239.47H393.75L393.75 236.55H394.17L394.17 240.83H394.59L394.59 236.4H395.01L395.01 236.16H395.43L395.43 242.95H395.84L395.84 232.68H396.26L396.26 236.89H396.68L396.68 240.97H397.1L397.1 245.29H397.52L397.52 232.77H397.94L397.94 241.02H398.35L398.35 244.33H398.77L398.77 242.05H399.19L399.19 234.61H399.61L399.61 229.76H400.03L400.03 240.88H400.45L400.45 244.17H400.86L400.86 240.62H401.28L401.28 243.72H401.7L401.7 243.62H402.12L402.12 270.3Z"/>
<path fill="#5282b1" d="M392.5 270.3L392.5 248.46H392.92L392.92 246.4H393.33L393.33 244.12H393.75L393.75 245.95H394.17L394.17 244.03H394.59L394.59 246.35H395.01L395.01 238.95H395.43L395.43 245.07H395.84L395.84 242.41H396.26L396.26 240.2H396.68L396.68 243.41H397.1L397.1 246.95H397.52L397.52 242.26H397.94L397.94 245.84H398.35L398.35 246.14H398.77L398.77 245.83H399.19L399.19 236.83H399.61L399.61 236.5H400.03L400.03 244.59H400.45L400.45 248.13H400.86L400.86 245.8H401.28L401.28 247.25H401.7L401.7 246.2H402.12L402.12 270.3Z"/>
<path fill="#5282b1" fill-opacity="0.9" d="M396.33 238.9h0.8v0.8h-0.8zM401.21 238.19h0.8v0.8h-0.8zM394.1 238.85h0.8v0.8h-0.8zM395.33 239.91h0.8v0.8h-0.8zM398.79 242.76h0.8v0.8h-0.8zM396.97 241.13h0.8v0.8h-0.8zM397.78 234.97h0.8v0.8h-0.8zM396.62 238.3h0.8v0.8h-0.8zM395.04 241.5h0.8v0.8h-0.8zM397 239.37h0.8v0.8h-0.8zM394.47 236.21h0.8v0.8h-0.8zM396.9 240.84h0.8v0.8h-0.8zM394.73 234.54h0.8v0.8h-0.8zM400.45 230.08h0.8v0.8h-0.8zM394.68 242.52h0.8v0.8h-0.8zM398.07 242.74h0.8v0.8h-0.8zM400.05 237.64h0.8v0.8h-0.8zM395.47 240.18h0.8v0.8h-0.8z"/>
<path fill="#0024f0" fill-opacity="0.6" d="M402.89 270.3L402.89 242.65H403.3L403.3 243.66H403.71L403.71 245.17H404.12L404.12 244.61H404.54L404.54 244.65H404.95L404.95 242.93H405.36L405.36 245.79H405.77L405.77 242.16H406.19L406.19 241H406.6L406.6 234.66H407.01L407.01 237.15H407.42L407.42 241.75H407.84L407.84 241.37H408.25L408.25 237.6H408.66L408.66 244.54H409.07L409.07 244.33H409.49L409.49 244.68H409.9L409.9 236.09H410.31L410.31 244.04H410.72L410.72 242.42H411.14L411.14 240.29H411.55L411.55 244.08H411.96L411.96 270.3Z"/>
<path fill="#0024f0" d="M402.89 270.3L402.89 246.2H403.3L403.3 245.26H403.71L403.71 248.56H404.12L404.12 246.89H404.54L404.54 246.19H404.95L404.95 246.09H405.36L405.36 247.53H405.77L405.77 246.12H406.19L406.19 246.67H406.6L406.6 237.99H407.01L407.01 243.28H407.42L407.42 247.1H407.84L407.84 245.7H408.25L408.25 246.19H408.66L408.66 246.53H409.07L409.07 245.97H409.49L409.49 249.57H409.9L409.9 243.93H410.31L410.31 246.01H410.72L410.72 245.5H411.14L411.14 243.24H411.55L411.55 246.2H411.96L411.96 270.3Z"/>
<path fill="#0024f0" fill-opacity="0.9" d="M404.19 239.55h0.8v0.8h-0.8zM408.33 242.27h0.8v0.8h-0.8zM405.13 226.24h0.8v0.8h-0.8zM405.1 235.8h0.8v0.8h-0.8zM405.42 242.17h0.8v0.8h-0.8zM406.91 233.23h0.8v0.8h-0.8zM409.32 242.36h0.8v0.8h-0.8zM408.71 238.13h0.8v0.8h-0.8zM406.88 237.57h0.8v0.8h-0.8zM407.2 241.65h0.8v0.8h-0.8zM408.64 241.95h0.8v0.8h-0.8zM405.45 233.83h0.8v0.8h-0.8zM407.59 239.3h0.8v0.8h-0.8zM408.76 239.47h0.8v0.8h-0.8zM406.06 238.89h0.8v0.8h-0.8zM403.07 240.59h0.8v0.8h-0.8z"/>
<path fill="#5282b1" fill-opacity="0.6" d="M412.82 270.3L412.82 240.92H413.25L413.25 244.64H413.67L413.67 240.71H414.1L414.1 240.65H414.53L414.53 242.61H414.95L414.95 240.19H415.38L415.38 243.16H415.8L415.8 239.75H416.23L416.23 242.96H416.66L416.66 235.31H417.08L417.08 238.83H417.51L417.51 240.58H417.94L417.94 241.04H418.36L418.36 238.81H418.79L418.79 240.04H419.21L419.21 233.77H419.64L419.64 239.69H420.07L420.07 232.99H420.49L420.49 244.4H420.92L420.92 243.82H421.34L421.34 270.3Z"/>
<path fill="#5282b1" d="M412.82 270.3L412.82 246.2H413.25L413.25 246.88H413.67L413.67 246.44H414.1L414.1 242.36H414.53L414.53 245.95H414.95L414.95 244.38H415.38L415.38 245.27H415.8L415.8 246.61H416.23L416.23 244.75H416.66L416.66 244.06H417.08L417.08 246.51H417.51L417.51 242.27H417.94L417.94 243.84H418.36L418.36 245.51H418.79L418.79 243.96H419.21L419.21 236.34H419.64L419.64 241.36H420.07L420.07 242.47H420.49L420.49 248.82H420.92L420.92 247.63H421.34L421.34 270.3Z"/>
<path fill="#5282b1" fill-opacity="0.9" d="M417.99 240.34h0.8v0.8h-0.8zM415.43 239.43h0.8v0.8h-0.8zM419.45 234.26h0.8v0.8h-0.8zM413.28 240.95h0.8v0.8h-0.8zM415.35 240.87h0.8v0.8h-0.8zM420.16 239.2h0.8v0.8h-0.8zM415.82 232.38h0.8v0.8h-0.8zM416.94 236.67h0.8v0.8h-0.8zM416.22 238.41h0.8v0.8h-0.8zM420.21 239.75h0.8v0.8h-0.8zM416.88 238.25h0.8v0.8h-0.8zM413.91 240.51h0.8v0.8h-0.8zM416.73 233.88h0.8v0.8h-0.8zM416.16 240.96h0.8v0.8h-0.8zM420.04 240.56h0.8v0.8h-0.8z"/>
<path fill="#0024f0" fill-opacity="0.6" d="M421.93 270.3L421.93 243.64H422.35L422.35 244.86H422.77L422.77 244.11H423.2L423.2 238.93H423.62L423.62 236.09H424.04L424.04 239.52H424.46L424.46 237.85H424.89L424.89 238.78H425.31L425.31 245.08H425.73L425.73 241.81H426.15L426.15 243.85H426.57L426.57 239.98H427L427 243.49H427.42L427.42 236.82H427.84L427.84 231.86H428.26L428.26 242.44H428.68L428.68 241.58H429.11L429.11 237.36H429.53L429.53 239.92H429.95L429.95 270.3Z"/>
<path fill="#0024f0" d="M421.93 270.3L421.93 246.43H422.35L422.35 247.58H422.77L422.77 246.12H423.2L423.2 243.39H423.62L423.62 243.64H424.04L424.04 242.8H424.46L424.46 242.21H424.89L424.89 243.22H425.31L425.31 246.98H425.73L425.73 244.3H426.15L426.15 245.84H426.57L426.57 242.17H427L427 247.17H427.42L427.42 245.05H427.84L427.84 237.97H428.26L428.26 244.64H428.68L428.68 244.75H429.11L429.11 245.52H429.53L429.53 246.2H429.95L429.95 270.3Z"/>
<path fill="#0024f0" fill-opacity="0.9" d="M426.38 237.71h0.8v0.8h-0.8zM425.08 239.61h0.8v0.8h-0.8zM422.98 238.51h0.8v0.8h-0.8zM423.91 241.55h0.8v0.8h-0.8zM428.21 238.23h0.8v0.8h-0.8zM428.26 240.55h0.8v0.8h-0.8zM426.09 240.66h0.8v0.8h-0.8zM427.93 241.08h0.8v0.8h-0.8zM426.61 238.44h0.8v0.8h-0.8zM424.28 241.77h0.8v0.8h-0.8zM425.44 238.75h0.8v0.8h-0.8zM427.84 241.11h0.8v0.8h-0.8zM423.27 240.48h0.8v0.8h-0.8zM427.72 240.94h0.8v0.8h-0.8zM426.51 242h0.8v0.8h-0.8z"/>
<path fill="#5282b1" fill-opacity="0.6" d="M430.72 270.3L430.72 238.2H431.13L431.13 239.91H431.54L431.54 239.61H431.96L431.96 236.46H432.37L432.37 240.24H432.78L432.78 237.67H433.19L433.19 239.05H433.61L433.61 240.85H434.02L434.02 240.93H434.43L434.43 240.31H434.84L434.84 241.6H435.26L435.26 237.57H435.67L435.67 234.22H436.08L436.08 244.11H436.49L436.49 242.49H436.91L436.91 239.58H437.32L437.32 242.23H437.73L437.73 270.3Z"/>
<path fill="#5282b1" d="M430.72 270.3L430.72 246.2H431.13L431.13 243.05H431.54L431.54 242.12H431.96L431.96 242.21H432.37L432.37 242.29H432.78L432.78 239.24H433.19L433.19 242.75H433.61L433.61 242.41H434.02L434.02 242.56H434.43L434.43 242.02H434.84L434.84 243.57H435.26L435.26 246H435.67L435.67 240.9H436.08L436.08 246.34H436.49L436.49 244.97H436.91L436.91 244.83H437.32L437.32 246.2H437.73L437.73 270.3Z"/>
<path fill="#5282b1" fill-opacity="0.9" d="M434.07 231.61h0.8v0.8h-0.8zM430.92 241.04h0.8v0.8h-0.8zM433.61 240.64h0.8v0.8h-0.8zM435.95 240.68h0.8v0.8h-0.8zM436.2 239.94h0.8v0.8h-0.8zM431.55 234.67h0.8v0.8h-0.8zM434.93 238.68h0.8v0.8h-0.8zM434.42 237.41h0.8v0.8h-0.8zM436.61 237.86h0.8v0.8h-0.8zM434.07 238.26h0.8v0.8h-0.8zM433.28 235.73h0.8v0.8h-0.8zM431.41 235.7h0.8v0.8h-0.8zM436.49 234.53h0.8v0.8h-0.8z"/>
<path fill="#0024f0" fill-opacity="0.6" d="M438.46 270.3L438.46 239.8H438.85L438.85 241.59H439.24L439.24 242.02H439.63L439.63 243.13H440.02L440.02 243.1H440.41L440.41 246.06H440.8L440.8 270.3ZM441.84 270.3L441.84 243.03H442.26L442.26 241.38H442.67L442.67 237.73H443.08L443.08 237.39H443.49L443.49 245.42H443.91L443.91 242.55H444.32L444.32 239.8H444.73L444.73 245.46H445.15L445.15 243.47H445.56L445.56 270.3Z"/>
<path fill="#0024f0" d="M438.46 270.3L438.46 246.2H438.85L438.85 246.9H439.24L439.24 245.2H439.63L439.63 249.28H440.02L440.02 246.14H440.41L440.41 249.15H440.8L440.8 270.3ZM441.84 270.3L441.84 246.2H442.26L442.26 244.26H442.67L442.67 241.66H443.08L443.08 242.05H443.49L443.49 247.42H443.91L443.91 244.23H444.32L444.32 246.06H444.73L444.73 247.73H445.15L445.15 246.73H445.56L445.56 270.3Z"/>
<path fill="#0024f0" fill-opacity="0.9" d="M438.47 228.14h0.8v0.8h-0.8zM438.9 239.56h0.8v0.8h-0.8zM439.94 242.12h0.8v0.8h-0.8zM438.55 242.13h0.8v0.8h-0.8zM443.79 242.34h0.8v0.8h-0.8zM444.29 242.38h0.8v0.8h-0.8zM442.76 234.5h0.8v0.8h-0.8zM444.72 241.09h0.8v0.8h-0.8zM444.62 243.01h0.8v0.8h-0.8zM444.63 242.16h0.8v0.8h-0.8zM441.94 236.6h0.8v0.8h-0.8z"/>
<path fill="#5282b1" fill-opacity="0.6" d="M446.28 270.3L446.28 244.47H446.7L446.7 243.69H447.11L447.11 225.06H447.52L447.52 244.09H447.93L447.93 240H448.35L448.35 237.95H448.76L448.76 243.9H449.17L449.17 240.34H449.58L449.58 239.48H450L450 242.71H450.41L450.41 239.84H450.82L450.82 238.63H451.23L451.23 245.36H451.65L451.65 240.58H452.06L452.06 238.64H452.47L452.47 244.5H452.88L452.88 270.3Z"/>
<path fill="#5282b1" d="M446.28 270.3L446.28 246.2H446.7L446.7 246.78H447.11L447.11 231.76H447.52L447.52 246.19H447.93L447.93 244.88H448.35L448.35 241.11H448.76L448.76 246.62H449.17L449.17 245.07H449.58L449.58 243.88H450L450 247.41H450.41L450.41 243.42H450.82L450.82 245.33H451.23L451.23 247.61H451.65L451.65 244.4H452.06L452.06 242.72H452.47L452.47 246.2H452.88L452.88 270.3Z"/>
<path fill="#5282b1" fill-opacity="0.9" d="M451.03 233.05h0.8v0.8h-0.8zM448.05 237.26h0.8v0.8h-0.8zM451.27 233.16h0.8v0.8h-0.8zM446.69 234.64h0.8v0.8h-0.8zM447.72 235.53h0.8v0.8h-0.8zM450.27 240.09h0.8v0.8h-0.8zM451.51 235.5h0.8v0.8h-0.8zM452.05 228.34h0.8v0.8h-0.8zM449.61 236.87h0.8v0.8h-0.8zM450.17 240.62h0.8v0.8h-0.8zM449.18 239.71h0.8v0.8h-0.8zM447.53 241.58h0.8v0.8h-0.8z"/>
<path fill="#0024f0" fill-opacity="0.6" d="M453.47 270.3L453.47 242.72H453.89L453.89 235.17H454.31L454.31 237.01H454.73L454.73 233.62H455.15L455.15 240.29H455.58L455.58 237.4H456L456 231.77H456.42L456.42 232.31H456.84L456.84 238.45H457.26L457.26 243.67H457.68L457.68 242.97H458.1L458.1 239.15H458.52L458.52 228.59H458.94L458.94 238.42H459.37L459.37 236.37H459.79L459.79 242.25H460.21L460.21 270.3Z"/>
<path fill="#0024f0" d="M453.47 270.3L453.47 246.2H453.89L453.89 244.73H454.31L454.31 242.53H454.73L454.73 239.8H455.15L455.15 243.19H455.58L455.58 239.2H456L456 233.96H456.42L456.42 234.72H456.84L456.84 243.53H457.26L457.26 245.52H457.68L457.68 244.83H458.1L458.1 242.05H458.52L458.52 233.75H458.94L458.94 242.15H459.37L459.37 245.04H459.79L459.79 246.2H460.21L460.21 270.3Z"/>
<path fill="#0024f0" fill-opacity="0.9" d="M458.71 235.04h0.8v0.8h-0.8zM457.76 237.17h0.8v0.8h-0.8zM458.52 239.89h0.8v0.8h-0.8zM457.02 233.33h0.8v0.8h-0.8zM458.08 235.28h0.8v0.8h-0.8zM453.84 237.42h0.8v0.8h-0.8zM455.07 236.11h0.8v0.8h-0.8zM455.83 237.61h0.8v0.8h-0.8zM456.66 236.33h0.8v0.8h-0.8zM458.76 238.89h0.8v0.8h-0.8zM455.1 239.47h0.8v0.8h-0.8z"/>
<path fill="#5282b1" fill-opacity="0.6" d="M460.93 270.3L460.93 239.29H461.36L461.36 237.46H461.78L461.78 241.88H462.2L462.2 242.53H462.63L462.63 240.02H463.05L463.05 229.98H463.48L463.48 243.86H463.9L463.9 232.91H464.32L464.32 238.28H464.75L464.75 242.76H465.17L465.17 239.78H465.6L465.6 239H466.02L466.02 241.61H466.44L466.44 243.33H466.87L466.87 237.09H467.29L467.29 242.68H467.72L467.72 270.3Z"/>
<path fill="#5282b1" d="M460.93 270.3L460.93 246.2H461.36L461.36 239.82H461.78L461.78 243.45H462.2L462.2 244.45H462.63L462.63 241.8H463.05L463.05 235.76H463.48L463.48 245.59H463.9L463.9 240.11H464.32L464.32 240.17H464.75L464.75 245.77H465.17L465.17 244.01H465.6L465.6 243.99H466.02L466.02 246.38H466.44L466.44 245.41H466.87L466.87 241.54H467.29L467.29 246.2H467.72L467.72 270.3Z"/>
<path fill="#5282b1" fill-opacity="0.9" d="M463.68 238.2h0.8v0.8h-0.8zM465.05 231.69h0.8v0.8h-0.8zM464.02 234.43h0.8v0.8h-0.8zM465 240.88h0.8v0.8h-0.8zM462.48 239.74h0.8v0.8h-0.8zM463.05 238.37h0.8v0.8h-0.8zM465.32 239.34h0.8v0.8h-0.8zM465.12 229.6h0.8v0.8h-0.8zM461.89 236.91h0.8v0.8h-0.8zM466.67 239.31h0.8v0.8h-0.8zM466.18 233.99h0.8v0.8h-0.8zM462.85 240.75h0.8v0.8h-0.8z"/>
<path fill="#0024f0" fill-opacity="0.6" d="M468.9 270.3L468.9 239.52H469.3L469.3 237.86H469.71L469.71 239.78H470.11L470.11 241H470.52L470.52 240.04H470.92L470.92 238.91H471.33L471.33 238.19H471.73L471.73 231.81H472.14L472.14 227.1H472.54L472.54 238.99H472.95L472.95 236.91H473.35L473.35 244.27H473.76L473.76 270.3Z"/>
<path fill="#0024f0" d="M468.9 270.3L468.9 246.2H469.3L469.3 239.41H469.71L469.71 241.63H470.11L470.11 245.19H470.52L470.52 244.79H470.92L470.92 243.17H471.33L471.33 241.54H471.73L471.73 241.76H472.14L472.14 231.79H472.54L472.54 240.61H472.95L472.95 244.24H473.35L473.35 246.2H473.76L473.76 270.3Z"/>
<path fill="#0024f0" fill-opacity="0.9" d="M469.47 239.1h0.8v0.8h-0.8zM472.17 240.83h0.8v0.8h-0.8zM472.1 237.7h0.8v0.8h-0.8zM472.14 239.42h0.8v0.8h-0.8zM469.07 240.82h0.8v0.8h-0.8zM471.83 238.06h0.8v0.8h-0.8zM472 240.28h0.8v0.8h-0.8zM470.03 240.21h0.8v0.8h-0.8zM472.35 235.73h0.8v0.8h-0.8z"/>
<path fill="#5282b1" fill-opacity="0.6" d="M475.12 270.3L475.12 241.35H475.53L475.53 241.52H475.93L475.93 239.42H476.34L476.34 240.13H476.74L476.74 243.77H477.14L477.14 241.19H477.55L477.55 242.28H477.95L477.95 242.08H478.36L478.36 246.67H478.76L478.76 239.63H479.17L479.17 243.48H479.57L479.57 270.3Z"/>
<path fill="#5282b1" d="M475.12 270.3L475.12 246.2H475.53L475.53 245.4H475.93L475.93 246.17H476.34L476.34 247.63H476.74L476.74 246.84H477.14L477.14 243.65H477.55L477.55 246.97H477.95L477.95 243.91H478.36L478.36 249.33H478.76L478.76 243.59H479.17L479.17 246.2H479.57L479.57 270.3Z"/>
<path fill="#5282b1" fill-opacity="0.9" d="M478.37 238.09h0.8v0.8h-0.8zM477.88 239.22h0.8v0.8h-0.8zM477.87 242.43h0.8v0.8h-0.8zM478.76 239.1h0.8v0.8h-0.8zM477.3 242.12h0.8v0.8h-0.8zM475.45 237.48h0.8v0.8h-0.8zM477.77 238.05h0.8v0.8h-0.8zM476.05 240.03h0.8v0.8h-0.8z"/>
<path fill="#0024f0" fill-opacity="0.6" d="M480.89 270.3L480.89 244.64H481.3L481.3 241.39H481.71L481.71 240.42H482.11L482.11 240.41H482.52L482.52 238.19H482.93L482.93 239.44H483.34L483.34 243.43H483.75L483.75 237.96H484.16L484.16 237.63H484.56L484.56 236.26H484.97L484.97 270.3Z"/>
<path fill="#0024f0" d="M480.89 270.3L480.89 246.2H481.3L481.3 245.45H481.71L481.71 245.59H482.11L482.11 242.9H482.52L482.52 242.54H482.93L482.93 242.24H483.34L483.34 245.01H483.75L483.75 241.2H484.16L484.16 240.35H484.56L484.56 246.2H484.97L484.97 270.3Z"/>
<path fill="#0024f0" fill-opacity="0.9" d="M481.05 241.08h0.8v0.8h-0.8zM481.13 238.31h0.8v0.8h-0.8zM484.04 235.09h0.8v0.8h-0.8zM481.26 238.43h0.8v0.8h-0.8zM482.06 224.61h0.8v0.8h-0.8zM483.21 237.74h0.8v0.8h-0.8zM481.73 239.36h0.8v0.8h-0.8z"/>
<path fill="#5282b1" fill-opacity="0.6" d="M485.6 270.3L485.6 236.26H486.06L486.06 242.02H486.52L486.52 243.13H486.98L486.98 243.68H487.44L487.44 270.3ZM487.8 270.3L487.8 245.42H488.26L488.26 241.97H488.72L488.72 239.9H489.18L489.18 237H489.64L489.64 270.3Z"/>
<path fill="#5282b1" d="M485.6 270.3L485.6 246.2H486.06L486.06 247.39H486.52L486.52 245.18H486.98L486.98 246.2H487.44L487.44 270.3ZM487.8 270.3L487.8 248.31H488.26L488.26 245.9H488.72L488.72 243.56H489.18L489.18 246.49H489.64L489.64 270.3Z"/>
<path fill="#5282b1" fill-opacity="0.9" d="M486.37 241.69h0.8v0.8h-0.8zM486.52 241.34h0.8v0.8h-0.8zM486.59 228.13h0.8v0.8h-0.8zM488.06 233.92h0.8v0.8h-0.8zM488.8 236.66h0.8v0.8h-0.8zM488.26 239.3h0.8v0.8h-0.8z"/>
<path fill="#0024f0" fill-opacity="0.6" d="M490.27 270.3L490.27 243.64H490.68L490.68 240.03H491.09L491.09 244.02H491.5L491.5 236.1H491.91L491.91 235.42H492.32L492.32 240.2H492.72L492.72 244.81H493.13L493.13 246.54H493.54L493.54 245.56H493.95L493.95 244.34H494.36L494.36 270.3Z"/>
<path fill="#0024f0" d="M490.27 270.3L490.27 246.2H490.68L490.68 246.77H491.09L491.09 247.45H491.5L491.5 238.58H491.91L491.91 245.37H492.32L492.32 243.44H492.72L492.72 247.86H493.13L493.13 250.79H493.54L493.54 247.24H493.95L493.95 246.2H494.36L494.36 270.3Z"/>
<path fill="#0024f0" fill-opacity="0.9" d="M491.7 242.54h0.8v0.8h-0.8zM492.27 241.63h0.8v0.8h-0.8zM490.99 238.17h0.8v0.8h-0.8zM493.31 242.76h0.8v0.8h-0.8zM492.62 238.82h0.8v0.8h-0.8zM491.87 240.31h0.8v0.8h-0.8zM490.31 240.83h0.8v0.8h-0.8z"/>
<path fill="#5282b1" fill-opacity="0.6" d="M494.94 270.3L494.94 240.85H495.38L495.38 242.14H495.83L495.83 239.08H496.27L496.27 242.53H496.71L496.71 240.06H497.15L497.15 232.47H497.59L497.59 240.97H498.03L498.03 243.82H498.48L498.48 270.3Z"/>
<path fill="#5282b1" d="M494.94 270.3L494.94 246.2H495.38L495.38 247.93H495.83L495.83 241.99H496.27L496.27 245.63H496.71L496.71 242.01H497.15L497.15 242.42H497.59L497.59 243.44H498.03L498.03 246.2H498.48L498.48 270.3Z"/>
<path fill="#5282b1" fill-opacity="0.9" d="M497.26 242.69h0.8v0.8h-0.8zM496.78 233.18h0.8v0.8h-0.8zM497.61 235.65h0.8v0.8h-0.8zM495.08 240.15h0.8v0.8h-0.8zM495.54 242.58h0.8v0.8h-0.8zM495.61 237.08h0.8v0.8h-0.8z"/>
<path fill="#0024f0" fill-opacity="0.6" d="M498.97 270.3L498.97 241.45H499.38L499.38 244.62H499.78L499.78 242.27H500.19L500.19 245.92H500.6L500.6 247.98H501L501 245.67H501.41L501.41 237.16H501.82L501.82 270.3Z"/>
<path fill="#0024f0" d="M498.97 270.3L498.97 246.2H499.38L499.38 246.68H499.78L499.78 245.88H500.19L500.19 248.32H500.6L500.6 249.85H501L501 249.75H501.41L501.41 247.1H501.82L501.82 270.3Z"/>
<path fill="#0024f0" fill-opacity="0.9" d="M500.61 240.9h0.8v0.8h-0.8zM499.18 231.11h0.8v0.8h-0.8zM499.1 231h0.8v0.8h-0.8zM500.88 237.82h0.8v0.8h-0.8zM500.91 238.5h0.8v0.8h-0.8z"/>
<path fill="#5282b1" fill-opacity="0.6" d="M502.31 270.3L502.31 243.29H502.75L502.75 241.48H503.18L503.18 241.55H503.61L503.61 242.53H504.04L504.04 245.42H504.48L504.48 240.6H504.91L504.91 243.78H505.34L505.34 270.3Z"/>
<path fill="#5282b1" d="M502.31 270.3L502.31 246.2H502.75L502.75 243.7H503.18L503.18 246.98H503.61L503.61 245.08H504.04L504.04 249.8H504.48L504.48 245.56H504.91L504.91 246.2H505.34L505.34 270.3Z"/>
<path fill="#5282b1" fill-opacity="0.9" d="M504.01 233.87h0.8v0.8h-0.8zM502.63 231.25h0.8v0.8h-0.8zM503.28 240.92h0.8v0.8h-0.8zM503.15 238.94h0.8v0.8h-0.8zM503.49 240.79h0.8v0.8h-0.8z"/>
<path fill="#0024f0" fill-opacity="0.6" d="M506.3 270.3L506.3 241.18H506.76L506.76 237.38H507.22L507.22 232.15H507.68L507.68 243.04H508.14L508.14 270.3Z"/>
<path fill="#0024f0" d="M506.3 270.3L506.3 247.19H506.76L506.76 240.61H507.22L507.22 241.21H507.68L507.68 246.2H508.14L508.14 270.3Z"/>
<path fill="#0024f0" fill-opacity="0.9" d="M506.86 232.73h0.8v0.8h-0.8zM506.96 228.17h0.8v0.8h-0.8zM507 229.83h0.8v0.8h-0.8z"/>
<path fill="#5282b1" fill-opacity="0.6" d="M508.9 270.3L508.9 236.89H509.3L509.3 240.96H509.7L509.7 237.88H510.09L510.09 238.85H510.49L510.49 244.93H510.88L510.88 270.3Z"/>
<path fill="#5282b1" d="M508.9 270.3L508.9 246.2H509.3L509.3 245.99H509.7L509.7 242.32H510.09L510.09 241.48H510.49L510.49 248.18H510.88L510.88 270.3Z"/>
<path fill="#5282b1" fill-opacity="0.9" d="M509.47 232.72h0.8v0.8h-0.8zM509.22 239.54h0.8v0.8h-0.8zM509.37 236.24h0.8v0.8h-0.8z"/>
<path fill="#5282b1" fill-opacity="0.62" d="M392.29 211.51h1.3v1.3h-1.3zM373.21 223.75h1.3v1.3h-1.3zM391.89 222.6h1.3v1.3h-1.3zM391.94 227.58h1.3v1.3h-1.3zM391.82 231.4h1.3v1.3h-1.3zM394.32 227.58h1.3v1.3h-1.3zM394.23 229.87h1.3v1.3h-1.3zM394.2 232.16h1.3v1.3h-1.3zM394.1 234.46h1.3v1.3h-1.3zM395.52 229.87h1.3v1.3h-1.3zM395.54 232.93h1.3v1.3h-1.3zM400.88 218.4h1.3v1.3h-1.3zM400.77 220.69h1.3v1.3h-1.3zM400.84 222.99h1.3v1.3h-1.3zM400.79 225.28h1.3v1.3h-1.3zM400.86 227.58h1.3v1.3h-1.3zM400.89 229.87h1.3v1.3h-1.3zM400.85 232.16h1.3v1.3h-1.3zM432.56 219.54h1.3v1.3h-1.3zM432.7 226.81h1.3v1.3h-1.3zM434.95 231.4h1.3v1.3h-1.3zM467.49 233.69h1.3v1.3h-1.3zM475.11 229.1h1.3v1.3h-1.3z"/>
<path fill="#0024f0" fill-opacity="0.62" d="M357.25 227.58h1.3v1.3h-1.3zM359.42 226.04h1.3v1.3h-1.3zM389.15 227.58h1.3v1.3h-1.3zM389.06 229.87h1.3v1.3h-1.3zM411.66 232.16h1.3v1.3h-1.3zM421.25 231.4h1.3v1.3h-1.3zM441.88 222.6h1.3v1.3h-1.3zM454.28 216.1h1.3v1.3h-1.3zM454.14 216.87h1.3v1.3h-1.3zM454.26 228.34h1.3v1.3h-1.3zM454.11 229.87h1.3v1.3h-1.3zM490.42 232.93h1.3v1.3h-1.3zM498.11 229.87h1.3v1.3h-1.3zM505.43 231.4h1.3v1.3h-1.3zM507.73 232.93h1.3v1.3h-1.3z"/>
</g>
<path d="M355.4 214.5H511.2" stroke="#f3a3a0" stroke-width="0.55" stroke-dasharray="0.9 0.5" fill="none"/>
<g filter="url(#n)">
<path d="M355 213.5V271M354.3 270.3h0.7M354.3 262.65h0.7M354.3 255h0.7M354.3 247.35h0.7M354.3 239.7h0.7M354.3 232.05h0.7M354.3 224.4h0.7M354.3 216.75h0.7M355 270.45H510.9M355 270.3v0.7M379.54 270.3v0.7M404.07 270.3v0.7M428.61 270.3v0.7M453.14 270.3v0.7M477.68 270.3v0.7M502.21 270.3v0.7" stroke="#555" stroke-width="0.3" fill="none"/>
<g font-family='"Liberation Sans", sans-serif' font-size="2.5" fill="#111" text-anchor="end"><text x="353.8" y="271.2">0</text><text x="353.8" y="263.55">1</text><text x="353.8" y="255.9">2</text><text x="353.8" y="248.25">3</text><text x="353.8" y="240.6">4</text><text x="353.8" y="232.95">5</text><text x="353.8" y="225.3">6</text><text x="353.8" y="217.65">7</text></g>
<g font-family='"Liberation Sans", sans-serif' font-size="2.5" fill="#111" text-anchor="middle"><text x="361.9" y="274.3">1</text><text x="375.13" y="274.3">2</text><text x="387.12" y="274.3">3</text><text x="397.61" y="274.3">4</text><text x="407.81" y="274.3">5</text><text x="417.2" y="274.3">6</text><text x="426.21" y="274.3">7</text><text x="434.55" y="274.3">8</text><text x="442.1" y="274.3">9</text><text x="449.7" y="274.3">10</text><text x="457.11" y="274.3">11</text><text x="464.35" y="274.3">12</text><text x="471.21" y="274.3">13</text><text x="477.85" y="274.3">14</text><text x="482.52" y="274.3">15</text><text x="487.92" y="274.3">16</text><text x="492.36" y="274.3">17</text><text x="496.71" y="274.3">18</text><text x="500.46" y="274.3">19</text><text x="503.67" y="274.3">20</text><text x="506.69" y="274.3">21</text><text x="509.48" y="274.3">22</text></g>
<text x="433.15" y="277.4" font-family='"Liberation Sans", sans-serif' font-size="2.5" fill="#111" text-anchor="middle" letter-spacing="0.08">Chromosome</text>
<text transform="translate(348 241.53) rotate(-90)" font-family='"Liberation Sans", sans-serif' font-size="2.5" fill="#111" text-anchor="middle" letter-spacing="0.12">-log10 P-value</text>
</g>
<g filter="url(#b)">
<path fill="#0024f0" fill-opacity="0.75" d="M14.04 376.5L14.04 362.09H14.45L14.45 363.33H14.86L14.86 363.87H15.28L15.28 361.61H15.69L15.69 363.13H16.1L16.1 360.74H16.51L16.51 364.14H16.93L16.93 365.58H17.34L17.34 361.17H17.75L17.75 358.98H18.17L18.17 360.7H18.58L18.58 363.13H18.99L18.99 357.6H19.4L19.4 360.78H19.82L19.82 364.02H20.23L20.23 376.5ZM20.86 376.5L20.86 362.87H21.28L21.28 363.83H21.71L21.71 363.82H22.13L22.13 361.83H22.55L22.55 363.85H22.98L22.98 362.1H23.4L23.4 359.63H23.83L23.83 363.97H24.25L24.25 362.07H24.67L24.67 363.55H25.1L25.1 363.83H25.52L25.52 358.48H25.95L25.95 364.64H26.37L26.37 376.5Z"/>
<path fill="#0024f0" d="M14.04 376.5L14.04 366.18H14.45L14.45 365.05H14.86L14.86 365.29H15.28L15.28 365.14H15.69L15.69 364.51H16.1L16.1 365.31H16.51L16.51 365.51H16.93L16.93 366.97H17.34L17.34 363.92H17.75L17.75 361.89H18.17L18.17 365.27H18.58L18.58 366.13H18.99L18.99 359.41H19.4L19.4 365.35H19.82L19.82 365.82H20.23L20.23 376.5ZM20.86 376.5L20.86 365.82H21.28L21.28 366.47H21.71L21.71 365.54H22.13L22.13 366.06H22.55L22.55 365.68H22.98L22.98 366.13H23.4L23.4 364.2H23.83L23.83 365.78H24.25L24.25 364.66H24.67L24.67 365.25H25.1L25.1 366.1H25.52L25.52 360.21H25.95L25.95 366.24H26.37L26.37 376.5Z"/>
<path fill="#0024f0" fill-opacity="0.9" d="M18.36 357.7h0.8v0.8h-0.8zM18.11 361.58h0.8v0.8h-0.8zM18.5 359.41h0.8v0.8h-0.8zM19.18 362.35h0.8v0.8h-0.8zM16.13 363.61h0.8v0.8h-0.8zM16.88 362.89h0.8v0.8h-0.8zM15.7 359.12h0.8v0.8h-0.8zM14.12 362.88h0.8v0.8h-0.8zM18.26 361.75h0.8v0.8h-0.8zM17.67 362.5h0.8v0.8h-0.8zM24.05 362.85h0.8v0.8h-0.8zM24.54 362.49h0.8v0.8h-0.8zM22.18 363.62h0.8v0.8h-0.8zM25.08 362.38h0.8v0.8h-0.8zM23.9 360.65h0.8v0.8h-0.8zM25.05 362.81h0.8v0.8h-0.8zM25.51 362.8h0.8v0.8h-0.8zM24.28 360.64h0.8v0.8h-0.8zM22.57 362.71h0.8v0.8h-0.8z"/>
<path fill="#5282b1" fill-opacity="0.75" d="M27.18 376.5L27.18 362.94H27.61L27.61 363.9H28.03L28.03 363.68H28.46L28.46 364.11H28.89L28.89 362.74H29.32L29.32 363.73H29.74L29.74 362.82H30.17L30.17 363.89H30.6L30.6 363.17H31.02L31.02 361.97H31.45L31.45 363.19H31.88L31.88 363.73H32.3L32.3 363.67H32.73L32.73 363.44H33.16L33.16 363.64H33.58L33.58 365.03H34.01L34.01 363.63H34.44L34.44 356.72H34.86L34.86 363.49H35.29L35.29 361.99H35.72L35.72 365.01H36.14L36.14 365.71H36.57L36.57 364.95H37L37 364.01H37.43L37.43 363.68H37.85L37.85 364.36H38.28L38.28 364.61H38.71L38.71 364.22H39.13L39.13 361.39H39.56L39.56 376.5Z"/>
<path fill="#5282b1" d="M27.18 376.5L27.18 365.82H27.61L27.61 366.67H28.03L28.03 365.16H28.46L28.46 365.97H28.89L28.89 364.87H29.32L29.32 365.27H29.74L29.74 365.52H30.17L30.17 365.96H30.6L30.6 366.93H31.02L31.02 363.75H31.45L31.45 364.42H31.88L31.88 366.84H32.3L32.3 365.2H32.73L32.73 365.47H33.16L33.16 365.36H33.58L33.58 366.42H34.01L34.01 365.01H34.44L34.44 359.19H34.86L34.86 365.17H35.29L35.29 364.29H35.72L35.72 366.96H36.14L36.14 367.48H36.57L36.57 366.78H37L37 366.9H37.43L37.43 365.82H37.85L37.85 365.8H38.28L38.28 366.21H38.71L38.71 367.11H39.13L39.13 365.82H39.56L39.56 376.5Z"/>
<path fill="#5282b1" fill-opacity="0.9" d="M28.24 362.87h0.8v0.8h-0.8zM29.44 360.59h0.8v0.8h-0.8zM30.67 362.59h0.8v0.8h-0.8zM27.78 361.75h0.8v0.8h-0.8zM33.13 361.01h0.8v0.8h-0.8zM35.53 361.43h0.8v0.8h-0.8zM30.22 363.23h0.8v0.8h-0.8zM34.1 363.63h0.8v0.8h-0.8zM38.03 361.57h0.8v0.8h-0.8zM32.89 362.96h0.8v0.8h-0.8zM28.08 362.36h0.8v0.8h-0.8zM36.13 363.5h0.8v0.8h-0.8zM28.33 361.77h0.8v0.8h-0.8zM32.62 361.08h0.8v0.8h-0.8zM31.95 356.95h0.8v0.8h-0.8zM37.28 363.06h0.8v0.8h-0.8zM33.39 362.23h0.8v0.8h-0.8zM32.4 360.86h0.8v0.8h-0.8zM35.35 360.85h0.8v0.8h-0.8zM30.11 362.53h0.8v0.8h-0.8zM33.47 362.24h0.8v0.8h-0.8zM27.37 360.91h0.8v0.8h-0.8zM32.37 363.42h0.8v0.8h-0.8z"/>
<path fill="#0024f0" fill-opacity="0.75" d="M40.42 376.5L40.42 361.98H40.84L40.84 361.35H41.27L41.27 361.51H41.69L41.69 363.97H42.12L42.12 362.55H42.54L42.54 362.26H42.97L42.97 363.99H43.39L43.39 362.32H43.82L43.82 360.95H44.25L44.25 361.26H44.67L44.67 363.88H45.1L45.1 359.87H45.52L45.52 362.97H45.95L45.95 363.02H46.37L46.37 358.18H46.8L46.8 360.97H47.22L47.22 364.92H47.65L47.65 364.29H48.07L48.07 364.47H48.5L48.5 364.33H48.93L48.93 362.79H49.35L49.35 362.95H49.78L49.78 363.36H50.2L50.2 376.5Z"/>
<path fill="#0024f0" d="M40.42 376.5L40.42 365.82H40.84L40.84 362.83H41.27L41.27 363.38H41.69L41.69 365.51H42.12L42.12 363.97H42.54L42.54 365.71H42.97L42.97 365.31H43.39L43.39 365.91H43.82L43.82 364.59H44.25L44.25 364.5H44.67L44.67 365.26H45.1L45.1 364.44H45.52L45.52 364.56H45.95L45.95 364.58H46.37L46.37 360.37H46.8L46.8 365.54H47.22L47.22 366.64H47.65L47.65 365.53H48.07L48.07 365.76H48.5L48.5 366.12H48.93L48.93 364.23H49.35L49.35 366.55H49.78L49.78 365.82H50.2L50.2 376.5Z"/>
<path fill="#0024f0" fill-opacity="0.9" d="M46.23 360.47h0.8v0.8h-0.8zM47.71 361.54h0.8v0.8h-0.8zM47.8 362.97h0.8v0.8h-0.8zM48.92 361.35h0.8v0.8h-0.8zM41.27 362.88h0.8v0.8h-0.8zM46.18 362.58h0.8v0.8h-0.8zM48.84 362.64h0.8v0.8h-0.8zM44.78 362.02h0.8v0.8h-0.8zM48.86 362.58h0.8v0.8h-0.8zM48.43 361.04h0.8v0.8h-0.8zM45.53 358.29h0.8v0.8h-0.8zM48.36 360.87h0.8v0.8h-0.8zM45.32 363.12h0.8v0.8h-0.8zM42.4 361.43h0.8v0.8h-0.8zM41.47 361.46h0.8v0.8h-0.8zM43.53 362.37h0.8v0.8h-0.8zM47.81 360.11h0.8v0.8h-0.8zM47.13 362.2h0.8v0.8h-0.8z"/>
<path fill="#5282b1" fill-opacity="0.75" d="M51.06 376.5L51.06 364.56H51.47L51.47 359.86H51.89L51.89 362.62H52.31L52.31 360.88H52.72L52.72 360.92H53.14L53.14 364.83H53.55L53.55 364.7H53.97L53.97 363.12H54.38L54.38 363.28H54.8L54.8 362.96H55.21L55.21 364.12H55.63L55.63 365.14H56.05L56.05 362.58H56.46L56.46 359.05H56.88L56.88 362.37H57.29L57.29 360.78H57.71L57.71 362.29H58.12L58.12 357.77H58.54L58.54 364.45H58.96L58.96 364.75H59.37L59.37 365.15H59.79L59.79 364.14H60.2L60.2 364.2H60.62L60.62 376.5Z"/>
<path fill="#5282b1" d="M51.06 376.5L51.06 365.82H51.47L51.47 362.32H51.89L51.89 364.98H52.31L52.31 363.95H52.72L52.72 363.44H53.14L53.14 366.22H53.55L53.55 366.17H53.97L53.97 365.44H54.38L54.38 365.52H54.8L54.8 365.2H55.21L55.21 365.4H55.63L55.63 366.36H56.05L56.05 364.17H56.46L56.46 361.8H56.88L56.88 364.38H57.29L57.29 365.35H57.71L57.71 363.66H58.12L58.12 359.55H58.54L58.54 366.16H58.96L58.96 366.18H59.37L59.37 367.39H59.79L59.79 366.02H60.2L60.2 365.82H60.62L60.62 376.5Z"/>
<path fill="#5282b1" fill-opacity="0.9" d="M57.67 361.27h0.8v0.8h-0.8zM54.7 363.09h0.8v0.8h-0.8zM57.76 361.35h0.8v0.8h-0.8zM56 361.07h0.8v0.8h-0.8zM59.37 362.9h0.8v0.8h-0.8zM57.1 360.61h0.8v0.8h-0.8zM53.39 359.46h0.8v0.8h-0.8zM53.81 358.13h0.8v0.8h-0.8zM56.16 357.32h0.8v0.8h-0.8zM58.8 360.82h0.8v0.8h-0.8zM54.3 362.34h0.8v0.8h-0.8zM56.2 360.63h0.8v0.8h-0.8zM54.71 359.53h0.8v0.8h-0.8zM52.96 362.14h0.8v0.8h-0.8zM52.33 363.06h0.8v0.8h-0.8zM53.61 363.29h0.8v0.8h-0.8zM56.05 361.75h0.8v0.8h-0.8zM54.52 360.69h0.8v0.8h-0.8z"/>
<path fill="#0024f0" fill-opacity="0.75" d="M61.38 376.5L61.38 362.58H61.81L61.81 362.71H62.24L62.24 359.96H62.67L62.67 366.09H63.1L63.1 364.74H63.53L63.53 362.63H63.96L63.96 364.55H64.39L64.39 361.74H64.82L64.82 364.15H65.25L65.25 363.52H65.67L65.67 362.33H66.1L66.1 363.26H66.53L66.53 364.22H66.96L66.96 365.42H67.39L67.39 362.87H67.82L67.82 364.31H68.25L68.25 362.92H68.68L68.68 364.89H69.11L69.11 362.7H69.54L69.54 363H69.97L69.97 364.18H70.4L70.4 376.5Z"/>
<path fill="#0024f0" d="M61.38 376.5L61.38 365.82H61.81L61.81 365.12H62.24L62.24 364.53H62.67L62.67 367.65H63.1L63.1 366.07H63.53L63.53 364.41H63.96L63.96 366.4H64.39L64.39 365.98H64.82L64.82 365.64H65.25L65.25 364.8H65.67L65.67 365.03H66.1L66.1 365.8H66.53L66.53 365.73H66.96L66.96 366.7H67.39L67.39 364.97H67.82L67.82 365.6H68.25L68.25 364.98H68.68L68.68 366.52H69.11L69.11 364.9H69.54L69.54 365.47H69.97L69.97 366.66H70.4L70.4 376.5Z"/>
<path fill="#0024f0" fill-opacity="0.9" d="M68.83 362.51h0.8v0.8h-0.8zM67.85 363.37h0.8v0.8h-0.8zM66.64 362.9h0.8v0.8h-0.8zM67.08 362.98h0.8v0.8h-0.8zM62.92 363.04h0.8v0.8h-0.8zM67.33 361.48h0.8v0.8h-0.8zM68.88 362.67h0.8v0.8h-0.8zM61.92 360.8h0.8v0.8h-0.8zM63.49 361.45h0.8v0.8h-0.8zM65.4 362.58h0.8v0.8h-0.8zM61.64 363.14h0.8v0.8h-0.8zM67.53 362.54h0.8v0.8h-0.8zM68.62 360.81h0.8v0.8h-0.8zM61.4 362.71h0.8v0.8h-0.8zM65.77 363.48h0.8v0.8h-0.8zM68.54 363.3h0.8v0.8h-0.8z"/>
<path fill="#5282b1" fill-opacity="0.75" d="M71.25 376.5L71.25 365.36H71.68L71.68 359.02H72.1L72.1 364.14H72.52L72.52 363.36H72.95L72.95 362.51H73.37L73.37 361.64H73.79L73.79 365.62H74.22L74.22 362.31H74.64L74.64 364.28H75.06L75.06 364.03H75.49L75.49 363.31H75.91L75.91 363.86H76.33L76.33 364.99H76.76L76.76 362.95H77.18L77.18 362.84H77.6L77.6 364.3H78.03L78.03 364.7H78.45L78.45 365.08H78.87L78.87 360.35H79.3L79.3 363.86H79.72L79.72 376.5Z"/>
<path fill="#5282b1" d="M71.25 376.5L71.25 366.78H71.68L71.68 360.36H72.1L72.1 366.08H72.52L72.52 365.62H72.95L72.95 366.06H73.37L73.37 364.67H73.79L73.79 366.89H74.22L74.22 365.6H74.64L74.64 366.36H75.06L75.06 366.51H75.49L75.49 365.01H75.91L75.91 365.29H76.33L76.33 366.7H76.76L76.76 365.02H77.18L77.18 364.96H77.6L77.6 366.61H78.03L78.03 366.72H78.45L78.45 367.51H78.87L78.87 364.89H79.3L79.3 365.82H79.72L79.72 376.5Z"/>
<path fill="#5282b1" fill-opacity="0.9" d="M71.6 360.09h0.8v0.8h-0.8zM77.62 362.26h0.8v0.8h-0.8zM74.83 361.05h0.8v0.8h-0.8zM71.42 362.92h0.8v0.8h-0.8zM73.17 362.21h0.8v0.8h-0.8zM73.97 362.21h0.8v0.8h-0.8zM78.13 362.89h0.8v0.8h-0.8zM72.13 363.76h0.8v0.8h-0.8zM77.66 362.72h0.8v0.8h-0.8zM74.64 363.73h0.8v0.8h-0.8zM72.04 363.78h0.8v0.8h-0.8zM78.12 363.7h0.8v0.8h-0.8zM73.72 362.7h0.8v0.8h-0.8zM75.65 363.36h0.8v0.8h-0.8zM76.2 362.07h0.8v0.8h-0.8zM78.8 363.61h0.8v0.8h-0.8z"/>
<path fill="#0024f0" fill-opacity="0.75" d="M80.3 376.5L80.3 364.26H80.72L80.72 364.41H81.14L81.14 365.33H81.56L81.56 365.97H81.98L81.98 361.42H82.4L82.4 363.24H82.82L82.82 363.22H83.24L83.24 364.37H83.66L83.66 365.19H84.08L84.08 363.08H84.5L84.5 363.62H84.92L84.92 365.76H85.33L85.33 364.22H85.75L85.75 362.14H86.17L86.17 363.88H86.59L86.59 362.9H87.01L87.01 363.19H87.43L87.43 365.58H87.85L87.85 363.54H88.27L88.27 376.5Z"/>
<path fill="#0024f0" d="M80.3 376.5L80.3 365.82H80.72L80.72 365.65H81.14L81.14 367.54H81.56L81.56 367.65H81.98L81.98 364.56H82.4L82.4 366.01H82.82L82.82 365.26H83.24L83.24 365.78H83.66L83.66 366.54H84.08L84.08 364.52H84.5L84.5 366.12H84.92L84.92 367.65H85.33L85.33 365.88H85.75L85.75 363.66H86.17L86.17 366.53H86.59L86.59 364.21H87.01L87.01 366.23H87.43L87.43 367.16H87.85L87.85 365.82H88.27L88.27 376.5Z"/>
<path fill="#0024f0" fill-opacity="0.9" d="M83.97 362.73h0.8v0.8h-0.8zM86.89 362.95h0.8v0.8h-0.8zM81.31 358.68h0.8v0.8h-0.8zM85.76 359.95h0.8v0.8h-0.8zM87.37 362.78h0.8v0.8h-0.8zM81.42 362.61h0.8v0.8h-0.8zM83.82 362.92h0.8v0.8h-0.8zM85.94 363.26h0.8v0.8h-0.8zM87.26 363.35h0.8v0.8h-0.8zM82.34 360.78h0.8v0.8h-0.8zM81.98 361.58h0.8v0.8h-0.8zM82.27 362.86h0.8v0.8h-0.8zM83.67 363.27h0.8v0.8h-0.8zM86.2 359h0.8v0.8h-0.8zM86.93 363.46h0.8v0.8h-0.8z"/>
<path fill="#5282b1" fill-opacity="0.75" d="M89.04 376.5L89.04 361.25H89.45L89.45 364.37H89.86L89.86 365.17H90.27L90.27 365.56H90.67L90.67 364.02H91.08L91.08 364.94H91.49L91.49 361.91H91.9L91.9 362.52H92.31L92.31 363.55H92.72L92.72 363.71H93.13L93.13 361.55H93.54L93.54 361.06H93.95L93.95 361.06H94.36L94.36 363.16H94.77L94.77 363.75H95.18L95.18 364.28H95.59L95.59 364.72H96L96 376.5Z"/>
<path fill="#5282b1" d="M89.04 376.5L89.04 365.82H89.45L89.45 365.66H89.86L89.86 366.61H90.27L90.27 366.91H90.67L90.67 365.82H91.08L91.08 366.79H91.49L91.49 364.24H91.9L91.9 365.64H92.31L92.31 366.04H92.72L92.72 365.35H93.13L93.13 363.47H93.54L93.54 362.33H93.95L93.95 364.37H94.36L94.36 365.95H94.77L94.77 366.45H95.18L95.18 366.43H95.59L95.59 366.84H96L96 376.5Z"/>
<path fill="#5282b1" fill-opacity="0.9" d="M92.48 363.05h0.8v0.8h-0.8zM92.52 358.78h0.8v0.8h-0.8zM90.53 360.73h0.8v0.8h-0.8zM90.61 361.13h0.8v0.8h-0.8zM90.78 361.71h0.8v0.8h-0.8zM93.82 363.17h0.8v0.8h-0.8zM94.22 361.98h0.8v0.8h-0.8zM90.54 362.61h0.8v0.8h-0.8zM92.45 360.96h0.8v0.8h-0.8zM90.13 363.11h0.8v0.8h-0.8zM90.46 361.54h0.8v0.8h-0.8zM91.52 360.81h0.8v0.8h-0.8zM93.52 362.46h0.8v0.8h-0.8z"/>
<path fill="#0024f0" fill-opacity="0.75" d="M96.72 376.5L96.72 364.45H97.11L97.11 362.02H97.5L97.5 363.42H97.89L97.89 364.03H98.27L98.27 359.6H98.66L98.66 363.89H99.05L99.05 376.5ZM100.09 376.5L100.09 364.12H100.5L100.5 361.44H100.91L100.91 361.41H101.32L101.32 365.17H101.73L101.73 363.48H102.14L102.14 362.56H102.55L102.55 362.86H102.96L102.96 362.15H103.37L103.37 364.27H103.78L103.78 376.5Z"/>
<path fill="#0024f0" d="M96.72 376.5L96.72 365.82H97.11L97.11 364.41H97.5L97.5 365.15H97.89L97.89 365.51H98.27L98.27 363.61H98.66L98.66 365.82H99.05L99.05 376.5ZM100.09 376.5L100.09 365.82H100.5L100.5 363.49H100.91L100.91 364.49H101.32L101.32 366.54H101.73L101.73 366.03H102.14L102.14 363.94H102.55L102.55 365.61H102.96L102.96 364.64H103.37L103.37 365.82H103.78L103.78 376.5Z"/>
<path fill="#0024f0" fill-opacity="0.9" d="M96.94 362.58h0.8v0.8h-0.8zM97.84 363h0.8v0.8h-0.8zM97.66 362.15h0.8v0.8h-0.8zM97.81 362.53h0.8v0.8h-0.8zM100.56 360.62h0.8v0.8h-0.8zM101.34 362.75h0.8v0.8h-0.8zM102.61 362.75h0.8v0.8h-0.8zM100.75 362.74h0.8v0.8h-0.8zM101.71 360.51h0.8v0.8h-0.8zM100.18 358.69h0.8v0.8h-0.8zM102.12 360.05h0.8v0.8h-0.8z"/>
<path fill="#5282b1" fill-opacity="0.75" d="M104.5 376.5L104.5 364.25H104.91L104.91 364.84H105.32L105.32 363.54H105.73L105.73 363.89H106.14L106.14 357.68H106.55L106.55 363.94H106.96L106.96 363.07H107.37L107.37 362.47H107.78L107.78 363.9H108.19L108.19 363.5H108.6L108.6 361.18H109.01L109.01 364.5H109.42L109.42 362.28H109.83L109.83 365.05H110.24L110.24 362.17H110.65L110.65 365.48H111.06L111.06 376.5Z"/>
<path fill="#5282b1" d="M104.5 376.5L104.5 365.82H104.91L104.91 366.22H105.32L105.32 365.06H105.73L105.73 365.37H106.14L106.14 361.09H106.55L106.55 365.53H106.96L106.96 364.63H107.37L107.37 364.16H107.78L107.78 366.04H108.19L108.19 364.76H108.6L108.6 363.37H109.01L109.01 367.3H109.42L109.42 364.45H109.83L109.83 366.45H110.24L110.24 365.79H110.65L110.65 366.72H111.06L111.06 376.5Z"/>
<path fill="#5282b1" fill-opacity="0.9" d="M106.95 362.48h0.8v0.8h-0.8zM108.95 363.34h0.8v0.8h-0.8zM104.64 361.64h0.8v0.8h-0.8zM105.6 360.59h0.8v0.8h-0.8zM107.76 363.54h0.8v0.8h-0.8zM107.5 361.31h0.8v0.8h-0.8zM105.79 358.56h0.8v0.8h-0.8zM104.82 363.52h0.8v0.8h-0.8zM107.92 361.9h0.8v0.8h-0.8zM107.97 359.48h0.8v0.8h-0.8zM105.66 363.71h0.8v0.8h-0.8zM107.59 363.06h0.8v0.8h-0.8z"/>
<path fill="#0024f0" fill-opacity="0.75" d="M111.64 376.5L111.64 363.91H112.06L112.06 362.26H112.48L112.48 362.62H112.89L112.89 362.51H113.31L113.31 358.46H113.73L113.73 361.92H114.15L114.15 357.36H114.57L114.57 363.73H114.99L114.99 363.16H115.4L115.4 364.22H115.82L115.82 365.55H116.24L116.24 364.1H116.66L116.66 365.08H117.08L117.08 361.04H117.5L117.5 363.77H117.91L117.91 363.39H118.33L118.33 376.5Z"/>
<path fill="#0024f0" d="M111.64 376.5L111.64 366.02H112.06L112.06 363.86H112.48L112.48 364.33H112.89L112.89 364.59H113.31L113.31 361.84H113.73L113.73 365.05H114.15L114.15 358.64H114.57L114.57 367.56H114.99L114.99 364.73H115.4L115.4 367.01H115.82L115.82 367.4H116.24L116.24 365.65H116.66L116.66 366.69H117.08L117.08 365.62H117.5L117.5 365.61H117.91L117.91 365.82H118.33L118.33 376.5Z"/>
<path fill="#0024f0" fill-opacity="0.9" d="M113.33 363.54h0.8v0.8h-0.8zM112.72 363.22h0.8v0.8h-0.8zM112.77 362.32h0.8v0.8h-0.8zM113.49 363.33h0.8v0.8h-0.8zM116.81 362.96h0.8v0.8h-0.8zM111.66 363.72h0.8v0.8h-0.8zM114.89 363.68h0.8v0.8h-0.8zM114.92 363.69h0.8v0.8h-0.8zM114.41 362.12h0.8v0.8h-0.8zM114.82 363.33h0.8v0.8h-0.8zM116.58 357.71h0.8v0.8h-0.8zM116.44 359.23h0.8v0.8h-0.8z"/>
<path fill="#5282b1" fill-opacity="0.75" d="M119.05 376.5L119.05 364.41H119.47L119.47 359.85H119.9L119.9 361.8H120.32L120.32 361.3H120.74L120.74 359.64H121.16L121.16 363.13H121.58L121.58 364.13H122L122 361.92H122.42L122.42 363.01H122.84L122.84 363.54H123.27L123.27 364.06H123.69L123.69 363.37H124.11L124.11 363.67H124.53L124.53 364.34H124.95L124.95 363.11H125.37L125.37 361.32H125.79L125.79 376.5Z"/>
<path fill="#5282b1" d="M119.05 376.5L119.05 365.82H119.47L119.47 364.42H119.9L119.9 365.26H120.32L120.32 364.47H120.74L120.74 364.21H121.16L121.16 365.75H121.58L121.58 366.7H122L122 363.34H122.42L122.42 364.81H122.84L122.84 365.31H123.27L123.27 366.05H123.69L123.69 364.94H124.11L124.11 365.02H124.53L124.53 366.16H124.95L124.95 364.66H125.37L125.37 365.89H125.79L125.79 376.5Z"/>
<path fill="#5282b1" fill-opacity="0.9" d="M119.76 362.61h0.8v0.8h-0.8zM124.58 363.01h0.8v0.8h-0.8zM121.49 362.15h0.8v0.8h-0.8zM123.09 360.54h0.8v0.8h-0.8zM124.84 362.45h0.8v0.8h-0.8zM119.56 362.69h0.8v0.8h-0.8zM119.08 362.57h0.8v0.8h-0.8zM122.74 359.33h0.8v0.8h-0.8zM119.64 362.57h0.8v0.8h-0.8zM124.33 361.61h0.8v0.8h-0.8zM121.43 362.97h0.8v0.8h-0.8zM119.39 362.69h0.8v0.8h-0.8z"/>
<path fill="#0024f0" fill-opacity="0.75" d="M126.97 376.5L126.97 364.04H127.41L127.41 365.36H127.85L127.85 361.25H128.28L128.28 364.76H128.72L128.72 361.99H129.16L129.16 362.53H129.6L129.6 363.75H130.04L130.04 364.04H130.48L130.48 363.76H130.92L130.92 363.22H131.36L131.36 364.56H131.8L131.8 376.5Z"/>
<path fill="#0024f0" d="M126.97 376.5L126.97 365.82H127.41L127.41 367.19H127.85L127.85 365.3H128.28L128.28 366.68H128.72L128.72 366.57H129.16L129.16 365.54H129.6L129.6 365.57H130.04L130.04 366.17H130.48L130.48 365.21H130.92L130.92 365.64H131.36L131.36 365.82H131.8L131.8 376.5Z"/>
<path fill="#0024f0" fill-opacity="0.9" d="M127.18 362.35h0.8v0.8h-0.8zM130.69 361.48h0.8v0.8h-0.8zM128.76 363.03h0.8v0.8h-0.8zM127.5 361.79h0.8v0.8h-0.8zM130.05 362.7h0.8v0.8h-0.8zM127.31 362.99h0.8v0.8h-0.8zM129.82 361.06h0.8v0.8h-0.8zM128.58 359.88h0.8v0.8h-0.8zM128.54 363.5h0.8v0.8h-0.8z"/>
<path fill="#5282b1" fill-opacity="0.75" d="M133.15 376.5L133.15 364.07H133.55L133.55 362.96H133.96L133.96 360.68H134.36L134.36 364.35H134.76L134.76 362.79H135.16L135.16 362.14H135.56L135.56 362.65H135.96L135.96 362.58H136.37L136.37 363.44H136.77L136.77 358.92H137.17L137.17 362.06H137.57L137.57 376.5Z"/>
<path fill="#5282b1" d="M133.15 376.5L133.15 365.82H133.55L133.55 364.99H133.96L133.96 364.78H134.36L134.36 366.73H134.76L134.76 364.58H135.16L135.16 364.53H135.56L135.56 364.03H135.96L135.96 365.52H136.37L136.37 365.08H136.77L136.77 363.5H137.17L137.17 365.82H137.57L137.57 376.5Z"/>
<path fill="#5282b1" fill-opacity="0.9" d="M134.71 359.01h0.8v0.8h-0.8zM136.04 362.67h0.8v0.8h-0.8zM134.45 361.26h0.8v0.8h-0.8zM133.75 362.73h0.8v0.8h-0.8zM133.85 363.04h0.8v0.8h-0.8zM136.12 362.05h0.8v0.8h-0.8zM135.85 361.28h0.8v0.8h-0.8z"/>
<path fill="#0024f0" fill-opacity="0.75" d="M138.88 376.5L138.88 364.13H139.29L139.29 359.11H139.69L139.69 361.52H140.1L140.1 363.91H140.51L140.51 362.97H140.91L140.91 363.79H141.32L141.32 362.94H141.72L141.72 364.13H142.13L142.13 363.72H142.53L142.53 364.51H142.94L142.94 376.5Z"/>
<path fill="#0024f0" d="M138.88 376.5L138.88 365.82H139.29L139.29 361.96H139.69L139.69 364.65H140.1L140.1 366.08H140.51L140.51 365.37H140.91L140.91 365.46H141.32L141.32 364.77H141.72L141.72 367.11H142.13L142.13 365.59H142.53L142.53 365.82H142.94L142.94 376.5Z"/>
<path fill="#0024f0" fill-opacity="0.9" d="M141.27 363.16h0.8v0.8h-0.8zM140.11 363.32h0.8v0.8h-0.8zM141.52 362.14h0.8v0.8h-0.8zM139.86 361.59h0.8v0.8h-0.8zM139.49 361.14h0.8v0.8h-0.8zM140.85 361.42h0.8v0.8h-0.8z"/>
<path fill="#5282b1" fill-opacity="0.75" d="M143.57 376.5L143.57 365.1H144.02L144.02 364.96H144.48L144.48 363.83H144.94L144.94 364.62H145.39L145.39 376.5ZM145.75 376.5L145.75 363.64H146.21L146.21 361.46H146.66L146.66 364.08H147.12L147.12 362.3H147.58L147.58 376.5Z"/>
<path fill="#5282b1" d="M143.57 376.5L143.57 366.71H144.02L144.02 367.42H144.48L144.48 366.17H144.94L144.94 366.18H145.39L145.39 376.5ZM145.75 376.5L145.75 365.82H146.21L146.21 366.03H146.66L146.66 366.34H147.12L147.12 365.82H147.58L147.58 376.5Z"/>
<path fill="#5282b1" fill-opacity="0.9" d="M143.61 361.04h0.8v0.8h-0.8zM144.01 362.74h0.8v0.8h-0.8zM143.62 362.43h0.8v0.8h-0.8zM146.23 360.86h0.8v0.8h-0.8zM145.97 362.51h0.8v0.8h-0.8zM145.99 360.86h0.8v0.8h-0.8z"/>
<path fill="#0024f0" fill-opacity="0.75" d="M148.21 376.5L148.21 364.21H148.61L148.61 359.98H149.02L149.02 363.14H149.42L149.42 363.52H149.83L149.83 363.79H150.23L150.23 362.89H150.64L150.64 363.2H151.05L151.05 361.12H151.45L151.45 364.34H151.86L151.86 364.11H152.26L152.26 376.5Z"/>
<path fill="#0024f0" d="M148.21 376.5L148.21 365.82H148.61L148.61 364.55H149.02L149.02 365.72H149.42L149.42 365.43H149.83L149.83 365.21H150.23L150.23 365.74H150.64L150.64 365.46H151.05L151.05 364.96H151.45L151.45 365.98H151.86L151.86 365.95H152.26L152.26 376.5Z"/>
<path fill="#0024f0" fill-opacity="0.9" d="M150.04 362.79h0.8v0.8h-0.8zM149.74 362.41h0.8v0.8h-0.8zM148.75 361.75h0.8v0.8h-0.8zM150.49 361.75h0.8v0.8h-0.8zM149.83 361.14h0.8v0.8h-0.8zM148.9 362.98h0.8v0.8h-0.8z"/>
<path fill="#5282b1" fill-opacity="0.75" d="M152.85 376.5L152.85 364.62H153.28L153.28 362.74H153.72L153.72 364.18H154.16L154.16 362.22H154.6L154.6 360.48H155.04L155.04 359.01H155.48L155.48 366.03H155.92L155.92 364.2H156.36L156.36 376.5Z"/>
<path fill="#5282b1" d="M152.85 376.5L152.85 366.13H153.28L153.28 364.85H153.72L153.72 366.21H154.16L154.16 363.76H154.6L154.6 361.91H155.04L155.04 361H155.48L155.48 367.52H155.92L155.92 365.82H156.36L156.36 376.5Z"/>
<path fill="#5282b1" fill-opacity="0.9" d="M153.46 362.4h0.8v0.8h-0.8zM153.59 362.66h0.8v0.8h-0.8zM155.21 362.21h0.8v0.8h-0.8zM154.36 360.21h0.8v0.8h-0.8zM154.68 362.72h0.8v0.8h-0.8zM155.43 358.5h0.8v0.8h-0.8z"/>
<path fill="#0024f0" fill-opacity="0.75" d="M156.85 376.5L156.85 363.33H157.25L157.25 364.5H157.66L157.66 364.28H158.06L158.06 364.23H158.46L158.46 363.6H158.87L158.87 364.64H159.27L159.27 364.6H159.68L159.68 376.5Z"/>
<path fill="#0024f0" d="M156.85 376.5L156.85 365.82H157.25L157.25 367.65H157.66L157.66 365.5H158.06L158.06 366.07H158.46L158.46 365.09H158.87L158.87 365.88H159.27L159.27 366.19H159.68L159.68 376.5Z"/>
<path fill="#0024f0" fill-opacity="0.9" d="M157.76 360.14h0.8v0.8h-0.8zM158.49 362.97h0.8v0.8h-0.8zM158.2 363.74h0.8v0.8h-0.8zM156.98 363.01h0.8v0.8h-0.8zM158.13 363.54h0.8v0.8h-0.8z"/>
<path fill="#5282b1" fill-opacity="0.75" d="M160.17 376.5L160.17 364.25H160.6L160.6 363.29H161.03L161.03 361.64H161.46L161.46 362.14H161.89L161.89 362.04H162.32L162.32 360.84H162.75L162.75 361.25H163.18L163.18 376.5Z"/>
<path fill="#5282b1" d="M160.17 376.5L160.17 365.82H160.6L160.6 365.28H161.03L161.03 362.86H161.46L161.46 363.59H161.89L161.89 364.87H162.32L162.32 362.91H162.75L162.75 365.82H163.18L163.18 376.5Z"/>
<path fill="#5282b1" fill-opacity="0.9" d="M160.29 360.31h0.8v0.8h-0.8zM160.88 361.09h0.8v0.8h-0.8zM160.76 360.49h0.8v0.8h-0.8zM161.26 362h0.8v0.8h-0.8zM161.16 362.61h0.8v0.8h-0.8z"/>
<path fill="#0024f0" fill-opacity="0.75" d="M164.13 376.5L164.13 364.57H164.58L164.58 362.24H165.04L165.04 361.55H165.5L165.5 364.46H165.95L165.95 376.5Z"/>
<path fill="#0024f0" d="M164.13 376.5L164.13 365.82H164.58L164.58 364.07H165.04L165.04 364.25H165.5L165.5 365.82H165.95L165.95 376.5Z"/>
<path fill="#0024f0" fill-opacity="0.9" d="M164.55 362.01h0.8v0.8h-0.8zM164.17 360.76h0.8v0.8h-0.8zM164.23 361.81h0.8v0.8h-0.8z"/>
<path fill="#5282b1" fill-opacity="0.75" d="M166.72 376.5L166.72 363.61H167.11L167.11 365.2H167.5L167.5 365.5H167.9L167.9 364.8H168.29L168.29 364.33H168.68L168.68 376.5Z"/>
<path fill="#5282b1" d="M166.72 376.5L166.72 365.82H167.11L167.11 366.68H167.5L167.5 367H167.9L167.9 366.62H168.29L168.29 365.82H168.68L168.68 376.5Z"/>
<path fill="#5282b1" fill-opacity="0.9" d="M167.66 363.89h0.8v0.8h-0.8zM167.78 360.7h0.8v0.8h-0.8zM166.75 363.73h0.8v0.8h-0.8z"/>
<path fill="#0024f0" fill-opacity="0.62" d="M14.92 339.56h1.3v1.3h-1.3zM14.9 348.4h1.3v1.3h-1.3zM14.77 351.45h1.3v1.3h-1.3zM14.9 352.98h1.3v1.3h-1.3zM17.71 349.62h1.3v1.3h-1.3zM18.22 354.5h1.3v1.3h-1.3zM18.33 356.03h1.3v1.3h-1.3zM18.26 357.55h1.3v1.3h-1.3zM18.19 359.08h1.3v1.3h-1.3zM21.46 353.89h1.3v1.3h-1.3zM21.42 356.03h1.3v1.3h-1.3zM41.06 354.5h1.3v1.3h-1.3zM40.99 356.03h1.3v1.3h-1.3zM40.96 357.55h1.3v1.3h-1.3zM41.03 358.77h1.3v1.3h-1.3zM49.04 354.5h1.3v1.3h-1.3zM48.84 356.03h1.3v1.3h-1.3zM48.87 357.55h1.3v1.3h-1.3zM66.06 356.94h1.3v1.3h-1.3zM66.06 358.16h1.3v1.3h-1.3zM80.59 357.55h1.3v1.3h-1.3zM87.37 356.33h1.3v1.3h-1.3zM87.22 358.16h1.3v1.3h-1.3zM101.24 353.89h1.3v1.3h-1.3zM101.09 356.33h1.3v1.3h-1.3zM111.18 350.84h1.3v1.3h-1.3zM110.97 351.75h1.3v1.3h-1.3zM111.16 356.94h1.3v1.3h-1.3zM140.42 353.89h1.3v1.3h-1.3zM149 347.79h1.3v1.3h-1.3zM148.81 350.84h1.3v1.3h-1.3zM148.96 354.5h1.3v1.3h-1.3zM148.93 356.33h1.3v1.3h-1.3zM148.99 358.16h1.3v1.3h-1.3zM158.72 358.77h1.3v1.3h-1.3z"/>
<path fill="#5282b1" fill-opacity="0.62" d="M28.32 348.4h1.3v1.3h-1.3zM28.36 350.23h1.3v1.3h-1.3zM50.66 352.98h1.3v1.3h-1.3zM50.78 354.5h1.3v1.3h-1.3zM50.78 355.72h1.3v1.3h-1.3zM50.82 318.21h1.3v1.3h-1.3zM50.97 331.32h1.3v1.3h-1.3zM50.85 333.46h1.3v1.3h-1.3zM50.87 338.64h1.3v1.3h-1.3zM50.85 345.05h1.3v1.3h-1.3zM50.94 353.28h1.3v1.3h-1.3zM72.73 354.81h1.3v1.3h-1.3zM119.16 358.77h1.3v1.3h-1.3zM122.8 356.64h1.3v1.3h-1.3zM134.55 351.75h1.3v1.3h-1.3zM134.62 352.98h1.3v1.3h-1.3zM134.68 353.89h1.3v1.3h-1.3zM134.63 357.55h1.3v1.3h-1.3zM143.54 355.42h1.3v1.3h-1.3zM152.32 358.16h1.3v1.3h-1.3z"/>
</g>
<path d="M14.2 354.4H169" stroke="#f3a3a0" stroke-width="0.55" stroke-dasharray="0.9 0.5" fill="none"/>
<g filter="url(#n)">
<path d="M13.8 319.5V377.2M13.1 376.5h0.7M13.1 370.4h0.7M13.1 364.3h0.7M13.1 358.2h0.7M13.1 352.1h0.7M13.1 346h0.7M13.1 339.9h0.7M13.1 333.8h0.7M13.1 327.7h0.7M13.1 321.6h0.7M13.8 376.65H168.7M13.8 376.5v0.7M38.18 376.5v0.7M62.56 376.5v0.7M86.93 376.5v0.7M111.31 376.5v0.7M135.69 376.5v0.7M160.07 376.5v0.7" stroke="#555" stroke-width="0.3" fill="none"/>
<g font-family='"Liberation Sans", sans-serif' font-size="2.3" fill="#111" text-anchor="end"><text x="12.6" y="377.33">0</text><text x="12.6" y="371.23">2</text><text x="12.6" y="365.13">4</text><text x="12.6" y="359.03">6</text><text x="12.6" y="352.93">8</text><text x="12.6" y="346.83">10</text><text x="12.6" y="340.73">12</text><text x="12.6" y="334.63">14</text><text x="12.6" y="328.53">16</text><text x="12.6" y="322.43">18</text></g>
<g font-family='"Liberation Sans", sans-serif' font-size="2.5" fill="#111" text-anchor="middle"><text x="20.66" y="380.8">1</text><text x="33.8" y="380.8">2</text><text x="45.72" y="380.8">3</text><text x="56.13" y="380.8">4</text><text x="66.28" y="380.8">5</text><text x="75.6" y="380.8">6</text><text x="84.56" y="380.8">7</text><text x="92.84" y="380.8">8</text><text x="100.34" y="380.8">9</text><text x="107.89" y="380.8">10</text><text x="115.26" y="380.8">11</text><text x="122.45" y="380.8">12</text><text x="129.27" y="380.8">13</text><text x="135.86" y="380.8">14</text><text x="140.5" y="380.8">15</text><text x="145.87" y="380.8">16</text><text x="150.28" y="380.8">17</text><text x="154.6" y="380.8">18</text><text x="158.33" y="380.8">19</text><text x="161.51" y="380.8">20</text><text x="164.52" y="380.8">21</text><text x="167.29" y="380.8">22</text></g>
<text x="91.45" y="383.7" font-family='"Liberation Sans", sans-serif' font-size="2.5" fill="#111" text-anchor="middle" letter-spacing="0.08">Chromosome</text>
<text transform="translate(6.8 349.05) rotate(-90)" font-family='"Liberation Sans", sans-serif' font-size="2.5" fill="#111" text-anchor="middle" letter-spacing="0.12">-log10 P-value</text>
</g>
<g filter="url(#b)">
<path fill="#0024f0" fill-opacity="0.75" d="M184.44 377.1L184.44 364.04H184.85L184.85 361.25H185.27L185.27 361.68H185.68L185.68 356.8H186.1L186.1 361.6H186.51L186.51 362.9H186.93L186.93 362.68H187.34L187.34 362.9H187.76L187.76 361.31H188.18L188.18 361.89H188.59L188.59 363.37H189.01L189.01 360.75H189.42L189.42 362.43H189.84L189.84 363.14H190.25L190.25 363H190.67L190.67 377.1ZM191.3 377.1L191.3 363.64H191.73L191.73 364.48H192.16L192.16 362.92H192.58L192.58 363.92H193.01L193.01 361.21H193.44L193.44 361.01H193.86L193.86 361.89H194.29L194.29 361.3H194.72L194.72 363.33H195.14L195.14 359.08H195.57L195.57 361.49H196L196 363.57H196.42L196.42 364.37H196.85L196.85 377.1Z"/>
<path fill="#0024f0" d="M184.44 377.1L184.44 366.16H184.85L184.85 362.91H185.27L185.27 364.88H185.68L185.68 361.81H186.1L186.1 363.32H186.51L186.51 364.89H186.93L186.93 364.52H187.34L187.34 365.06H187.76L187.76 363.69H188.18L188.18 363.23H188.59L188.59 364.85H189.01L189.01 364.01H189.42L189.42 365.76H189.84L189.84 364.66H190.25L190.25 365.58H190.67L190.67 377.1ZM191.3 377.1L191.3 365.58H191.73L191.73 365.89H192.16L192.16 365.36H192.58L192.58 366.43H193.01L193.01 364.74H193.44L193.44 364.5H193.86L193.86 364.83H194.29L194.29 362.89H194.72L194.72 364.69H195.14L195.14 364.09H195.57L195.57 365.62H196L196 365.74H196.42L196.42 365.93H196.85L196.85 377.1Z"/>
<path fill="#0024f0" fill-opacity="0.9" d="M188.42 361.82h0.8v0.8h-0.8zM184.73 361.44h0.8v0.8h-0.8zM189.4 361.07h0.8v0.8h-0.8zM187.8 359.87h0.8v0.8h-0.8zM187.9 357.08h0.8v0.8h-0.8zM189.62 360.08h0.8v0.8h-0.8zM188.82 362.26h0.8v0.8h-0.8zM185.87 360.26h0.8v0.8h-0.8zM187.59 358.9h0.8v0.8h-0.8zM188.64 361.8h0.8v0.8h-0.8zM185.37 360.57h0.8v0.8h-0.8zM195.57 359.96h0.8v0.8h-0.8zM193.4 359.08h0.8v0.8h-0.8zM192.66 361.63h0.8v0.8h-0.8zM194.04 356.11h0.8v0.8h-0.8zM192.45 359.09h0.8v0.8h-0.8zM194.42 357.9h0.8v0.8h-0.8zM192.73 360.54h0.8v0.8h-0.8zM195.52 358.58h0.8v0.8h-0.8zM194.62 359.18h0.8v0.8h-0.8zM194.31 361.06h0.8v0.8h-0.8z"/>
<path fill="#5282b1" fill-opacity="0.75" d="M197.66 377.1L197.66 363.92H198.08L198.08 363.18H198.5L198.5 358.93H198.91L198.91 363.47H199.33L199.33 363.44H199.74L199.74 361.86H200.16L200.16 361.86H200.57L200.57 363.38H200.99L200.99 362.8H201.4L201.4 363.39H201.82L201.82 363.39H202.23L202.23 360.59H202.65L202.65 358.91H203.06L203.06 362.45H203.48L203.48 364.69H203.89L203.89 363.57H204.31L204.31 354.94H204.73L204.73 359.65H205.14L205.14 362.54H205.56L205.56 362.34H205.97L205.97 361.09H206.39L206.39 361.18H206.8L206.8 360.31H207.22L207.22 361.29H207.63L207.63 364.54H208.05L208.05 362.95H208.46L208.46 360.28H208.88L208.88 359.13H209.29L209.29 362.02H209.71L209.71 362.91H210.12L210.12 377.1Z"/>
<path fill="#5282b1" d="M197.66 377.1L197.66 365.58H198.08L198.08 364.77H198.5L198.5 360.64H198.91L198.91 365.15H199.33L199.33 364.81H199.74L199.74 364.79H200.16L200.16 363.46H200.57L200.57 364.8H200.99L200.99 364.36H201.4L201.4 365.11H201.82L201.82 365.81H202.23L202.23 362.81H202.65L202.65 363.92H203.06L203.06 363.82H203.48L203.48 366.06H203.89L203.89 365.18H204.31L204.31 357.68H204.73L204.73 362.17H205.14L205.14 363.89H205.56L205.56 363.85H205.97L205.97 365.29H206.39L206.39 364.36H206.8L206.8 362.8H207.22L207.22 363.26H207.63L207.63 366.15H208.05L208.05 366.21H208.46L208.46 362.69H208.88L208.88 361.81H209.29L209.29 363.41H209.71L209.71 365.58H210.12L210.12 377.1Z"/>
<path fill="#5282b1" fill-opacity="0.9" d="M207.73 360.82h0.8v0.8h-0.8zM206.74 359.49h0.8v0.8h-0.8zM204.61 361.44h0.8v0.8h-0.8zM199.55 362.34h0.8v0.8h-0.8zM198.67 362.62h0.8v0.8h-0.8zM202.23 362.2h0.8v0.8h-0.8zM204.23 359.6h0.8v0.8h-0.8zM200.8 358.7h0.8v0.8h-0.8zM207.39 362.44h0.8v0.8h-0.8zM204.54 362.43h0.8v0.8h-0.8zM198.42 362.38h0.8v0.8h-0.8zM200.05 362.82h0.8v0.8h-0.8zM197.96 359.81h0.8v0.8h-0.8zM207.75 359.17h0.8v0.8h-0.8zM198.52 362.79h0.8v0.8h-0.8zM207.66 361.97h0.8v0.8h-0.8zM201.69 360.62h0.8v0.8h-0.8zM203.85 362.1h0.8v0.8h-0.8zM199.41 362.61h0.8v0.8h-0.8zM205.97 358.5h0.8v0.8h-0.8zM198.11 362.37h0.8v0.8h-0.8zM203.78 362.26h0.8v0.8h-0.8zM203.37 361.55h0.8v0.8h-0.8z"/>
<path fill="#0024f0" fill-opacity="0.75" d="M210.99 377.1L210.99 362.3H211.41L211.41 362.96H211.84L211.84 363.32H212.27L212.27 364.01H212.7L212.7 363.36H213.13L213.13 359.72H213.55L213.55 357.41H213.98L213.98 359.45H214.41L214.41 363.46H214.84L214.84 362.67H215.27L215.27 364.38H215.7L215.7 361.07H216.12L216.12 362.03H216.55L216.55 364.7H216.98L216.98 361.35H217.41L217.41 361.78H217.84L217.84 361.86H218.27L218.27 363.56H218.69L218.69 363.39H219.12L219.12 362.54H219.55L219.55 363.38H219.98L219.98 363.32H220.41L220.41 362.88H220.84L220.84 377.1Z"/>
<path fill="#0024f0" d="M210.99 377.1L210.99 365.58H211.41L211.41 366.07H211.84L211.84 365.36H212.27L212.27 366.19H212.7L212.7 365.02H213.13L213.13 362.93H213.55L213.55 359.38H213.98L213.98 364.46H214.41L214.41 365.44H214.84L214.84 364.35H215.27L215.27 366.14H215.7L215.7 363.83H216.12L216.12 365.46H216.55L216.55 366.25H216.98L216.98 363.28H217.41L217.41 366.23H217.84L217.84 363.32H218.27L218.27 364.96H218.69L218.69 364.99H219.12L219.12 364.27H219.55L219.55 365.57H219.98L219.98 364.86H220.41L220.41 365.58H220.84L220.84 377.1Z"/>
<path fill="#0024f0" fill-opacity="0.9" d="M216.77 361.7h0.8v0.8h-0.8zM212.76 358.52h0.8v0.8h-0.8zM215.81 361.9h0.8v0.8h-0.8zM213.35 362.15h0.8v0.8h-0.8zM219.86 362.07h0.8v0.8h-0.8zM218.26 362.78h0.8v0.8h-0.8zM216.41 362.44h0.8v0.8h-0.8zM213.1 362.36h0.8v0.8h-0.8zM214.57 361.13h0.8v0.8h-0.8zM214.67 359.4h0.8v0.8h-0.8zM212.39 359.47h0.8v0.8h-0.8zM214.94 360.13h0.8v0.8h-0.8zM214.56 362.48h0.8v0.8h-0.8zM219.08 361.16h0.8v0.8h-0.8zM217.52 361.67h0.8v0.8h-0.8zM217.42 357.26h0.8v0.8h-0.8zM217.69 356.65h0.8v0.8h-0.8zM214.15 362.37h0.8v0.8h-0.8z"/>
<path fill="#5282b1" fill-opacity="0.75" d="M221.7 377.1L221.7 360.8H222.12L222.12 361.37H222.53L222.53 361.15H222.95L222.95 361.76H223.37L223.37 363.51H223.79L223.79 361.84H224.21L224.21 360.77H224.63L224.63 360.36H225.04L225.04 362.57H225.46L225.46 362.1H225.88L225.88 362.48H226.3L226.3 359.64H226.72L226.72 361.27H227.14L227.14 362.77H227.55L227.55 359.28H227.97L227.97 360.51H228.39L228.39 362.09H228.81L228.81 361.92H229.23L229.23 360.88H229.65L229.65 361.98H230.06L230.06 361.85H230.48L230.48 362.11H230.9L230.9 363.77H231.32L231.32 377.1Z"/>
<path fill="#5282b1" d="M221.7 377.1L221.7 365.58H222.12L222.12 363.34H222.53L222.53 363.32H222.95L222.95 364.33H223.37L223.37 364.87H223.79L223.79 363.65H224.21L224.21 362.84H224.63L224.63 363.14H225.04L225.04 364.36H225.46L225.46 364.12H225.88L225.88 363.88H226.3L226.3 363.69H226.72L226.72 366.21H227.14L227.14 365.94H227.55L227.55 363.72H227.97L227.97 362.12H228.39L228.39 363.69H228.81L228.81 363.88H229.23L229.23 362.85H229.65L229.65 364.63H230.06L230.06 364.3H230.48L230.48 363.9H230.9L230.9 365.58H231.32L231.32 377.1Z"/>
<path fill="#5282b1" fill-opacity="0.9" d="M222.6 360.68h0.8v0.8h-0.8zM223.46 361.13h0.8v0.8h-0.8zM227.81 361.18h0.8v0.8h-0.8zM228.23 359.66h0.8v0.8h-0.8zM225.65 362h0.8v0.8h-0.8zM222.07 360.27h0.8v0.8h-0.8zM224.94 361.81h0.8v0.8h-0.8zM222.43 362.08h0.8v0.8h-0.8zM229.56 361.27h0.8v0.8h-0.8zM229.17 359.02h0.8v0.8h-0.8zM223.89 361.97h0.8v0.8h-0.8zM229.52 361.95h0.8v0.8h-0.8zM226.98 357.38h0.8v0.8h-0.8zM225.81 361.43h0.8v0.8h-0.8zM230.14 358.79h0.8v0.8h-0.8zM229.87 360.19h0.8v0.8h-0.8zM223.67 362.35h0.8v0.8h-0.8zM221.89 357.73h0.8v0.8h-0.8z"/>
<path fill="#0024f0" fill-opacity="0.75" d="M232.09 377.1L232.09 364.44H232.5L232.5 360.63H232.91L232.91 362.06H233.32L233.32 360.3H233.74L233.74 361.75H234.15L234.15 365.48H234.56L234.56 365.39H234.97L234.97 365.71H235.39L235.39 365.9H235.8L235.8 363.68H236.21L236.21 361.18H236.62L236.62 363.61H237.04L237.04 364.55H237.45L237.45 364.9H237.86L237.86 361.84H238.27L238.27 364.9H238.69L238.69 360.92H239.1L239.1 364.94H239.51L239.51 363.47H239.92L239.92 361.93H240.34L240.34 364.3H240.75L240.75 366.19H241.16L241.16 377.1Z"/>
<path fill="#0024f0" d="M232.09 377.1L232.09 366.15H232.5L232.5 365.25H232.91L232.91 365.3H233.32L233.32 364.81H233.74L233.74 366H234.15L234.15 367.49H234.56L234.56 367.58H234.97L234.97 367.58H235.39L235.39 367.56H235.8L235.8 366.47H236.21L236.21 364.26H236.62L236.62 366.06H237.04L237.04 366.2H237.45L237.45 367.17H237.86L237.86 365.5H238.27L238.27 366.36H238.69L238.69 365.15H239.1L239.1 366.46H239.51L239.51 365.03H239.92L239.92 364.34H240.34L240.34 365.66H240.75L240.75 367.58H241.16L241.16 377.1Z"/>
<path fill="#0024f0" fill-opacity="0.9" d="M232.37 360.98h0.8v0.8h-0.8zM233.62 362.8h0.8v0.8h-0.8zM237.48 361.74h0.8v0.8h-0.8zM234.47 361.7h0.8v0.8h-0.8zM239.65 362.65h0.8v0.8h-0.8zM235.37 361.68h0.8v0.8h-0.8zM239.31 361.67h0.8v0.8h-0.8zM239.76 361.01h0.8v0.8h-0.8zM240 363.28h0.8v0.8h-0.8zM237.66 363.37h0.8v0.8h-0.8zM233.06 363.04h0.8v0.8h-0.8zM239.91 363.17h0.8v0.8h-0.8zM234.64 359h0.8v0.8h-0.8zM240.21 361.2h0.8v0.8h-0.8zM235 360.62h0.8v0.8h-0.8zM232.63 363.79h0.8v0.8h-0.8zM232.61 363.06h0.8v0.8h-0.8z"/>
<path fill="#5282b1" fill-opacity="0.75" d="M242.02 377.1L242.02 363.7H242.45L242.45 360.11H242.87L242.87 360.09H243.3L243.3 361.12H243.73L243.73 361.48H244.15L244.15 361.23H244.58L244.58 362.79H245L245 360.78H245.43L245.43 363.42H245.86L245.86 360.11H246.28L246.28 364.66H246.71L246.71 361.51H247.14L247.14 362.24H247.56L247.56 357.21H247.99L247.99 361.65H248.41L248.41 361.97H248.84L248.84 364.36H249.27L249.27 363.03H249.69L249.69 362.4H250.12L250.12 363.58H250.54L250.54 377.1Z"/>
<path fill="#5282b1" d="M242.02 377.1L242.02 365.58H242.45L242.45 364.97H242.87L242.87 363.52H243.3L243.3 364.03H243.73L243.73 364.66H244.15L244.15 364.4H244.58L244.58 364.34H245L245 363.03H245.43L245.43 364.85H245.86L245.86 365.12H246.28L246.28 366.26H246.71L246.71 363.34H247.14L247.14 363.78H247.56L247.56 362.22H247.99L247.99 364.02H248.41L248.41 364.71H248.84L248.84 365.93H249.27L249.27 364.55H249.69L249.69 364.26H250.12L250.12 365.58H250.54L250.54 377.1Z"/>
<path fill="#5282b1" fill-opacity="0.9" d="M246.49 361.99h0.8v0.8h-0.8zM244.98 362.4h0.8v0.8h-0.8zM242.06 362.42h0.8v0.8h-0.8zM247.6 360.02h0.8v0.8h-0.8zM247.32 361.89h0.8v0.8h-0.8zM245.2 362.58h0.8v0.8h-0.8zM246.56 362.01h0.8v0.8h-0.8zM246.15 361.72h0.8v0.8h-0.8zM244.29 361.97h0.8v0.8h-0.8zM245.34 358.76h0.8v0.8h-0.8zM248.9 362.34h0.8v0.8h-0.8zM245.54 362.5h0.8v0.8h-0.8zM249.38 362.69h0.8v0.8h-0.8zM245.74 362.94h0.8v0.8h-0.8zM245.58 361.83h0.8v0.8h-0.8z"/>
<path fill="#0024f0" fill-opacity="0.75" d="M251.13 377.1L251.13 364.18H251.55L251.55 360.8H251.97L251.97 361.83H252.4L252.4 363.46H252.82L252.82 361.25H253.24L253.24 363.25H253.66L253.66 362.92H254.09L254.09 361.36H254.51L254.51 363.22H254.93L254.93 361.87H255.35L255.35 360.82H255.77L255.77 359.89H256.2L256.2 363.39H256.62L256.62 362.02H257.04L257.04 363.7H257.46L257.46 363.81H257.88L257.88 359.69H258.31L258.31 362.02H258.73L258.73 364.12H259.15L259.15 377.1Z"/>
<path fill="#0024f0" d="M251.13 377.1L251.13 365.58H251.55L251.55 362.43H251.97L251.97 364.35H252.4L252.4 366.06H252.82L252.82 363.37H253.24L253.24 365.1H253.66L253.66 364.28H254.09L254.09 362.85H254.51L254.51 364.93H254.93L254.93 364.64H255.35L255.35 365.72H255.77L255.77 364.9H256.2L256.2 365.44H256.62L256.62 365.83H257.04L257.04 365.48H257.46L257.46 365.56H257.88L257.88 364.7H258.31L258.31 363.38H258.73L258.73 365.58H259.15L259.15 377.1Z"/>
<path fill="#0024f0" fill-opacity="0.9" d="M255.72 361.34h0.8v0.8h-0.8zM252.03 357.77h0.8v0.8h-0.8zM255.27 361.01h0.8v0.8h-0.8zM253.03 362.47h0.8v0.8h-0.8zM253.48 362.71h0.8v0.8h-0.8zM252.58 361.52h0.8v0.8h-0.8zM253.95 360.15h0.8v0.8h-0.8zM252.15 362.35h0.8v0.8h-0.8zM254.91 360.64h0.8v0.8h-0.8zM253.4 362.35h0.8v0.8h-0.8zM252.03 361.95h0.8v0.8h-0.8zM253.87 359.85h0.8v0.8h-0.8zM252.86 362.01h0.8v0.8h-0.8zM256.51 362.35h0.8v0.8h-0.8zM251.41 356.19h0.8v0.8h-0.8z"/>
<path fill="#5282b1" fill-opacity="0.75" d="M259.92 377.1L259.92 361.71H260.33L260.33 361.5H260.74L260.74 353.81H261.16L261.16 363.11H261.57L261.57 361.83H261.98L261.98 361.74H262.39L262.39 363.52H262.81L262.81 362.63H263.22L263.22 359.76H263.63L263.63 361.74H264.04L264.04 362.51H264.46L264.46 364.08H264.87L264.87 362.27H265.28L265.28 360.42H265.69L265.69 359.92H266.11L266.11 363.4H266.52L266.52 364.23H266.93L266.93 377.1Z"/>
<path fill="#5282b1" d="M259.92 377.1L259.92 365.58H260.33L260.33 366.06H260.74L260.74 357H261.16L261.16 364.52H261.57L261.57 365.4H261.98L261.98 363.91H262.39L262.39 365.55H262.81L262.81 364.88H263.22L263.22 364.38H263.63L263.63 363.57H264.04L264.04 364.35H264.46L264.46 366.28H264.87L264.87 365.09H265.28L265.28 362.52H265.69L265.69 364.93H266.11L266.11 365.1H266.52L266.52 365.71H266.93L266.93 377.1Z"/>
<path fill="#5282b1" fill-opacity="0.9" d="M263.68 360.43h0.8v0.8h-0.8zM264.7 362.4h0.8v0.8h-0.8zM261.19 360.84h0.8v0.8h-0.8zM260.72 358.71h0.8v0.8h-0.8zM265.68 360.87h0.8v0.8h-0.8zM261.54 361.19h0.8v0.8h-0.8zM264.68 361.93h0.8v0.8h-0.8zM263.95 361.02h0.8v0.8h-0.8zM265.56 359.96h0.8v0.8h-0.8zM264.08 361.26h0.8v0.8h-0.8zM265.45 361.01h0.8v0.8h-0.8zM264.2 362.02h0.8v0.8h-0.8zM260.59 361.21h0.8v0.8h-0.8z"/>
<path fill="#0024f0" fill-opacity="0.75" d="M267.66 377.1L267.66 363.99H268.05L268.05 362.6H268.44L268.44 360.17H268.83L268.83 360.02H269.22L269.22 363.98H269.61L269.61 363.34H270L270 377.1ZM271.04 377.1L271.04 363.41H271.46L271.46 364.17H271.87L271.87 362.2H272.28L272.28 359.82H272.69L272.69 362.58H273.11L273.11 361.58H273.52L273.52 364.35H273.93L273.93 362.38H274.35L274.35 360.57H274.76L274.76 377.1Z"/>
<path fill="#0024f0" d="M267.66 377.1L267.66 365.58H268.05L268.05 365.06H268.44L268.44 362.38H268.83L268.83 363.35H269.22L269.22 365.35H269.61L269.61 365.58H270L270 377.1ZM271.04 377.1L271.04 365.66H271.46L271.46 365.61H271.87L271.87 363.7H272.28L272.28 364.09H272.69L272.69 364H273.11L273.11 363.04H273.52L273.52 366.14H273.93L273.93 364.29H274.35L274.35 365.58H274.76L274.76 377.1Z"/>
<path fill="#0024f0" fill-opacity="0.9" d="M267.8 358.59h0.8v0.8h-0.8zM267.69 360.61h0.8v0.8h-0.8zM268.88 361.93h0.8v0.8h-0.8zM272.91 361.04h0.8v0.8h-0.8zM271.41 361.64h0.8v0.8h-0.8zM273.66 361.32h0.8v0.8h-0.8zM272.9 361.69h0.8v0.8h-0.8zM272.09 362.8h0.8v0.8h-0.8zM271.68 362.44h0.8v0.8h-0.8zM271.31 362.72h0.8v0.8h-0.8z"/>
<path fill="#5282b1" fill-opacity="0.75" d="M275.48 377.1L275.48 363.68H275.9L275.9 363.31H276.31L276.31 362.54H276.72L276.72 361.93H277.13L277.13 364.02H277.55L277.55 362.93H277.96L277.96 362.92H278.37L278.37 363.62H278.78L278.78 362.18H279.2L279.2 361.02H279.61L279.61 360.12H280.02L280.02 363.05H280.43L280.43 361.97H280.85L280.85 364.16H281.26L281.26 363.74H281.67L281.67 363.99H282.08L282.08 377.1Z"/>
<path fill="#5282b1" d="M275.48 377.1L275.48 365.58H275.9L275.9 365.52H276.31L276.31 365.7H276.72L276.72 364H277.13L277.13 366.34H277.55L277.55 364.3H277.96L277.96 364.4H278.37L278.37 365.1H278.78L278.78 364.41H279.2L279.2 363.46H279.61L279.61 364.05H280.02L280.02 365.1H280.43L280.43 364.85H280.85L280.85 366H281.26L281.26 365.64H281.67L281.67 365.58H282.08L282.08 377.1Z"/>
<path fill="#5282b1" fill-opacity="0.9" d="M279.25 361.2h0.8v0.8h-0.8zM279.18 360.6h0.8v0.8h-0.8zM277.8 362.58h0.8v0.8h-0.8zM277.59 361.24h0.8v0.8h-0.8zM279.13 357.79h0.8v0.8h-0.8zM279.3 360.65h0.8v0.8h-0.8zM277.52 359.69h0.8v0.8h-0.8zM276.23 358.62h0.8v0.8h-0.8zM278.32 361.48h0.8v0.8h-0.8zM279.5 361.16h0.8v0.8h-0.8zM281.26 362.36h0.8v0.8h-0.8zM275.85 360.94h0.8v0.8h-0.8z"/>
<path fill="#0024f0" fill-opacity="0.75" d="M282.67 377.1L282.67 363.71H283.09L283.09 354.86H283.51L283.51 360.74H283.93L283.93 357.78H284.35L284.35 361.4H284.78L284.78 361.86H285.2L285.2 361.57H285.62L285.62 363.34H286.04L286.04 361.59H286.46L286.46 358.7H286.88L286.88 361.42H287.3L287.3 361.89H287.72L287.72 361.53H288.14L288.14 356.15H288.57L288.57 363.66H288.99L288.99 362.4H289.41L289.41 377.1Z"/>
<path fill="#0024f0" d="M282.67 377.1L282.67 365.58H283.09L283.09 357.75H283.51L283.51 364.66H283.93L283.93 362.79H284.35L284.35 363.05H284.78L284.78 363.67H285.2L285.2 363.9H285.62L285.62 365.09H286.04L286.04 363.75H286.46L286.46 360.26H286.88L286.88 363.02H287.3L287.3 363.77H287.72L287.72 365.25H288.14L288.14 361.16H288.57L288.57 365.26H288.99L288.99 365.58H289.41L289.41 377.1Z"/>
<path fill="#0024f0" fill-opacity="0.9" d="M283.21 361.57h0.8v0.8h-0.8zM287.03 362.4h0.8v0.8h-0.8zM288.39 360.71h0.8v0.8h-0.8zM286.54 362.07h0.8v0.8h-0.8zM283.88 359.06h0.8v0.8h-0.8zM288.46 362.43h0.8v0.8h-0.8zM287.52 362.05h0.8v0.8h-0.8zM283.13 360.79h0.8v0.8h-0.8zM283.24 359.09h0.8v0.8h-0.8zM287.68 361.84h0.8v0.8h-0.8zM283.53 361.14h0.8v0.8h-0.8zM287.12 362.39h0.8v0.8h-0.8z"/>
<path fill="#5282b1" fill-opacity="0.75" d="M290.13 377.1L290.13 363.82H290.56L290.56 361.03H290.98L290.98 363.48H291.4L291.4 361.23H291.83L291.83 363.85H292.25L292.25 362.52H292.68L292.68 362.32H293.1L293.1 362.05H293.52L293.52 364.56H293.95L293.95 365.07H294.37L294.37 362.13H294.8L294.8 361.44H295.22L295.22 362.33H295.64L295.64 363.87H296.07L296.07 359.96H296.49L296.49 363.22H296.92L296.92 377.1Z"/>
<path fill="#5282b1" d="M290.13 377.1L290.13 365.58H290.56L290.56 363.21H290.98L290.98 365.74H291.4L291.4 366.24H291.83L291.83 365.27H292.25L292.25 365.4H292.68L292.68 363.72H293.1L293.1 366.14H293.52L293.52 366.76H293.95L293.95 367.4H294.37L294.37 364.4H294.8L294.8 365.15H295.22L295.22 363.92H295.64L295.64 365.35H296.07L296.07 364.83H296.49L296.49 365.58H296.92L296.92 377.1Z"/>
<path fill="#5282b1" fill-opacity="0.9" d="M296.08 362.55h0.8v0.8h-0.8zM294.06 362.58h0.8v0.8h-0.8zM295.95 362.26h0.8v0.8h-0.8zM294.28 360.82h0.8v0.8h-0.8zM291.36 361.53h0.8v0.8h-0.8zM292.66 362.31h0.8v0.8h-0.8zM292.5 362.55h0.8v0.8h-0.8zM294.37 356.16h0.8v0.8h-0.8zM293.37 361.73h0.8v0.8h-0.8zM293.21 362.39h0.8v0.8h-0.8zM294.55 360.51h0.8v0.8h-0.8zM290.75 361.8h0.8v0.8h-0.8zM290.87 360.45h0.8v0.8h-0.8z"/>
<path fill="#0024f0" fill-opacity="0.75" d="M298.1 377.1L298.1 362.79H298.5L298.5 357.9H298.91L298.91 362.99H299.31L299.31 362.87H299.72L299.72 360.49H300.12L300.12 362.35H300.53L300.53 362.61H300.93L300.93 360.89H301.34L301.34 361.26H301.74L301.74 362.02H302.15L302.15 357.96H302.55L302.55 364.03H302.96L302.96 377.1Z"/>
<path fill="#0024f0" d="M298.1 377.1L298.1 365.58H298.5L298.5 359.89H298.91L298.91 364.34H299.31L299.31 364.96H299.72L299.72 362.23H300.12L300.12 363.88H300.53L300.53 364.01H300.93L300.93 365.26H301.34L301.34 364.53H301.74L301.74 364.1H302.15L302.15 362.97H302.55L302.55 365.58H302.96L302.96 377.1Z"/>
<path fill="#0024f0" fill-opacity="0.9" d="M301.47 360.7h0.8v0.8h-0.8zM298.49 362.87h0.8v0.8h-0.8zM298.51 362.55h0.8v0.8h-0.8zM301.2 360.32h0.8v0.8h-0.8zM300.92 362.16h0.8v0.8h-0.8zM301.91 362.7h0.8v0.8h-0.8zM299.02 361.93h0.8v0.8h-0.8zM299.15 360.56h0.8v0.8h-0.8zM301.49 360.5h0.8v0.8h-0.8z"/>
<path fill="#5282b1" fill-opacity="0.75" d="M304.32 377.1L304.32 364.43H304.73L304.73 362.85H305.13L305.13 363.18H305.54L305.54 361.2H305.94L305.94 363.99H306.34L306.34 361.79H306.75L306.75 361.56H307.15L307.15 359.97H307.56L307.56 362.53H307.96L307.96 364.59H308.37L308.37 361.16H308.77L308.77 377.1Z"/>
<path fill="#5282b1" d="M304.32 377.1L304.32 365.96H304.73L304.73 364.3H305.13L305.13 365.64H305.54L305.54 362.96H305.94L305.94 366.78H306.34L306.34 365.49H306.75L306.75 366.57H307.15L307.15 361.72H307.56L307.56 364.33H307.96L307.96 366.21H308.37L308.37 365.58H308.77L308.77 377.1Z"/>
<path fill="#5282b1" fill-opacity="0.9" d="M307.03 361.9h0.8v0.8h-0.8zM306.25 362.04h0.8v0.8h-0.8zM307.76 357.2h0.8v0.8h-0.8zM305.91 363.04h0.8v0.8h-0.8zM306.28 362.44h0.8v0.8h-0.8zM307.27 358.76h0.8v0.8h-0.8zM306.58 363.29h0.8v0.8h-0.8z"/>
<path fill="#0024f0" fill-opacity="0.75" d="M310.09 377.1L310.09 365.14H310.5L310.5 362.33H310.91L310.91 361.83H311.31L311.31 360.95H311.72L311.72 364.89H312.13L312.13 362.58H312.54L312.54 362.41H312.95L312.95 361.67H313.36L313.36 361.11H313.76L313.76 363.87H314.17L314.17 377.1Z"/>
<path fill="#0024f0" d="M310.09 377.1L310.09 367.21H310.5L310.5 364.45H310.91L310.91 363.75H311.31L311.31 363.14H311.72L311.72 366.43H312.13L312.13 365.09H312.54L312.54 364.77H312.95L312.95 365.2H313.36L313.36 363.49H313.76L313.76 365.58H314.17L314.17 377.1Z"/>
<path fill="#0024f0" fill-opacity="0.9" d="M311.68 361.7h0.8v0.8h-0.8zM310.15 362.94h0.8v0.8h-0.8zM310.75 360.24h0.8v0.8h-0.8zM312.67 362.99h0.8v0.8h-0.8zM310.63 360.2h0.8v0.8h-0.8zM312.01 359.38h0.8v0.8h-0.8z"/>
<path fill="#5282b1" fill-opacity="0.75" d="M314.8 377.1L314.8 363.84H315.26L315.26 364.21H315.72L315.72 362.09H316.18L316.18 362.76H316.64L316.64 377.1ZM317 377.1L317 364.1H317.46L317.46 362.26H317.92L317.92 363.93H318.38L318.38 365.15H318.84L318.84 377.1Z"/>
<path fill="#5282b1" d="M314.8 377.1L314.8 365.58H315.26L315.26 366.54H315.72L315.72 363.55H316.18L316.18 365.58H316.64L316.64 377.1ZM317 377.1L317 365.58H317.46L317.46 363.68H317.92L317.92 365.29H318.38L318.38 366.55H318.84L318.84 377.1Z"/>
<path fill="#5282b1" fill-opacity="0.9" d="M315.59 362.35h0.8v0.8h-0.8zM315.1 356.32h0.8v0.8h-0.8zM315.46 362.29h0.8v0.8h-0.8zM317.43 361.96h0.8v0.8h-0.8zM317.2 359.57h0.8v0.8h-0.8zM317.11 360.83h0.8v0.8h-0.8z"/>
<path fill="#0024f0" fill-opacity="0.75" d="M319.47 377.1L319.47 363.88H319.88L319.88 362.25H320.29L320.29 361.28H320.7L320.7 359.71H321.11L321.11 361.76H321.52L321.52 362.32H321.92L321.92 356.93H322.33L322.33 363.63H322.74L322.74 362.13H323.15L323.15 361.66H323.56L323.56 377.1Z"/>
<path fill="#0024f0" d="M319.47 377.1L319.47 365.58H319.88L319.88 364.52H320.29L320.29 363.64H320.7L320.7 361.97H321.11L321.11 364.15H321.52L321.52 364.36H321.92L321.92 358.44H322.33L322.33 366.01H322.74L322.74 363.74H323.15L323.15 365.58H323.56L323.56 377.1Z"/>
<path fill="#0024f0" fill-opacity="0.9" d="M321.41 362.07h0.8v0.8h-0.8zM321.86 362.34h0.8v0.8h-0.8zM319.83 362.63h0.8v0.8h-0.8zM321.37 361.06h0.8v0.8h-0.8zM321 361.16h0.8v0.8h-0.8zM320.09 362.21h0.8v0.8h-0.8zM321.39 361.69h0.8v0.8h-0.8z"/>
<path fill="#5282b1" fill-opacity="0.75" d="M324.14 377.1L324.14 364.18H324.58L324.58 364.29H325.03L325.03 365.02H325.47L325.47 361.29H325.91L325.91 364.11H326.35L326.35 361.36H326.79L326.79 363.11H327.23L327.23 365.88H327.68L327.68 377.1Z"/>
<path fill="#5282b1" d="M324.14 377.1L324.14 365.58H324.58L324.58 365.83H325.03L325.03 366.44H325.47L325.47 365.24H325.91L325.91 367.55H326.35L326.35 362.77H326.79L326.79 365.18H327.23L327.23 367.27H327.68L327.68 377.1Z"/>
<path fill="#5282b1" fill-opacity="0.9" d="M325.27 357.2h0.8v0.8h-0.8zM325.72 363.13h0.8v0.8h-0.8zM325.85 357.02h0.8v0.8h-0.8zM325.42 362.91h0.8v0.8h-0.8zM326.39 360.4h0.8v0.8h-0.8zM324.76 361.87h0.8v0.8h-0.8z"/>
<path fill="#0024f0" fill-opacity="0.75" d="M328.17 377.1L328.17 363.82H328.58L328.58 364.01H328.98L328.98 364.17H329.39L329.39 363.23H329.8L329.8 362.26H330.2L330.2 359.33H330.61L330.61 363.99H331.02L331.02 377.1Z"/>
<path fill="#0024f0" d="M328.17 377.1L328.17 365.93H328.58L328.58 365.39H328.98L328.98 366.24H329.39L329.39 364.74H329.8L329.8 365.12H330.2L330.2 363.06H330.61L330.61 365.58H331.02L331.02 377.1Z"/>
<path fill="#0024f0" fill-opacity="0.9" d="M328.63 361.02h0.8v0.8h-0.8zM330.2 362.9h0.8v0.8h-0.8zM329.53 361.83h0.8v0.8h-0.8zM328.25 362.8h0.8v0.8h-0.8zM328.8 360.95h0.8v0.8h-0.8z"/>
<path fill="#5282b1" fill-opacity="0.75" d="M331.51 377.1L331.51 362.78H331.95L331.95 361.57H332.38L332.38 359.35H332.81L332.81 364.8H333.24L333.24 365.04H333.68L333.68 359.82H334.11L334.11 362.06H334.54L334.54 377.1Z"/>
<path fill="#5282b1" d="M331.51 377.1L331.51 366.24H331.95L331.95 363.84H332.38L332.38 363.1H332.81L332.81 366.48H333.24L333.24 366.37H333.68L333.68 364.83H334.11L334.11 365.61H334.54L334.54 377.1Z"/>
<path fill="#5282b1" fill-opacity="0.9" d="M332.53 358.54h0.8v0.8h-0.8zM333.08 361.8h0.8v0.8h-0.8zM332.88 362.09h0.8v0.8h-0.8zM331.63 361.53h0.8v0.8h-0.8zM331.61 362.09h0.8v0.8h-0.8z"/>
<path fill="#0024f0" fill-opacity="0.75" d="M335.5 377.1L335.5 363.54H335.96L335.96 359.92H336.42L336.42 361.75H336.88L336.88 362.94H337.34L337.34 377.1Z"/>
<path fill="#0024f0" d="M335.5 377.1L335.5 365.58H335.96L335.96 361.62H336.42L336.42 365.29H336.88L336.88 365.58H337.34L337.34 377.1Z"/>
<path fill="#0024f0" fill-opacity="0.9" d="M335.75 358.19h0.8v0.8h-0.8zM335.67 361.19h0.8v0.8h-0.8zM336.25 360.73h0.8v0.8h-0.8z"/>
<path fill="#5282b1" fill-opacity="0.75" d="M338.1 377.1L338.1 363.82H338.5L338.5 354.68H338.9L338.9 362.76H339.29L339.29 359.21H339.69L339.69 362.81H340.08L340.08 377.1Z"/>
<path fill="#5282b1" d="M338.1 377.1L338.1 365.58H338.5L338.5 358.95H338.9L338.9 366.18H339.29L339.29 361.23H339.69L339.69 365.58H340.08L340.08 377.1Z"/>
<path fill="#5282b1" fill-opacity="0.9" d="M338.79 361.13h0.8v0.8h-0.8zM338.11 362.42h0.8v0.8h-0.8zM338.41 360.66h0.8v0.8h-0.8z"/>
<path fill="#0024f0" fill-opacity="0.62" d="M185.33 340.04h1.3v1.3h-1.3zM185.26 345.05h1.3v1.3h-1.3zM185.29 349.73h1.3v1.3h-1.3zM185.26 351.73h1.3v1.3h-1.3zM188.03 351.4h1.3v1.3h-1.3zM191.76 351.73h1.3v1.3h-1.3zM191.84 354.41h1.3v1.3h-1.3zM211.55 351.73h1.3v1.3h-1.3zM211.52 353.4h1.3v1.3h-1.3zM211.58 355.07h1.3v1.3h-1.3zM211.62 356.74h1.3v1.3h-1.3zM219.47 355.07h1.3v1.3h-1.3zM219.67 356.41h1.3v1.3h-1.3zM236.72 353.74h1.3v1.3h-1.3zM236.67 355.41h1.3v1.3h-1.3zM239.47 355.07h1.3v1.3h-1.3zM251.26 357.75h1.3v1.3h-1.3zM258.24 357.75h1.3v1.3h-1.3zM272.13 355.74h1.3v1.3h-1.3zM272.01 357.75h1.3v1.3h-1.3zM282.01 346.72h1.3v1.3h-1.3zM282.08 347.73h1.3v1.3h-1.3zM281.99 355.41h1.3v1.3h-1.3zM311.55 355.41h1.3v1.3h-1.3zM320.2 345.72h1.3v1.3h-1.3zM320.29 347.73h1.3v1.3h-1.3zM320.11 349.73h1.3v1.3h-1.3zM320.11 353.07h1.3v1.3h-1.3zM320.14 355.74h1.3v1.3h-1.3zM320.11 357.41h1.3v1.3h-1.3zM330.01 359.08h1.3v1.3h-1.3z"/>
<path fill="#5282b1" fill-opacity="0.62" d="M198.93 343.72h1.3v1.3h-1.3zM198.85 344.72h1.3v1.3h-1.3zM198.92 353.07h1.3v1.3h-1.3zM198.83 355.74h1.3v1.3h-1.3zM221.18 351.4h1.3v1.3h-1.3zM221.36 354.41h1.3v1.3h-1.3zM221.54 317.67h1.3v1.3h-1.3zM221.68 330.36h1.3v1.3h-1.3zM221.53 332.36h1.3v1.3h-1.3zM221.46 338.04h1.3v1.3h-1.3zM221.62 344.39h1.3v1.3h-1.3zM221.55 345.39h1.3v1.3h-1.3zM221.65 353.07h1.3v1.3h-1.3zM243.14 354.07h1.3v1.3h-1.3zM243.05 355.41h1.3v1.3h-1.3zM293.91 357.75h1.3v1.3h-1.3zM305.78 344.05h1.3v1.3h-1.3zM305.76 349.73h1.3v1.3h-1.3zM305.87 351.07h1.3v1.3h-1.3zM305.86 352.4h1.3v1.3h-1.3zM305.7 355.07h1.3v1.3h-1.3zM314.9 353.4h1.3v1.3h-1.3zM323.58 358.08h1.3v1.3h-1.3z"/>
</g>
<path d="M184.6 353.15H340.4" stroke="#f3a3a0" stroke-width="0.55" stroke-dasharray="0.9 0.5" fill="none"/>
<g filter="url(#n)">
<path d="M184.2 320V377.8M183.5 377.1h0.7M183.5 370.42h0.7M183.5 363.74h0.7M183.5 357.06h0.7M183.5 350.38h0.7M183.5 343.7h0.7M183.5 337.02h0.7M183.5 330.34h0.7M183.5 323.66h0.7M184.2 377.25H340.1M184.2 377.1v0.7M208.74 377.1v0.7M233.27 377.1v0.7M257.81 377.1v0.7M282.34 377.1v0.7M306.88 377.1v0.7M331.41 377.1v0.7" stroke="#555" stroke-width="0.3" fill="none"/>
<g font-family='"Liberation Sans", sans-serif' font-size="2.3" fill="#111" text-anchor="end"><text x="183" y="377.93">0</text><text x="183" y="371.25">2</text><text x="183" y="364.57">4</text><text x="183" y="357.89">6</text><text x="183" y="351.21">8</text><text x="183" y="344.53">10</text><text x="183" y="337.85">12</text><text x="183" y="331.17">14</text><text x="183" y="324.49">16</text></g>
<g font-family='"Liberation Sans", sans-serif' font-size="2.5" fill="#111" text-anchor="middle"><text x="191.1" y="381.3">1</text><text x="204.33" y="381.3">2</text><text x="216.32" y="381.3">3</text><text x="226.81" y="381.3">4</text><text x="237.01" y="381.3">5</text><text x="246.4" y="381.3">6</text><text x="255.41" y="381.3">7</text><text x="263.75" y="381.3">8</text><text x="271.3" y="381.3">9</text><text x="278.9" y="381.3">10</text><text x="286.31" y="381.3">11</text><text x="293.55" y="381.3">12</text><text x="300.41" y="381.3">13</text><text x="307.05" y="381.3">14</text><text x="311.72" y="381.3">15</text><text x="317.12" y="381.3">16</text><text x="321.56" y="381.3">17</text><text x="325.91" y="381.3">18</text><text x="329.66" y="381.3">19</text><text x="332.87" y="381.3">20</text><text x="335.89" y="381.3">21</text><text x="338.68" y="381.3">22</text></g>
<text x="262.35" y="384.2" font-family='"Liberation Sans", sans-serif' font-size="2.5" fill="#111" text-anchor="middle" letter-spacing="0.08">Chromosome</text>
<text transform="translate(177.2 350.38) rotate(-90)" font-family='"Liberation Sans", sans-serif' font-size="2.5" fill="#111" text-anchor="middle" letter-spacing="0.12">-log10 P-value</text>
</g>
<g filter="url(#b)">
<path fill="#0024f0" fill-opacity="0.75" d="M354.44 377.1L354.44 360.99H354.85L354.85 361.75H355.27L355.27 357.17H355.68L355.68 361.76H356.1L356.1 360.66H356.51L356.51 358.7H356.93L356.93 360.43H357.34L357.34 355H357.76L357.76 358.25H358.18L358.18 359.5H358.59L358.59 360.83H359.01L359.01 360.07H359.42L359.42 359.69H359.84L359.84 360.93H360.25L360.25 361.54H360.67L360.67 377.1ZM361.3 377.1L361.3 358.42H361.73L361.73 362.15H362.16L362.16 362.43H362.58L362.58 360.58H363.01L363.01 357.74H363.44L363.44 359.17H363.86L363.86 361.18H364.29L364.29 355.86H364.72L364.72 361.09H365.14L365.14 357.17H365.57L365.57 361.58H366L366 359.17H366.42L366.42 361.14H366.85L366.85 377.1Z"/>
<path fill="#0024f0" d="M354.44 377.1L354.44 363.95H354.85L354.85 363.52H355.27L355.27 362.72H355.68L355.68 364.21H356.1L356.1 362.43H356.51L356.51 362.92H356.93L356.93 362.02H357.34L357.34 358.75H357.76L357.76 361.2H358.18L358.18 362.78H358.59L358.59 362.9H359.01L359.01 361.81H359.42L359.42 365.46H359.84L359.84 362.99H360.25L360.25 363.18H360.67L360.67 377.1ZM361.3 377.1L361.3 363.18H361.73L361.73 365.54H362.16L362.16 365.54H362.58L362.58 362.88H363.01L363.01 360.18H363.44L363.44 363.18H363.86L363.86 363.44H364.29L364.29 357.72H364.72L364.72 364.09H365.14L365.14 359.39H365.57L365.57 363.37H366L366 361.28H366.42L366.42 363.18H366.85L366.85 377.1Z"/>
<path fill="#0024f0" fill-opacity="0.9" d="M355.81 359.2h0.8v0.8h-0.8zM354.57 360.24h0.8v0.8h-0.8zM358.83 358.26h0.8v0.8h-0.8zM356.48 360.7h0.8v0.8h-0.8zM358.51 356.71h0.8v0.8h-0.8zM354.88 359.93h0.8v0.8h-0.8zM357.41 358.55h0.8v0.8h-0.8zM355.54 357.37h0.8v0.8h-0.8zM357.74 357.64h0.8v0.8h-0.8zM359.59 358.62h0.8v0.8h-0.8zM358.08 360.33h0.8v0.8h-0.8zM361.58 360.34h0.8v0.8h-0.8zM363.4 358.58h0.8v0.8h-0.8zM362.53 360.07h0.8v0.8h-0.8zM365.58 358.92h0.8v0.8h-0.8zM363.42 360.58h0.8v0.8h-0.8zM365.03 355.34h0.8v0.8h-0.8zM362.44 356.99h0.8v0.8h-0.8zM363.08 359.69h0.8v0.8h-0.8zM361.42 360.5h0.8v0.8h-0.8zM362.44 360.61h0.8v0.8h-0.8z"/>
<path fill="#5282b1" fill-opacity="0.75" d="M367.66 377.1L367.66 360.68H368.08L368.08 358.32H368.5L368.5 357.65H368.91L368.91 361.44H369.33L369.33 359.7H369.74L369.74 354.56H370.16L370.16 354.62H370.57L370.57 358.32H370.99L370.99 359H371.4L371.4 357.75H371.82L371.82 359.12H372.23L372.23 357.7H372.65L372.65 357.64H373.06L373.06 361.5H373.48L373.48 355.07H373.89L373.89 359.85H374.31L374.31 358.05H374.73L374.73 357.89H375.14L375.14 356.59H375.56L375.56 360.34H375.97L375.97 359.38H376.39L376.39 360.2H376.8L376.8 358.94H377.22L377.22 359.95H377.63L377.63 361.15H378.05L378.05 359.34H378.46L378.46 358.73H378.88L378.88 359H379.29L379.29 357.44H379.71L379.71 361.6H380.12L380.12 377.1Z"/>
<path fill="#5282b1" d="M367.66 377.1L367.66 363.44H368.08L368.08 361.11H368.5L368.5 360.92H368.91L368.91 363.23H369.33L369.33 361.29H369.74L369.74 360.44H370.16L370.16 360.5H370.57L370.57 361.25H370.99L370.99 362.93H371.4L371.4 363.63H371.82L371.82 362.65H372.23L372.23 360.71H372.65L372.65 359.66H373.06L373.06 363.42H373.48L373.48 360.09H373.89L373.89 361.75H374.31L374.31 362.72H374.73L374.73 360.13H375.14L375.14 358.78H375.56L375.56 362.79H375.97L375.97 361.46H376.39L376.39 362.23H376.8L376.8 360.82H377.22L377.22 363.15H377.63L377.63 362.91H378.05L378.05 362.16H378.46L378.46 360.65H378.88L378.88 360.91H379.29L379.29 360.15H379.71L379.71 363.18H380.12L380.12 377.1Z"/>
<path fill="#5282b1" fill-opacity="0.9" d="M373.72 356.43h0.8v0.8h-0.8zM369.3 358.4h0.8v0.8h-0.8zM373.97 359.29h0.8v0.8h-0.8zM370.02 357.61h0.8v0.8h-0.8zM369.69 359.28h0.8v0.8h-0.8zM370.24 353.68h0.8v0.8h-0.8zM378.13 359.39h0.8v0.8h-0.8zM374.35 358.5h0.8v0.8h-0.8zM368.02 359.02h0.8v0.8h-0.8zM375.25 359.6h0.8v0.8h-0.8zM378.84 358.92h0.8v0.8h-0.8zM371.72 353.22h0.8v0.8h-0.8zM369.29 359.34h0.8v0.8h-0.8zM373.17 358.83h0.8v0.8h-0.8zM371.38 357.76h0.8v0.8h-0.8zM378.74 358.49h0.8v0.8h-0.8zM368.18 358.63h0.8v0.8h-0.8zM377.61 358.42h0.8v0.8h-0.8zM368.37 359.02h0.8v0.8h-0.8zM370.31 358.71h0.8v0.8h-0.8zM371.37 357.24h0.8v0.8h-0.8zM376.05 359.54h0.8v0.8h-0.8zM369.36 355.92h0.8v0.8h-0.8z"/>
<path fill="#0024f0" fill-opacity="0.75" d="M380.99 377.1L380.99 361.27H381.41L381.41 357.76H381.84L381.84 357.71H382.27L382.27 360.57H382.7L382.7 359.14H383.13L383.13 358.78H383.55L383.55 356.26H383.98L383.98 356.66H384.41L384.41 357.21H384.84L384.84 356.64H385.27L385.27 357.62H385.7L385.7 358.81H386.12L386.12 358.83H386.55L386.55 359.32H386.98L386.98 357.71H387.41L387.41 357.29H387.84L387.84 359.33H388.27L388.27 358.92H388.69L388.69 358.55H389.12L389.12 361.93H389.55L389.55 357.03H389.98L389.98 359.05H390.41L390.41 361.54H390.84L390.84 377.1Z"/>
<path fill="#0024f0" d="M380.99 377.1L380.99 363.18H381.41L381.41 361.1H381.84L381.84 360.59H382.27L382.27 362.26H382.7L382.7 361.03H383.13L383.13 361.27H383.55L383.55 360.88H383.98L383.98 362.12H384.41L384.41 360.44H384.84L384.84 359.99H385.27L385.27 359.67H385.7L385.7 362.95H386.12L386.12 360.62H386.55L386.55 362.67H386.98L386.98 359.94H387.41L387.41 362.35H387.84L387.84 361.61H388.27L388.27 363.4H388.69L388.69 364.43H389.12L389.12 363.85H389.55L389.55 360.5H389.98L389.98 362.03H390.41L390.41 363.18H390.84L390.84 377.1Z"/>
<path fill="#0024f0" fill-opacity="0.9" d="M382.48 358.37h0.8v0.8h-0.8zM387.03 359.06h0.8v0.8h-0.8zM381.64 355.43h0.8v0.8h-0.8zM381.63 355.37h0.8v0.8h-0.8zM383.09 357.47h0.8v0.8h-0.8zM386.35 359.53h0.8v0.8h-0.8zM383.96 359.51h0.8v0.8h-0.8zM385.81 359.41h0.8v0.8h-0.8zM385.91 359.39h0.8v0.8h-0.8zM382.07 357.54h0.8v0.8h-0.8zM383.35 353.71h0.8v0.8h-0.8zM384.65 359.45h0.8v0.8h-0.8zM387.48 355.12h0.8v0.8h-0.8zM384.34 357.26h0.8v0.8h-0.8zM383.7 360.03h0.8v0.8h-0.8zM381.02 358.42h0.8v0.8h-0.8zM386.64 359.38h0.8v0.8h-0.8z"/>
<path fill="#5282b1" fill-opacity="0.75" d="M391.7 377.1L391.7 360.43H392.12L392.12 358.24H392.53L392.53 359.79H392.95L392.95 353.43H393.37L393.37 359.8H393.79L393.79 360.59H394.21L394.21 358.88H394.63L394.63 359.3H395.04L395.04 360.28H395.46L395.46 359.93H395.88L395.88 357.29H396.3L396.3 359.64H396.72L396.72 358.07H397.14L397.14 360.84H397.55L397.55 359.23H397.97L397.97 356.89H398.39L398.39 359.82H398.81L398.81 355.7H399.23L399.23 357.77H399.65L399.65 360.16H400.06L400.06 361.14H400.48L400.48 361.12H400.9L400.9 360.6H401.32L401.32 377.1Z"/>
<path fill="#5282b1" d="M391.7 377.1L391.7 363.5H392.12L392.12 360.69H392.53L392.53 362.56H392.95L392.95 355.76H393.37L393.37 363.51H393.79L393.79 362.61H394.21L394.21 361.32H394.63L394.63 361.06H395.04L395.04 363.09H395.46L395.46 362.39H395.88L395.88 359.45H396.3L396.3 361.45H396.72L396.72 359.68H397.14L397.14 362.77H397.55L397.55 361H397.97L397.97 360.84H398.39L398.39 361.99H398.81L398.81 359.25H399.23L399.23 359.59H399.65L399.65 362.15H400.06L400.06 363.06H400.48L400.48 363.23H400.9L400.9 363.18H401.32L401.32 377.1Z"/>
<path fill="#5282b1" fill-opacity="0.9" d="M396.76 359.92h0.8v0.8h-0.8zM393.28 358.85h0.8v0.8h-0.8zM395.62 359.02h0.8v0.8h-0.8zM397.61 360.11h0.8v0.8h-0.8zM391.8 360.3h0.8v0.8h-0.8zM398.71 357.83h0.8v0.8h-0.8zM393.05 359.58h0.8v0.8h-0.8zM394.41 354.92h0.8v0.8h-0.8zM395.33 357.74h0.8v0.8h-0.8zM392.45 360.35h0.8v0.8h-0.8zM393.68 358.23h0.8v0.8h-0.8zM395.64 356.01h0.8v0.8h-0.8zM398.95 358.09h0.8v0.8h-0.8zM400.49 353.49h0.8v0.8h-0.8zM399.49 360.24h0.8v0.8h-0.8zM395.22 360.1h0.8v0.8h-0.8zM397.1 358.92h0.8v0.8h-0.8zM392.51 360.26h0.8v0.8h-0.8z"/>
<path fill="#0024f0" fill-opacity="0.75" d="M402.09 377.1L402.09 360.47H402.5L402.5 355.55H402.91L402.91 359.76H403.32L403.32 358.4H403.74L403.74 358.62H404.15L404.15 356.93H404.56L404.56 360.83H404.97L404.97 357.59H405.39L405.39 354.57H405.8L405.8 358.09H406.21L406.21 361.84H406.62L406.62 355.51H407.04L407.04 360.73H407.45L407.45 358.45H407.86L407.86 353.09H408.27L408.27 362.2H408.69L408.69 360H409.1L409.1 360.64H409.51L409.51 361.89H409.92L409.92 360.24H410.34L410.34 360.83H410.75L410.75 361.18H411.16L411.16 377.1Z"/>
<path fill="#0024f0" d="M402.09 377.1L402.09 363.68H402.5L402.5 357.18H402.91L402.91 362.66H403.32L403.32 361.56H403.74L403.74 360.86H404.15L404.15 360.79H404.56L404.56 362.51H404.97L404.97 359.21H405.39L405.39 360.45H405.8L405.8 363.14H406.21L406.21 364H406.62L406.62 361.39H407.04L407.04 363.58H407.45L407.45 360.06H407.86L407.86 357.46H408.27L408.27 364.43H408.69L408.69 363.47H409.1L409.1 362.89H409.51L409.51 363.57H409.92L409.92 362.65H410.34L410.34 363.05H410.75L410.75 363.18H411.16L411.16 377.1Z"/>
<path fill="#0024f0" fill-opacity="0.9" d="M409.97 358.43h0.8v0.8h-0.8zM409.28 357.66h0.8v0.8h-0.8zM406.75 355.7h0.8v0.8h-0.8zM402.75 359.16h0.8v0.8h-0.8zM406.12 356.17h0.8v0.8h-0.8zM403.63 356.6h0.8v0.8h-0.8zM402.82 358.94h0.8v0.8h-0.8zM405.92 357.16h0.8v0.8h-0.8zM406.41 355.79h0.8v0.8h-0.8zM407.82 358.82h0.8v0.8h-0.8zM406.4 358.81h0.8v0.8h-0.8zM409.31 359.09h0.8v0.8h-0.8zM403.58 359.26h0.8v0.8h-0.8zM404.16 356.29h0.8v0.8h-0.8zM407.77 359.26h0.8v0.8h-0.8zM405.56 355.01h0.8v0.8h-0.8zM410.04 359.32h0.8v0.8h-0.8z"/>
<path fill="#5282b1" fill-opacity="0.75" d="M412.02 377.1L412.02 361.57H412.45L412.45 361.62H412.87L412.87 359.28H413.3L413.3 361.45H413.73L413.73 357.8H414.15L414.15 361.31H414.58L414.58 359.22H415L415 359.96H415.43L415.43 358.21H415.86L415.86 360.23H416.28L416.28 359.7H416.71L416.71 361.89H417.14L417.14 362.17H417.56L417.56 360.76H417.99L417.99 363.49H418.41L418.41 359.63H418.84L418.84 361.69H419.27L419.27 361.41H419.69L419.69 358.9H420.12L420.12 361.33H420.54L420.54 377.1Z"/>
<path fill="#5282b1" d="M412.02 377.1L412.02 363.18H412.45L412.45 364.35H412.87L412.87 363.61H413.3L413.3 363.52H413.73L413.73 360.08H414.15L414.15 364.92H414.58L414.58 360.79H415L415 362.6H415.43L415.43 362.13H415.86L415.86 362.59H416.28L416.28 363.24H416.71L416.71 363.88H417.14L417.14 364.48H417.56L417.56 362.87H417.99L417.99 365.54H418.41L418.41 363.15H418.84L418.84 363.51H419.27L419.27 363.1H419.69L419.69 361.91H420.12L420.12 363.18H420.54L420.54 377.1Z"/>
<path fill="#5282b1" fill-opacity="0.9" d="M412.29 360.9h0.8v0.8h-0.8zM412.91 359.24h0.8v0.8h-0.8zM415.55 355.78h0.8v0.8h-0.8zM415.77 360.7h0.8v0.8h-0.8zM413.15 358.3h0.8v0.8h-0.8zM419.59 357.92h0.8v0.8h-0.8zM413.83 359.99h0.8v0.8h-0.8zM415.4 359.67h0.8v0.8h-0.8zM414.2 360.54h0.8v0.8h-0.8zM412.22 356.33h0.8v0.8h-0.8zM419.55 352.66h0.8v0.8h-0.8zM414.96 358.39h0.8v0.8h-0.8zM413.62 360.64h0.8v0.8h-0.8zM412.04 360.03h0.8v0.8h-0.8zM418.18 359.28h0.8v0.8h-0.8zM413.83 359.48h0.8v0.8h-0.8z"/>
<path fill="#0024f0" fill-opacity="0.75" d="M421.13 377.1L421.13 359.65H421.55L421.55 359.81H421.97L421.97 361.91H422.4L422.4 357.76H422.82L422.82 361.05H423.24L423.24 356.2H423.66L423.66 359.69H424.09L424.09 356.44H424.51L424.51 359.86H424.93L424.93 357.1H425.35L425.35 359.8H425.77L425.77 360.37H426.2L426.2 362.33H426.62L426.62 358.23H427.04L427.04 361.34H427.46L427.46 358.93H427.88L427.88 360.55H428.31L428.31 362.38H428.73L428.73 361.19H429.15L429.15 377.1Z"/>
<path fill="#0024f0" d="M421.13 377.1L421.13 365.53H421.55L421.55 362.99H421.97L421.97 363.77H422.4L422.4 363.64H422.82L422.82 364.08H423.24L423.24 361.4H423.66L423.66 362.48H424.09L424.09 362.32H424.51L424.51 362.71H424.93L424.93 360.83H425.35L425.35 362.12H425.77L425.77 362.91H426.2L426.2 364.6H426.62L426.62 360.64H427.04L427.04 363.4H427.46L427.46 362.93H427.88L427.88 362.15H428.31L428.31 364.91H428.73L428.73 363.18H429.15L429.15 377.1Z"/>
<path fill="#0024f0" fill-opacity="0.9" d="M425.48 359.03h0.8v0.8h-0.8zM422.03 358.92h0.8v0.8h-0.8zM428.11 355.86h0.8v0.8h-0.8zM425.63 356.1h0.8v0.8h-0.8zM424.64 358.9h0.8v0.8h-0.8zM426.16 359.9h0.8v0.8h-0.8zM425.41 358.88h0.8v0.8h-0.8zM423.28 358.9h0.8v0.8h-0.8zM422.42 358.16h0.8v0.8h-0.8zM421.96 359.11h0.8v0.8h-0.8zM421.53 358.71h0.8v0.8h-0.8zM421.83 356.64h0.8v0.8h-0.8zM421.26 356.84h0.8v0.8h-0.8zM423.29 353.72h0.8v0.8h-0.8zM423.5 360.05h0.8v0.8h-0.8z"/>
<path fill="#5282b1" fill-opacity="0.75" d="M429.92 377.1L429.92 360.39H430.33L430.33 360.62H430.74L430.74 359.63H431.16L431.16 361.88H431.57L431.57 360.99H431.98L431.98 357.06H432.39L432.39 363.42H432.81L432.81 361.32H433.22L433.22 358.1H433.63L433.63 359.33H434.04L434.04 357.4H434.46L434.46 356.47H434.87L434.87 360.95H435.28L435.28 361.11H435.69L435.69 360.74H436.11L436.11 361.57H436.52L436.52 359.83H436.93L436.93 377.1Z"/>
<path fill="#5282b1" d="M429.92 377.1L429.92 363.18H430.33L430.33 362.52H430.74L430.74 362.43H431.16L431.16 364.32H431.57L431.57 362.57H431.98L431.98 361.17H432.39L432.39 365.54H432.81L432.81 363.75H433.22L433.22 363.23H433.63L433.63 364.69H434.04L434.04 362.84H434.46L434.46 359.64H434.87L434.87 362.91H435.28L435.28 362.7H435.69L435.69 362.71H436.11L436.11 363.91H436.52L436.52 363.18H436.93L436.93 377.1Z"/>
<path fill="#5282b1" fill-opacity="0.9" d="M434.67 360.24h0.8v0.8h-0.8zM432.1 360.02h0.8v0.8h-0.8zM435.08 359.9h0.8v0.8h-0.8zM435.66 359.38h0.8v0.8h-0.8zM430.87 357.71h0.8v0.8h-0.8zM431.07 359.31h0.8v0.8h-0.8zM432.65 358.12h0.8v0.8h-0.8zM433.14 357.94h0.8v0.8h-0.8zM434.84 352.91h0.8v0.8h-0.8zM433.78 359.09h0.8v0.8h-0.8zM433 359.37h0.8v0.8h-0.8zM435.1 358.58h0.8v0.8h-0.8zM434.25 356.6h0.8v0.8h-0.8z"/>
<path fill="#0024f0" fill-opacity="0.75" d="M437.66 377.1L437.66 363.05H438.05L438.05 355.58H438.44L438.44 360.84H438.83L438.83 357.97H439.22L439.22 361.23H439.61L439.61 361.52H440L440 377.1ZM441.04 377.1L441.04 360.67H441.46L441.46 358.55H441.87L441.87 355.61H442.28L442.28 358.92H442.69L442.69 361.19H443.11L443.11 360.19H443.52L443.52 359.58H443.93L443.93 361.54H444.35L444.35 359.61H444.76L444.76 377.1Z"/>
<path fill="#0024f0" d="M437.66 377.1L437.66 365.54H438.05L438.05 358.25H438.44L438.44 362.59H438.83L438.83 361.27H439.22L439.22 364.34H439.61L439.61 365.09H440L440 377.1ZM441.04 377.1L441.04 363.18H441.46L441.46 360.7H441.87L441.87 360.25H442.28L442.28 361.49H442.69L442.69 363.46H443.11L443.11 364.33H443.52L443.52 363.08H443.93L443.93 363.34H444.35L444.35 363.29H444.76L444.76 377.1Z"/>
<path fill="#0024f0" fill-opacity="0.9" d="M437.8 360.04h0.8v0.8h-0.8zM438.82 358.35h0.8v0.8h-0.8zM438.74 358.29h0.8v0.8h-0.8zM437.7 356.66h0.8v0.8h-0.8zM442.2 357.51h0.8v0.8h-0.8zM442.63 358.54h0.8v0.8h-0.8zM441.74 357.65h0.8v0.8h-0.8zM441.81 359.73h0.8v0.8h-0.8zM443.32 360.19h0.8v0.8h-0.8zM443.28 356.75h0.8v0.8h-0.8z"/>
<path fill="#5282b1" fill-opacity="0.75" d="M445.48 377.1L445.48 359.55H445.9L445.9 359.29H446.31L446.31 357.03H446.72L446.72 359.25H447.13L447.13 359.16H447.55L447.55 356.9H447.96L447.96 357.87H448.37L448.37 360.08H448.78L448.78 360.27H449.2L449.2 358.68H449.61L449.61 357.29H450.02L450.02 358.62H450.43L450.43 359.88H450.85L450.85 358.7H451.26L451.26 356.93H451.67L451.67 359.44H452.08L452.08 377.1Z"/>
<path fill="#5282b1" d="M445.48 377.1L445.48 363.18H445.9L445.9 363.15H446.31L446.31 359.99H446.72L446.72 362.51H447.13L447.13 361.54H447.55L447.55 358.93H447.96L447.96 359.69H448.37L448.37 361.97H448.78L448.78 362.03H449.2L449.2 361.58H449.61L449.61 361.18H450.02L450.02 361.23H450.43L450.43 361.62H450.85L450.85 360.94H451.26L451.26 361.86H451.67L451.67 363.18H452.08L452.08 377.1Z"/>
<path fill="#5282b1" fill-opacity="0.9" d="M450.56 359.85h0.8v0.8h-0.8zM450.9 359.78h0.8v0.8h-0.8zM449.2 359.69h0.8v0.8h-0.8zM449.87 358.63h0.8v0.8h-0.8zM446.28 355.86h0.8v0.8h-0.8zM446.92 354.87h0.8v0.8h-0.8zM447.71 358.09h0.8v0.8h-0.8zM448.07 356.76h0.8v0.8h-0.8zM447.54 358.3h0.8v0.8h-0.8zM446.82 358.97h0.8v0.8h-0.8zM446.12 359.2h0.8v0.8h-0.8zM447.1 357.33h0.8v0.8h-0.8z"/>
<path fill="#0024f0" fill-opacity="0.75" d="M452.67 377.1L452.67 359.66H453.09L453.09 362.81H453.51L453.51 359.89H453.93L453.93 360.42H454.35L454.35 358.47H454.78L454.78 358.26H455.2L455.2 357.86H455.62L455.62 360.13H456.04L456.04 358.49H456.46L456.46 359.55H456.88L456.88 354.08H457.3L457.3 357.8H457.72L457.72 360.98H458.14L458.14 360.57H458.57L458.57 356.57H458.99L458.99 360.28H459.41L459.41 377.1Z"/>
<path fill="#0024f0" d="M452.67 377.1L452.67 363.18H453.09L453.09 364.59H453.51L453.51 362.56H453.93L453.93 362.6H454.35L454.35 360.31H454.78L454.78 360.18H455.2L455.2 361.22H455.62L455.62 362.22H456.04L456.04 361.31H456.46L456.46 362.77H456.88L456.88 355.67H457.3L457.3 363.4H457.72L457.72 362.72H458.14L458.14 362.21H458.57L458.57 358.61H458.99L458.99 364.19H459.41L459.41 377.1Z"/>
<path fill="#0024f0" fill-opacity="0.9" d="M458.21 359.46h0.8v0.8h-0.8zM458.12 359.23h0.8v0.8h-0.8zM458.17 359.88h0.8v0.8h-0.8zM454.02 355.78h0.8v0.8h-0.8zM453.29 355.81h0.8v0.8h-0.8zM453.99 356.9h0.8v0.8h-0.8zM453.43 358.57h0.8v0.8h-0.8zM456.08 358.31h0.8v0.8h-0.8zM457.79 359.99h0.8v0.8h-0.8zM456.88 355.94h0.8v0.8h-0.8zM455.77 359.49h0.8v0.8h-0.8z"/>
<path fill="#5282b1" fill-opacity="0.75" d="M460.13 377.1L460.13 359.23H460.56L460.56 359.14H460.98L460.98 361.88H461.4L461.4 361.38H461.83L461.83 358H462.25L462.25 361H462.68L462.68 360.03H463.1L463.1 359.19H463.52L463.52 352.48H463.95L463.95 360.19H464.37L464.37 357.3H464.8L464.8 360.25H465.22L465.22 356.3H465.64L465.64 358.4H466.07L466.07 358.9H466.49L466.49 358.37H466.92L466.92 377.1Z"/>
<path fill="#5282b1" d="M460.13 377.1L460.13 363.18H460.56L460.56 360.76H460.98L460.98 363.47H461.4L461.4 363.83H461.83L461.83 363.88H462.25L462.25 363.2H462.68L462.68 363.67H463.1L463.1 363.41H463.52L463.52 354.92H463.95L463.95 363.64H464.37L464.37 359.6H464.8L464.8 362H465.22L465.22 362.18H465.64L465.64 363.8H466.07L466.07 361.58H466.49L466.49 363.73H466.92L466.92 377.1Z"/>
<path fill="#5282b1" fill-opacity="0.9" d="M462.86 359.85h0.8v0.8h-0.8zM460.18 357.32h0.8v0.8h-0.8zM462.94 355.58h0.8v0.8h-0.8zM465.95 359.46h0.8v0.8h-0.8zM461.32 358.25h0.8v0.8h-0.8zM460.26 359.86h0.8v0.8h-0.8zM460.57 359.33h0.8v0.8h-0.8zM462.77 359.62h0.8v0.8h-0.8zM464.25 357.02h0.8v0.8h-0.8zM465.11 358.39h0.8v0.8h-0.8zM464.64 356.66h0.8v0.8h-0.8zM464.49 359.27h0.8v0.8h-0.8zM463.57 356.33h0.8v0.8h-0.8z"/>
<path fill="#0024f0" fill-opacity="0.75" d="M468.1 377.1L468.1 361.33H468.5L468.5 354.35H468.91L468.91 360.44H469.31L469.31 360.72H469.72L469.72 356.1H470.12L470.12 358.9H470.53L470.53 360.12H470.93L470.93 359.51H471.34L471.34 359.03H471.74L471.74 355.53H472.15L472.15 361.24H472.55L472.55 360.97H472.96L472.96 377.1Z"/>
<path fill="#0024f0" d="M468.1 377.1L468.1 363.18H468.5L468.5 360.23H468.91L468.91 363.44H469.31L469.31 362.72H469.72L469.72 361.38H470.12L470.12 361.1H470.53L470.53 363.04H470.93L470.93 361.17H471.34L471.34 361.03H471.74L471.74 361.41H472.15L472.15 364.83H472.55L472.55 363.18H472.96L472.96 377.1Z"/>
<path fill="#0024f0" fill-opacity="0.9" d="M469.88 358.39h0.8v0.8h-0.8zM468.85 359.69h0.8v0.8h-0.8zM468.19 359.12h0.8v0.8h-0.8zM468.57 359.65h0.8v0.8h-0.8zM468.17 356.24h0.8v0.8h-0.8zM469.02 358.7h0.8v0.8h-0.8zM470.44 360.14h0.8v0.8h-0.8zM470.31 356.74h0.8v0.8h-0.8zM469.07 358.08h0.8v0.8h-0.8z"/>
<path fill="#5282b1" fill-opacity="0.75" d="M474.32 377.1L474.32 360.83H474.73L474.73 362.88H475.13L475.13 359.99H475.54L475.54 358.65H475.94L475.94 359.88H476.34L476.34 359.35H476.75L476.75 358.73H477.15L477.15 359.1H477.56L477.56 360.67H477.96L477.96 360.59H478.37L478.37 361.08H478.77L478.77 377.1Z"/>
<path fill="#5282b1" d="M474.32 377.1L474.32 363.18H474.73L474.73 365.22H475.13L475.13 362.69H475.54L475.54 360.52H475.94L475.94 363.33H476.34L476.34 363.82H476.75L476.75 360.38H477.15L477.15 361.35H477.56L477.56 362.92H477.96L477.96 363.41H478.37L478.37 363.18H478.77L478.77 377.1Z"/>
<path fill="#5282b1" fill-opacity="0.9" d="M476.73 359.08h0.8v0.8h-0.8zM477.93 359.78h0.8v0.8h-0.8zM474.44 358.07h0.8v0.8h-0.8zM476.85 356.44h0.8v0.8h-0.8zM474.73 359.91h0.8v0.8h-0.8zM476.05 359.63h0.8v0.8h-0.8zM474.79 360h0.8v0.8h-0.8zM474.48 359.13h0.8v0.8h-0.8z"/>
<path fill="#0024f0" fill-opacity="0.75" d="M480.09 377.1L480.09 361.04H480.5L480.5 357.38H480.91L480.91 359.89H481.31L481.31 358.16H481.72L481.72 358.95H482.13L482.13 358.94H482.54L482.54 362.02H482.95L482.95 355.7H483.36L483.36 361.15H483.76L483.76 361.43H484.17L484.17 377.1Z"/>
<path fill="#0024f0" d="M480.09 377.1L480.09 363.18H480.5L480.5 362.65H480.91L480.91 362.05H481.31L481.31 360.94H481.72L481.72 361.67H482.13L482.13 360.87H482.54L482.54 364.13H482.95L482.95 357.99H483.36L483.36 362.98H483.76L483.76 363.18H484.17L484.17 377.1Z"/>
<path fill="#0024f0" fill-opacity="0.9" d="M480.74 359.18h0.8v0.8h-0.8zM483.03 358.12h0.8v0.8h-0.8zM481.01 357.97h0.8v0.8h-0.8zM481.76 360.16h0.8v0.8h-0.8zM481.53 357.55h0.8v0.8h-0.8zM482.74 352.89h0.8v0.8h-0.8zM480.15 358.61h0.8v0.8h-0.8z"/>
<path fill="#5282b1" fill-opacity="0.75" d="M484.8 377.1L484.8 360.39H485.26L485.26 361.95H485.72L485.72 359.25H486.18L486.18 359.03H486.64L486.64 377.1ZM487 377.1L487 361.2H487.46L487.46 353.74H487.92L487.92 357.92H488.38L488.38 359.67H488.84L488.84 377.1Z"/>
<path fill="#5282b1" d="M484.8 377.1L484.8 363.91H485.26L485.26 363.67H485.72L485.72 362.34H486.18L486.18 363.18H486.64L486.64 377.1ZM487 377.1L487 363.18H487.46L487.46 355.58H487.92L487.92 361.73H488.38L488.38 363.18H488.84L488.84 377.1Z"/>
<path fill="#5282b1" fill-opacity="0.9" d="M485.2 359.63h0.8v0.8h-0.8zM485.36 359.44h0.8v0.8h-0.8zM485.82 356.49h0.8v0.8h-0.8zM487.23 358.23h0.8v0.8h-0.8zM487.93 359.65h0.8v0.8h-0.8zM487.24 357.67h0.8v0.8h-0.8z"/>
<path fill="#0024f0" fill-opacity="0.75" d="M489.47 377.1L489.47 361.33H489.88L489.88 363.1H490.29L490.29 358.8H490.7L490.7 359.97H491.11L491.11 359.35H491.52L491.52 356.83H491.92L491.92 361.04H492.33L492.33 360.3H492.74L492.74 358.17H493.15L493.15 358.42H493.56L493.56 377.1Z"/>
<path fill="#0024f0" d="M489.47 377.1L489.47 363.18H489.88L489.88 364.85H490.29L490.29 363.63H490.7L490.7 364.2H491.11L491.11 363.3H491.52L491.52 362.71H491.92L491.92 363.92H492.33L492.33 362.42H492.74L492.74 361.55H493.15L493.15 363.44H493.56L493.56 377.1Z"/>
<path fill="#0024f0" fill-opacity="0.9" d="M492.36 359.26h0.8v0.8h-0.8zM492.5 359.89h0.8v0.8h-0.8zM490.08 355.75h0.8v0.8h-0.8zM491.27 353.47h0.8v0.8h-0.8zM490.56 359.95h0.8v0.8h-0.8zM489.97 355.47h0.8v0.8h-0.8zM492.13 358.89h0.8v0.8h-0.8z"/>
<path fill="#5282b1" fill-opacity="0.75" d="M494.14 377.1L494.14 360.72H494.58L494.58 359.12H495.03L495.03 362.18H495.47L495.47 360.46H495.91L495.91 360.91H496.35L496.35 359.97H496.79L496.79 361.89H497.23L497.23 361.4H497.68L497.68 377.1Z"/>
<path fill="#5282b1" d="M494.14 377.1L494.14 363.18H494.58L494.58 361.23H495.03L495.03 365.54H495.47L495.47 363.04H495.91L495.91 363.36H496.35L496.35 362.27H496.79L496.79 363.79H497.23L497.23 364.88H497.68L497.68 377.1Z"/>
<path fill="#5282b1" fill-opacity="0.9" d="M496.79 359.48h0.8v0.8h-0.8zM495.83 359.47h0.8v0.8h-0.8zM495.45 360.2h0.8v0.8h-0.8zM494.99 360.23h0.8v0.8h-0.8zM495.53 359.83h0.8v0.8h-0.8zM495.64 358.71h0.8v0.8h-0.8z"/>
<path fill="#0024f0" fill-opacity="0.75" d="M498.17 377.1L498.17 360.42H498.58L498.58 354.6H498.98L498.98 360.33H499.39L499.39 359.95H499.8L499.8 362.24H500.2L500.2 357.89H500.61L500.61 361.06H501.02L501.02 377.1Z"/>
<path fill="#0024f0" d="M498.17 377.1L498.17 363.18H498.58L498.58 356.28H498.98L498.98 362.41H499.39L499.39 362.26H499.8L499.8 363.96H500.2L500.2 359.91H500.61L500.61 363.18H501.02L501.02 377.1Z"/>
<path fill="#0024f0" fill-opacity="0.9" d="M499.49 358.04h0.8v0.8h-0.8zM499.87 353.96h0.8v0.8h-0.8zM499.31 360.57h0.8v0.8h-0.8zM499.53 359.73h0.8v0.8h-0.8zM499.41 360.26h0.8v0.8h-0.8z"/>
<path fill="#5282b1" fill-opacity="0.75" d="M501.51 377.1L501.51 361.84H501.95L501.95 363.15H502.38L502.38 361.79H502.81L502.81 363.64H503.24L503.24 363.88H503.68L503.68 360.12H504.11L504.11 359.3H504.54L504.54 377.1Z"/>
<path fill="#5282b1" d="M501.51 377.1L501.51 364.37H501.95L501.95 365.15H502.38L502.38 364.72H502.81L502.81 365.54H503.24L503.24 365.54H503.68L503.68 363.3H504.11L504.11 363.18H504.54L504.54 377.1Z"/>
<path fill="#5282b1" fill-opacity="0.9" d="M502.29 356.97h0.8v0.8h-0.8zM502.09 354.86h0.8v0.8h-0.8zM501.83 359.57h0.8v0.8h-0.8zM502.19 356.95h0.8v0.8h-0.8zM503.22 359.02h0.8v0.8h-0.8z"/>
<path fill="#0024f0" fill-opacity="0.75" d="M505.5 377.1L505.5 357.35H505.96L505.96 361.32H506.42L506.42 358.38H506.88L506.88 361.43H507.34L507.34 377.1Z"/>
<path fill="#0024f0" d="M505.5 377.1L505.5 363.18H505.96L505.96 363.54H506.42L506.42 361.56H506.88L506.88 363.18H507.34L507.34 377.1Z"/>
<path fill="#0024f0" fill-opacity="0.9" d="M506.35 359.48h0.8v0.8h-0.8zM506.41 355.88h0.8v0.8h-0.8zM506.02 354.75h0.8v0.8h-0.8z"/>
<path fill="#5282b1" fill-opacity="0.75" d="M508.1 377.1L508.1 360.23H508.5L508.5 361.95H508.9L508.9 361.18H509.29L509.29 361.24H509.69L509.69 362.34H510.08L510.08 377.1Z"/>
<path fill="#5282b1" d="M508.1 377.1L508.1 363.34H508.5L508.5 364.13H508.9L508.9 362.76H509.29L509.29 363.13H509.69L509.69 365.54H510.08L510.08 377.1Z"/>
<path fill="#5282b1" fill-opacity="0.9" d="M508.21 355.33h0.8v0.8h-0.8zM508.17 356.94h0.8v0.8h-0.8zM508.77 358.54h0.8v0.8h-0.8z"/>
<path fill="#0024f0" fill-opacity="0.62" d="M355.17 345.09h1.3v1.3h-1.3zM355.3 348.23h1.3v1.3h-1.3zM355.29 351.36h1.3v1.3h-1.3zM355.17 352.54h1.3v1.3h-1.3zM358.22 350.97h1.3v1.3h-1.3zM361.25 353.32h1.3v1.3h-1.3zM361.36 354.5h1.3v1.3h-1.3zM381.53 351.36h1.3v1.3h-1.3zM381.49 352.54h1.3v1.3h-1.3zM381.51 354.11h1.3v1.3h-1.3zM381.52 355.67h1.3v1.3h-1.3zM389.57 353.71h1.3v1.3h-1.3zM389.56 355.28h1.3v1.3h-1.3zM406.78 349.79h1.3v1.3h-1.3zM406.67 351.75h1.3v1.3h-1.3zM406.68 353.71h1.3v1.3h-1.3zM409.53 350.58h1.3v1.3h-1.3zM421.69 355.67h1.3v1.3h-1.3zM442.16 354.89h1.3v1.3h-1.3zM452 341.95h1.3v1.3h-1.3zM452.04 343.52h1.3v1.3h-1.3zM451.99 353.71h1.3v1.3h-1.3zM490.06 347.83h1.3v1.3h-1.3zM490.23 349.4h1.3v1.3h-1.3zM490.21 351.75h1.3v1.3h-1.3zM490.06 354.5h1.3v1.3h-1.3zM490.17 356.07h1.3v1.3h-1.3zM499.96 356.85h1.3v1.3h-1.3z"/>
<path fill="#5282b1" fill-opacity="0.62" d="M368.81 339.99h1.3v1.3h-1.3zM368.84 340.78h1.3v1.3h-1.3zM391.48 318.43h1.3v1.3h-1.3zM391.68 330.59h1.3v1.3h-1.3zM391.61 332.55h1.3v1.3h-1.3zM391.58 339.6h1.3v1.3h-1.3zM391.52 343.13h1.3v1.3h-1.3zM391.56 347.83h1.3v1.3h-1.3zM412.88 350.97h1.3v1.3h-1.3zM412.99 352.15h1.3v1.3h-1.3zM460.33 356.07h1.3v1.3h-1.3zM464 353.71h1.3v1.3h-1.3zM463.97 356.07h1.3v1.3h-1.3zM465.73 349.79h1.3v1.3h-1.3zM465.64 352.93h1.3v1.3h-1.3zM465.74 354.89h1.3v1.3h-1.3zM465.83 356.85h1.3v1.3h-1.3zM475.86 342.35h1.3v1.3h-1.3zM475.69 347.44h1.3v1.3h-1.3zM475.92 349.4h1.3v1.3h-1.3zM475.91 356.07h1.3v1.3h-1.3zM484.8 352.15h1.3v1.3h-1.3zM493.54 356.85h1.3v1.3h-1.3z"/>
</g>
<path d="M354.6 348.5H510.4" stroke="#f3a3a0" stroke-width="0.55" stroke-dasharray="0.9 0.5" fill="none"/>
<g filter="url(#n)">
<path d="M354.2 320V377.8M353.5 377.1h0.7M353.5 369.26h0.7M353.5 361.42h0.7M353.5 353.58h0.7M353.5 345.74h0.7M353.5 337.9h0.7M353.5 330.06h0.7M353.5 322.22h0.7M354.2 377.25H510.1M354.2 377.1v0.7M378.74 377.1v0.7M403.27 377.1v0.7M427.81 377.1v0.7M452.34 377.1v0.7M476.88 377.1v0.7M501.41 377.1v0.7" stroke="#555" stroke-width="0.3" fill="none"/>
<g font-family='"Liberation Sans", sans-serif' font-size="2.3" fill="#111" text-anchor="end"><text x="353" y="377.93">0</text><text x="353" y="370.09">2</text><text x="353" y="362.25">4</text><text x="353" y="354.41">6</text><text x="353" y="346.57">8</text><text x="353" y="338.73">10</text><text x="353" y="330.89">12</text><text x="353" y="323.05">14</text></g>
<g font-family='"Liberation Sans", sans-serif' font-size="2.5" fill="#111" text-anchor="middle"><text x="361.1" y="381.3">1</text><text x="374.33" y="381.3">2</text><text x="386.32" y="381.3">3</text><text x="396.81" y="381.3">4</text><text x="407.01" y="381.3">5</text><text x="416.4" y="381.3">6</text><text x="425.41" y="381.3">7</text><text x="433.75" y="381.3">8</text><text x="441.3" y="381.3">9</text><text x="448.9" y="381.3">10</text><text x="456.31" y="381.3">11</text><text x="463.55" y="381.3">12</text><text x="470.41" y="381.3">13</text><text x="477.05" y="381.3">14</text><text x="481.72" y="381.3">15</text><text x="487.12" y="381.3">16</text><text x="491.56" y="381.3">17</text><text x="495.91" y="381.3">18</text><text x="499.66" y="381.3">19</text><text x="502.87" y="381.3">20</text><text x="505.89" y="381.3">21</text><text x="508.68" y="381.3">22</text></g>
<text x="432.35" y="384.2" font-family='"Liberation Sans", sans-serif' font-size="2.5" fill="#111" text-anchor="middle" letter-spacing="0.08">Chromosome</text>
<text transform="translate(347.2 349.66) rotate(-90)" font-family='"Liberation Sans", sans-serif' font-size="2.5" fill="#111" text-anchor="middle" letter-spacing="0.12">-log10 P-value</text>
</g>
<g filter="url(#b)">
<path fill="#0024f0" fill-opacity="0.75" d="M521.14 376.5L521.14 358.48H521.55L521.55 359.21H521.96L521.96 357.86H522.38L522.38 358.01H522.79L522.79 358.75H523.2L523.2 349.43H523.62L523.62 354.03H524.03L524.03 356.51H524.44L524.44 357.22H524.86L524.86 356.73H525.27L525.27 355.08H525.68L525.68 357.75H526.1L526.1 355.67H526.51L526.51 359H526.92L526.92 356.62H527.34L527.34 376.5ZM527.97 376.5L527.97 354.88H528.39L528.39 353.71H528.82L528.82 356.04H529.24L529.24 350.88H529.67L529.67 355.34H530.09L530.09 355.69H530.51L530.51 357.16H530.94L530.94 358.77H531.36L531.36 357.11H531.79L531.79 358.53H532.21L532.21 355.89H532.64L532.64 357.08H533.06L533.06 355.64H533.49L533.49 376.5Z"/>
<path fill="#0024f0" d="M521.14 376.5L521.14 360.91H521.55L521.55 361.22H521.96L521.96 359.99H522.38L522.38 360.46H522.79L522.79 360.8H523.2L523.2 351.74H523.62L523.62 359.16H524.03L524.03 359.21H524.44L524.44 361.03H524.86L524.86 360.53H525.27L525.27 358.61H525.68L525.68 360.01H526.1L526.1 359.5H526.51L526.51 362.19H526.92L526.92 359.95H527.34L527.34 376.5ZM527.97 376.5L527.97 359.95H528.39L528.39 357.42H528.82L528.82 359.41H529.24L529.24 357.36H529.67L529.67 358.32H530.09L530.09 358.15H530.51L530.51 360.2H530.94L530.94 361.39H531.36L531.36 359.3H531.79L531.79 360.93H532.21L532.21 358.92H532.64L532.64 360.64H533.06L533.06 359.95H533.49L533.49 376.5Z"/>
<path fill="#0024f0" fill-opacity="0.9" d="M524.53 356.32h0.8v0.8h-0.8zM523.98 356.33h0.8v0.8h-0.8zM524.54 352.33h0.8v0.8h-0.8zM523.21 355.05h0.8v0.8h-0.8zM524.51 354.37h0.8v0.8h-0.8zM526.43 351.58h0.8v0.8h-0.8zM524.84 355.43h0.8v0.8h-0.8zM521.43 353.52h0.8v0.8h-0.8zM522.35 353.29h0.8v0.8h-0.8zM524.66 351.25h0.8v0.8h-0.8zM521.46 354.81h0.8v0.8h-0.8zM528.98 355.07h0.8v0.8h-0.8zM532.26 352.56h0.8v0.8h-0.8zM531.67 354.24h0.8v0.8h-0.8zM528.9 353.73h0.8v0.8h-0.8zM530.7 356.15h0.8v0.8h-0.8zM528.24 354.57h0.8v0.8h-0.8zM532.3 355.52h0.8v0.8h-0.8zM530.98 356.3h0.8v0.8h-0.8zM532.11 350.66h0.8v0.8h-0.8zM529.39 353.15h0.8v0.8h-0.8z"/>
<path fill="#5282b1" fill-opacity="0.75" d="M534.3 376.5L534.3 357.82H534.71L534.71 354.51H535.12L535.12 357.11H535.54L535.54 350.45H535.95L535.95 355.77H536.36L536.36 357.42H536.78L536.78 352.18H537.19L537.19 350.53H537.6L537.6 354.63H538.02L538.02 357.39H538.43L538.43 352.35H538.84L538.84 356.9H539.26L539.26 354.41H539.67L539.67 356.16H540.08L540.08 355.54H540.5L540.5 356.72H540.91L540.91 352.33H541.32L541.32 354.17H541.73L541.73 355.49H542.15L542.15 352.23H542.56L542.56 354.46H542.97L542.97 358.02H543.39L543.39 356.7H543.8L543.8 353.39H544.21L544.21 343.49H544.63L544.63 359.09H545.04L545.04 354.39H545.45L545.45 355.08H545.87L545.87 356.72H546.28L546.28 354.77H546.69L546.69 376.5Z"/>
<path fill="#5282b1" d="M534.3 376.5L534.3 360.01H534.71L534.71 357.73H535.12L535.12 360.5H535.54L535.54 355.4H535.95L535.95 358.09H536.36L536.36 359.64H536.78L536.78 355.26H537.19L537.19 357.72H537.6L537.6 358.08H538.02L538.02 359.45H538.43L538.43 354.8H538.84L538.84 359.93H539.26L539.26 356.62H539.67L539.67 360.71H540.08L540.08 360.22H540.5L540.5 361.05H540.91L540.91 358.83H541.32L541.32 358.21H541.73L541.73 359.47H542.15L542.15 354.57H542.56L542.56 356.83H542.97L542.97 361.09H543.39L543.39 358.69H543.8L543.8 360.8H544.21L544.21 350.9H544.63L544.63 362.05H545.04L545.04 358.48H545.45L545.45 357.64H545.87L545.87 360.26H546.28L546.28 359.95H546.69L546.69 376.5Z"/>
<path fill="#5282b1" fill-opacity="0.9" d="M544.67 353.99h0.8v0.8h-0.8zM543.09 355.4h0.8v0.8h-0.8zM536.19 355.35h0.8v0.8h-0.8zM535.91 352.44h0.8v0.8h-0.8zM544.92 353.59h0.8v0.8h-0.8zM536.83 356h0.8v0.8h-0.8zM543.24 354.06h0.8v0.8h-0.8zM543.03 347.45h0.8v0.8h-0.8zM545.7 352.22h0.8v0.8h-0.8zM545.07 348.58h0.8v0.8h-0.8zM536.15 355.22h0.8v0.8h-0.8zM540.53 353.62h0.8v0.8h-0.8zM536.05 355.52h0.8v0.8h-0.8zM543.25 347.14h0.8v0.8h-0.8zM539.81 349.05h0.8v0.8h-0.8zM544.44 350.1h0.8v0.8h-0.8zM536.49 355.06h0.8v0.8h-0.8zM541.99 351.83h0.8v0.8h-0.8zM543.94 356.03h0.8v0.8h-0.8zM542.15 356.31h0.8v0.8h-0.8zM537.9 356.23h0.8v0.8h-0.8zM540.22 356.01h0.8v0.8h-0.8z"/>
<path fill="#0024f0" fill-opacity="0.75" d="M547.55 376.5L547.55 358.85H547.98L547.98 353.54H548.4L548.4 352.35H548.83L548.83 356.1H549.25L549.25 358.19H549.68L549.68 357.3H550.11L550.11 357.11H550.53L550.53 357.14H550.96L550.96 356.67H551.38L551.38 354.2H551.81L551.81 354.82H552.24L552.24 357.69H552.66L552.66 358.49H553.09L553.09 358.09H553.51L553.51 357.43H553.94L553.94 351.49H554.37L554.37 357.21H554.79L554.79 353.32H555.22L555.22 349.27H555.64L555.64 357.18H556.07L556.07 358.2H556.5L556.5 358.43H556.92L556.92 356.33H557.35L557.35 376.5Z"/>
<path fill="#0024f0" d="M547.55 376.5L547.55 361.05H547.98L547.98 358.74H548.4L548.4 357.3H548.83L548.83 360.59H549.25L549.25 360.21H549.68L549.68 359.99H550.11L550.11 360.05H550.53L550.53 359.66H550.96L550.96 359.09H551.38L551.38 361.56H551.81L551.81 357.64H552.24L552.24 361.1H552.66L552.66 360.66H553.09L553.09 360.57H553.51L553.51 362.37H553.94L553.94 358.01H554.37L554.37 359.84H554.79L554.79 358.5H555.22L555.22 352.27H555.64L555.64 360.01H556.07L556.07 360.86H556.5L556.5 360.51H556.92L556.92 359.95H557.35L557.35 376.5Z"/>
<path fill="#0024f0" fill-opacity="0.9" d="M548.75 356.08h0.8v0.8h-0.8zM550.43 356.57h0.8v0.8h-0.8zM550.63 355.77h0.8v0.8h-0.8zM550.49 351.73h0.8v0.8h-0.8zM550.31 356.47h0.8v0.8h-0.8zM554.41 353.13h0.8v0.8h-0.8zM554.9 355.4h0.8v0.8h-0.8zM554.88 356.38h0.8v0.8h-0.8zM554.04 353.46h0.8v0.8h-0.8zM552.64 354.07h0.8v0.8h-0.8zM551.72 355.14h0.8v0.8h-0.8zM551.83 354.12h0.8v0.8h-0.8zM555.17 355.55h0.8v0.8h-0.8zM552.56 355.32h0.8v0.8h-0.8zM549.09 353.35h0.8v0.8h-0.8zM547.61 350.94h0.8v0.8h-0.8zM547.99 356.16h0.8v0.8h-0.8z"/>
<path fill="#5282b1" fill-opacity="0.75" d="M558.21 376.5L558.21 356.18H558.62L558.62 353.32H559.04L559.04 358.48H559.45L559.45 353.62H559.87L559.87 357.28H560.29L560.29 351.51H560.7L560.7 352.24H561.12L561.12 358H561.54L561.54 353.99H561.95L561.95 353.1H562.37L562.37 357.11H562.78L562.78 353.1H563.2L563.2 356.34H563.62L563.62 351.22H564.03L564.03 356.09H564.45L564.45 350.23H564.86L564.86 357.32H565.28L565.28 358.57H565.7L565.7 355.08H566.11L566.11 357.05H566.53L566.53 354.66H566.95L566.95 354.38H567.36L567.36 354.69H567.78L567.78 376.5Z"/>
<path fill="#5282b1" d="M558.21 376.5L558.21 359.95H558.62L558.62 357.59H559.04L559.04 362.44H559.45L559.45 358.89H559.87L559.87 360.03H560.29L560.29 358.34H560.7L560.7 358.74H561.12L561.12 362.14H561.54L561.54 356.34H561.95L561.95 358.77H562.37L562.37 360.03H562.78L562.78 356.96H563.2L563.2 360.79H563.62L563.62 355.67H564.03L564.03 359.3H564.45L564.45 353.91H564.86L564.86 361.23H565.28L565.28 361.73H565.7L565.7 358.7H566.11L566.11 359.43H566.53L566.53 358.76H566.95L566.95 358.92H567.36L567.36 359.95H567.78L567.78 376.5Z"/>
<path fill="#5282b1" fill-opacity="0.9" d="M559.93 351.37h0.8v0.8h-0.8zM563.04 356.29h0.8v0.8h-0.8zM562.33 354.24h0.8v0.8h-0.8zM559.3 355.09h0.8v0.8h-0.8zM562.46 354.62h0.8v0.8h-0.8zM566.29 355.03h0.8v0.8h-0.8zM566.07 355.42h0.8v0.8h-0.8zM564.74 355.9h0.8v0.8h-0.8zM563.33 352.62h0.8v0.8h-0.8zM565.46 356.21h0.8v0.8h-0.8zM564.73 355.9h0.8v0.8h-0.8zM566.68 355.37h0.8v0.8h-0.8zM565.69 355.87h0.8v0.8h-0.8zM566.86 354.26h0.8v0.8h-0.8zM560.14 349.66h0.8v0.8h-0.8zM565.14 352.86h0.8v0.8h-0.8zM561.96 355.64h0.8v0.8h-0.8zM563.79 351.23h0.8v0.8h-0.8z"/>
<path fill="#0024f0" fill-opacity="0.75" d="M568.54 376.5L568.54 356.65H568.97L568.97 357.76H569.4L569.4 355.7H569.83L569.83 356.78H570.26L570.26 354.84H570.69L570.69 355.18H571.12L571.12 352.01H571.55L571.55 356.65H571.98L571.98 356.6H572.41L572.41 359.35H572.84L572.84 354.52H573.27L573.27 356.88H573.7L573.7 356.78H574.13L574.13 356.73H574.56L574.56 355.92H574.99L574.99 355.1H575.42L575.42 347.78H575.85L575.85 351.03H576.28L576.28 355.63H576.71L576.71 357.24H577.14L577.14 355.35H577.57L577.57 376.5Z"/>
<path fill="#0024f0" d="M568.54 376.5L568.54 359.95H568.97L568.97 360.32H569.4L569.4 358.84H569.83L569.83 360.64H570.26L570.26 361.08H570.69L570.69 357.47H571.12L571.12 357.22H571.55L571.55 359.94H571.98L571.98 359.58H572.41L572.41 361.52H572.84L572.84 359.39H573.27L573.27 360.59H573.7L573.7 359.58H574.13L574.13 359.5H574.56L574.56 359.15H574.99L574.99 358.01H575.42L575.42 351.91H575.85L575.85 358.44H576.28L576.28 358.62H576.71L576.71 360.69H577.14L577.14 359.95H577.57L577.57 376.5Z"/>
<path fill="#0024f0" fill-opacity="0.9" d="M569.82 354.68h0.8v0.8h-0.8zM570.45 349.28h0.8v0.8h-0.8zM568.61 355.25h0.8v0.8h-0.8zM576.47 353.04h0.8v0.8h-0.8zM570.48 352.81h0.8v0.8h-0.8zM572.67 356.15h0.8v0.8h-0.8zM569.4 356.29h0.8v0.8h-0.8zM570.89 354.98h0.8v0.8h-0.8zM576.53 350.44h0.8v0.8h-0.8zM573.07 353.43h0.8v0.8h-0.8zM573.65 351.87h0.8v0.8h-0.8zM571.59 353.57h0.8v0.8h-0.8zM570.33 355.72h0.8v0.8h-0.8zM570.74 355.01h0.8v0.8h-0.8zM570.98 353.94h0.8v0.8h-0.8zM568.87 355.38h0.8v0.8h-0.8zM573.52 352.11h0.8v0.8h-0.8z"/>
<path fill="#5282b1" fill-opacity="0.75" d="M578.43 376.5L578.43 356.08H578.85L578.85 357.66H579.27L579.27 348.95H579.7L579.7 350.37H580.12L580.12 354.83H580.55L580.55 353.21H580.97L580.97 352.44H581.39L581.39 356.26H581.82L581.82 352.41H582.24L582.24 356.26H582.67L582.67 358.58H583.09L583.09 353.93H583.51L583.51 355.45H583.94L583.94 351.53H584.36L584.36 355.88H584.78L584.78 357.49H585.21L585.21 354.96H585.63L585.63 356.06H586.06L586.06 357.92H586.48L586.48 357.93H586.9L586.9 376.5Z"/>
<path fill="#5282b1" d="M578.43 376.5L578.43 359.95H578.85L578.85 360.25H579.27L579.27 351.32H579.7L579.7 357.68H580.12L580.12 357.47H580.55L580.55 355.33H580.97L580.97 355.79H581.39L581.39 361.31H581.82L581.82 359.55H582.24L582.24 358.32H582.67L582.67 361.07H583.09L583.09 358.9H583.51L583.51 358.17H583.94L583.94 354.67H584.36L584.36 360.43H584.78L584.78 360.46H585.21L585.21 357.08H585.63L585.63 359.92H586.06L586.06 360.34H586.48L586.48 359.95H586.9L586.9 376.5Z"/>
<path fill="#5282b1" fill-opacity="0.9" d="M580.26 355.59h0.8v0.8h-0.8zM581.15 353.75h0.8v0.8h-0.8zM586.04 352.88h0.8v0.8h-0.8zM584.72 353.97h0.8v0.8h-0.8zM584.27 353.48h0.8v0.8h-0.8zM578.49 354.95h0.8v0.8h-0.8zM579.43 353.05h0.8v0.8h-0.8zM581.22 354.65h0.8v0.8h-0.8zM579.62 346.71h0.8v0.8h-0.8zM580.56 355.78h0.8v0.8h-0.8zM581.28 355.16h0.8v0.8h-0.8zM579.88 352.95h0.8v0.8h-0.8zM581.73 356.16h0.8v0.8h-0.8zM585.71 355.84h0.8v0.8h-0.8zM582.62 352.24h0.8v0.8h-0.8z"/>
<path fill="#0024f0" fill-opacity="0.75" d="M587.49 376.5L587.49 357.84H587.91L587.91 357.28H588.33L588.33 357.17H588.75L588.75 357.23H589.17L589.17 357.33H589.59L589.59 354.54H590.01L590.01 357.28H590.43L590.43 354.96H590.85L590.85 357.68H591.27L591.27 349.22H591.69L591.69 354.32H592.11L592.11 356.53H592.53L592.53 354.02H592.95L592.95 353.65H593.37L593.37 354.26H593.79L593.79 350.86H594.21L594.21 351.7H594.63L594.63 353.02H595.05L595.05 356.76H595.47L595.47 376.5Z"/>
<path fill="#0024f0" d="M587.49 376.5L587.49 359.95H587.91L587.91 360.7H588.33L588.33 359.16H588.75L588.75 360.76H589.17L589.17 361.71H589.59L589.59 357.99H590.01L590.01 359.99H590.43L590.43 357.19H590.85L590.85 360.82H591.27L591.27 356.63H591.69L591.69 357.38H592.11L592.11 361.17H592.53L592.53 358.68H592.95L592.95 359.52H593.37L593.37 357.59H593.79L593.79 358.27H594.21L594.21 356.35H594.63L594.63 357.38H595.05L595.05 359.95H595.47L595.47 376.5Z"/>
<path fill="#0024f0" fill-opacity="0.9" d="M594.42 353.38h0.8v0.8h-0.8zM589.94 355.41h0.8v0.8h-0.8zM594.19 352.04h0.8v0.8h-0.8zM591.62 355.89h0.8v0.8h-0.8zM589.65 354.45h0.8v0.8h-0.8zM588.15 354.21h0.8v0.8h-0.8zM590.86 355.32h0.8v0.8h-0.8zM591.26 347.71h0.8v0.8h-0.8zM593.76 351.26h0.8v0.8h-0.8zM589.67 355.22h0.8v0.8h-0.8zM590.92 348.59h0.8v0.8h-0.8zM589.01 355.73h0.8v0.8h-0.8zM593.59 355.91h0.8v0.8h-0.8zM591.6 355.92h0.8v0.8h-0.8z"/>
<path fill="#5282b1" fill-opacity="0.75" d="M596.23 376.5L596.23 356.84H596.64L596.64 355.78H597.05L597.05 357.29H597.46L597.46 353.88H597.87L597.87 356.15H598.28L598.28 348.06H598.69L598.69 350.02H599.1L599.1 355.28H599.52L599.52 353.96H599.93L599.93 358.48H600.34L600.34 355.46H600.75L600.75 353.65H601.16L601.16 352.1H601.57L601.57 351.6H601.98L601.98 350.06H602.39L602.39 353.7H602.8L602.8 359.25H603.21L603.21 376.5Z"/>
<path fill="#5282b1" d="M596.23 376.5L596.23 359.95H596.64L596.64 358.64H597.05L597.05 359.3H597.46L597.46 357.91H597.87L597.87 360.23H598.28L598.28 355.39H598.69L598.69 353.17H599.1L599.1 362.03H599.52L599.52 359.31H599.93L599.93 360.5H600.34L600.34 358.96H600.75L600.75 356.76H601.16L601.16 359.51H601.57L601.57 357.03H601.98L601.98 355.46H602.39L602.39 356.77H602.8L602.8 361.99H603.21L603.21 376.5Z"/>
<path fill="#5282b1" fill-opacity="0.9" d="M598.65 352.8h0.8v0.8h-0.8zM601.15 352.43h0.8v0.8h-0.8zM597.88 351.26h0.8v0.8h-0.8zM600.95 354.23h0.8v0.8h-0.8zM598.3 353.17h0.8v0.8h-0.8zM596.66 353.01h0.8v0.8h-0.8zM598.82 352.77h0.8v0.8h-0.8zM599.86 355.46h0.8v0.8h-0.8zM598.19 354.77h0.8v0.8h-0.8zM597.07 355.85h0.8v0.8h-0.8zM600.17 356.08h0.8v0.8h-0.8zM601.91 354.63h0.8v0.8h-0.8zM598.21 356.14h0.8v0.8h-0.8z"/>
<path fill="#0024f0" fill-opacity="0.75" d="M603.93 376.5L603.93 353.19H604.32L604.32 352.62H604.71L604.71 348.81H605.09L605.09 355.35H605.48L605.48 352.12H605.87L605.87 354.96H606.26L606.26 376.5ZM607.3 376.5L607.3 354.85H607.71L607.71 357.47H608.12L608.12 358.71H608.53L608.53 353.55H608.94L608.94 354.93H609.35L609.35 353.63H609.76L609.76 358.37H610.17L610.17 356.56H610.58L610.58 356.75H611L611 376.5Z"/>
<path fill="#0024f0" d="M603.93 376.5L603.93 359.95H604.32L604.32 360.03H604.71L604.71 356.22H605.09L605.09 359.32H605.48L605.48 357.62H605.87L605.87 359.95H606.26L606.26 376.5ZM607.3 376.5L607.3 360.15H607.71L607.71 359.97H608.12L608.12 360.79H608.53L608.53 358.25H608.94L608.94 359.17H609.35L609.35 358.7H609.76L609.76 361.86H610.17L610.17 359.93H610.58L610.58 359.99H611L611 376.5Z"/>
<path fill="#0024f0" fill-opacity="0.9" d="M604.59 355.78h0.8v0.8h-0.8zM605.19 352.16h0.8v0.8h-0.8zM604.9 354.71h0.8v0.8h-0.8zM604.33 351.42h0.8v0.8h-0.8zM607.76 354.81h0.8v0.8h-0.8zM608.31 355.11h0.8v0.8h-0.8zM608.36 356.31h0.8v0.8h-0.8zM609.86 355.46h0.8v0.8h-0.8zM609.46 348.56h0.8v0.8h-0.8zM608.4 355.27h0.8v0.8h-0.8zM609.26 348.66h0.8v0.8h-0.8z"/>
<path fill="#5282b1" fill-opacity="0.75" d="M611.72 376.5L611.72 356.14H612.13L612.13 358.5H612.54L612.54 356.06H612.95L612.95 354.79H613.36L613.36 356.91H613.77L613.77 343.42H614.18L614.18 358.14H614.59L614.59 356.3H615L615 358.85H615.41L615.41 356.04H615.82L615.82 355.54H616.23L616.23 356.06H616.64L616.64 358.71H617.05L617.05 347.14H617.46L617.46 353.39H617.87L617.87 358.07H618.28L618.28 376.5Z"/>
<path fill="#5282b1" d="M611.72 376.5L611.72 359.95H612.13L612.13 360.97H612.54L612.54 359.52H612.95L612.95 358.63H613.36L613.36 359.15H613.77L613.77 349.32H614.18L614.18 360.83H614.59L614.59 359.03H615L615 360.93H615.41L615.41 360.81H615.82L615.82 358.4H616.23L616.23 359.19H616.64L616.64 361.57H617.05L617.05 352.85H617.46L617.46 360.8H617.87L617.87 360.44H618.28L618.28 376.5Z"/>
<path fill="#5282b1" fill-opacity="0.9" d="M614.41 353.39h0.8v0.8h-0.8zM612.99 355.71h0.8v0.8h-0.8zM614.57 352.79h0.8v0.8h-0.8zM614.74 351.3h0.8v0.8h-0.8zM617.47 346.08h0.8v0.8h-0.8zM613.65 354.27h0.8v0.8h-0.8zM615.05 355.22h0.8v0.8h-0.8zM617.13 351.92h0.8v0.8h-0.8zM617.28 354.57h0.8v0.8h-0.8zM614.61 353.89h0.8v0.8h-0.8zM612.31 355.08h0.8v0.8h-0.8zM615.5 348.81h0.8v0.8h-0.8z"/>
<path fill="#0024f0" fill-opacity="0.75" d="M618.87 376.5L618.87 358.29H619.28L619.28 357.32H619.7L619.7 355.02H620.12L620.12 354.9H620.54L620.54 352.25H620.96L620.96 345.7H621.38L621.38 356.35H621.8L621.8 354.73H622.22L622.22 354.33H622.64L622.64 353.39H623.05L623.05 351.84H623.47L623.47 359.39H623.89L623.89 357.83H624.31L624.31 352.61H624.73L624.73 356.94H625.15L625.15 356.75H625.57L625.57 376.5Z"/>
<path fill="#0024f0" d="M618.87 376.5L618.87 360.59H619.28L619.28 359.41H619.7L619.7 357.67H620.12L620.12 360.11H620.54L620.54 359.66H620.96L620.96 349.34H621.38L621.38 359.3H621.8L621.8 361.61H622.22L622.22 360.52H622.64L622.64 355.99H623.05L623.05 359.21H623.47L623.47 361.81H623.89L623.89 359.94H624.31L624.31 358.06H624.73L624.73 359.69H625.15L625.15 359.95H625.57L625.57 376.5Z"/>
<path fill="#0024f0" fill-opacity="0.9" d="M621.16 356.09h0.8v0.8h-0.8zM622.47 350.63h0.8v0.8h-0.8zM622.09 355.32h0.8v0.8h-0.8zM621.81 355.67h0.8v0.8h-0.8zM619.12 355.45h0.8v0.8h-0.8zM621.12 352.37h0.8v0.8h-0.8zM621.28 350.81h0.8v0.8h-0.8zM619.56 355.42h0.8v0.8h-0.8zM619.91 352.22h0.8v0.8h-0.8zM619.85 354.19h0.8v0.8h-0.8zM621.85 352.84h0.8v0.8h-0.8zM621.97 355.51h0.8v0.8h-0.8z"/>
<path fill="#5282b1" fill-opacity="0.75" d="M626.29 376.5L626.29 357.8H626.71L626.71 354.53H627.13L627.13 354.75H627.55L627.55 359.37H627.98L627.98 353.45H628.4L628.4 358.55H628.82L628.82 358.27H629.24L629.24 353.52H629.66L629.66 351.69H630.08L630.08 355.67H630.51L630.51 355.39H630.93L630.93 349.01H631.35L631.35 358.72H631.77L631.77 352.77H632.19L632.19 358.16H632.61L632.61 357.35H633.04L633.04 376.5Z"/>
<path fill="#5282b1" d="M626.29 376.5L626.29 359.95H626.71L626.71 357.28H627.13L627.13 359.47H627.55L627.55 362.17H627.98L627.98 357.98H628.4L628.4 360.62H628.82L628.82 361.43H629.24L629.24 360.22H629.66L629.66 354.2H630.08L630.08 357.81H630.51L630.51 357.39H630.93L630.93 352.92H631.35L631.35 361.42H631.77L631.77 360.18H632.19L632.19 361.17H632.61L632.61 359.95H633.04L633.04 376.5Z"/>
<path fill="#5282b1" fill-opacity="0.9" d="M631.07 351.68h0.8v0.8h-0.8zM628.15 355.58h0.8v0.8h-0.8zM627.85 351.82h0.8v0.8h-0.8zM629.13 353.32h0.8v0.8h-0.8zM630.32 352h0.8v0.8h-0.8zM629.51 356.3h0.8v0.8h-0.8zM630.23 355.61h0.8v0.8h-0.8zM631.37 353.98h0.8v0.8h-0.8zM630.38 353.21h0.8v0.8h-0.8zM631.35 351.75h0.8v0.8h-0.8zM631.75 351.62h0.8v0.8h-0.8zM627.8 352.65h0.8v0.8h-0.8z"/>
<path fill="#0024f0" fill-opacity="0.75" d="M634.21 376.5L634.21 358.41H634.62L634.62 354.95H635.02L635.02 359.14H635.42L635.42 352.11H635.82L635.82 357.61H636.23L636.23 356.15H636.63L636.63 358.06H637.03L637.03 356.56H637.44L637.44 356.47H637.84L637.84 358.52H638.24L638.24 352.11H638.65L638.65 357.65H639.05L639.05 376.5Z"/>
<path fill="#0024f0" d="M634.21 376.5L634.21 360.62H634.62L634.62 357.67H635.02L635.02 361.27H635.42L635.42 354.77H635.82L635.82 360.85H636.23L636.23 359.66H636.63L636.63 360.08H637.03L637.03 358.89H637.44L637.44 359.87H637.84L637.84 361.67H638.24L638.24 356.31H638.65L638.65 359.95H639.05L639.05 376.5Z"/>
<path fill="#0024f0" fill-opacity="0.9" d="M635 355.39h0.8v0.8h-0.8zM637.56 354.31h0.8v0.8h-0.8zM637.12 354.87h0.8v0.8h-0.8zM637.95 351h0.8v0.8h-0.8zM634.74 353.7h0.8v0.8h-0.8zM638.05 352.1h0.8v0.8h-0.8zM636.44 355.37h0.8v0.8h-0.8zM634.57 355.88h0.8v0.8h-0.8zM634.58 356.55h0.8v0.8h-0.8z"/>
<path fill="#5282b1" fill-opacity="0.75" d="M640.41 376.5L640.41 355.25H640.81L640.81 343.75H641.21L641.21 351.08H641.61L641.61 351.24H642.02L642.02 358.48H642.42L642.42 355.96H642.82L642.82 356.16H643.22L643.22 353H643.62L643.62 356.53H644.03L644.03 356.57H644.43L644.43 357.5H644.83L644.83 376.5Z"/>
<path fill="#5282b1" d="M640.41 376.5L640.41 361.48H640.81L640.81 349.45H641.21L641.21 354.12H641.61L641.61 355.58H642.02L642.02 360.81H642.42L642.42 358.07H642.82L642.82 358.65H643.22L643.22 356.31H643.62L643.62 358.67H644.03L644.03 358.98H644.43L644.43 359.95H644.83L644.83 376.5Z"/>
<path fill="#5282b1" fill-opacity="0.9" d="M643.78 350.4h0.8v0.8h-0.8zM642.26 348.61h0.8v0.8h-0.8zM643.04 350.33h0.8v0.8h-0.8zM642.3 356.28h0.8v0.8h-0.8zM640.68 351.52h0.8v0.8h-0.8zM643.89 355.03h0.8v0.8h-0.8zM643.63 350.07h0.8v0.8h-0.8zM641.55 352.63h0.8v0.8h-0.8z"/>
<path fill="#0024f0" fill-opacity="0.75" d="M646.14 376.5L646.14 357.56H646.55L646.55 358.51H646.96L646.96 356.56H647.36L647.36 354.74H647.77L647.77 359.29H648.17L648.17 357.95H648.58L648.58 357.87H648.99L648.99 349.73H649.39L649.39 352.72H649.8L649.8 357.4H650.21L650.21 376.5Z"/>
<path fill="#0024f0" d="M646.14 376.5L646.14 360.08H646.55L646.55 361.14H646.96L646.96 359.11H647.36L647.36 357.32H647.77L647.77 361.68H648.17L648.17 360.49H648.58L648.58 362.06H648.99L648.99 352.29H649.39L649.39 357.43H649.8L649.8 360.12H650.21L650.21 376.5Z"/>
<path fill="#0024f0" fill-opacity="0.9" d="M647.75 353.64h0.8v0.8h-0.8zM648.98 353.32h0.8v0.8h-0.8zM647.96 354.48h0.8v0.8h-0.8zM648.14 356.37h0.8v0.8h-0.8zM646.29 354.39h0.8v0.8h-0.8zM647.55 351.06h0.8v0.8h-0.8zM646.9 355.36h0.8v0.8h-0.8z"/>
<path fill="#5282b1" fill-opacity="0.75" d="M650.84 376.5L650.84 356H651.29L651.29 352.51H651.75L651.75 353.56H652.21L652.21 358.45H652.66L652.66 376.5ZM653.02 376.5L653.02 356.17H653.48L653.48 350.07H653.94L653.94 355.02H654.39L654.39 358.73H654.85L654.85 376.5Z"/>
<path fill="#5282b1" d="M650.84 376.5L650.84 359.95H651.29L651.29 355.53H651.75L651.75 359.82H652.21L652.21 361.22H652.66L652.66 376.5ZM653.02 376.5L653.02 359.95H653.48L653.48 352.07H653.94L653.94 357.85H654.39L654.39 361.35H654.85L654.85 376.5Z"/>
<path fill="#5282b1" fill-opacity="0.9" d="M651.74 356.39h0.8v0.8h-0.8zM651.26 355.66h0.8v0.8h-0.8zM651.38 353.37h0.8v0.8h-0.8zM653.46 356.6h0.8v0.8h-0.8zM653.76 356.41h0.8v0.8h-0.8zM653.62 349.78h0.8v0.8h-0.8z"/>
<path fill="#0024f0" fill-opacity="0.75" d="M655.48 376.5L655.48 357.42H655.89L655.89 358.39H656.29L656.29 357.36H656.7L656.7 352.39H657.1L657.1 355.46H657.51L657.51 356.5H657.92L657.92 360.15H658.32L658.32 357.2H658.73L658.73 351.33H659.13L659.13 359.78H659.54L659.54 376.5Z"/>
<path fill="#0024f0" d="M655.48 376.5L655.48 359.95H655.89L655.89 360.96H656.29L656.29 359.95H656.7L656.7 357.05H657.1L657.1 360.15H657.51L657.51 359.47H657.92L657.92 362.25H658.32L658.32 359.19H658.73L658.73 353.85H659.13L659.13 361.89H659.54L659.54 376.5Z"/>
<path fill="#0024f0" fill-opacity="0.9" d="M656.19 351.2h0.8v0.8h-0.8zM656.75 354.94h0.8v0.8h-0.8zM657.1 355.82h0.8v0.8h-0.8zM657.8 351.89h0.8v0.8h-0.8zM658.63 354.89h0.8v0.8h-0.8zM657.73 348.36h0.8v0.8h-0.8zM658.28 354.23h0.8v0.8h-0.8z"/>
<path fill="#5282b1" fill-opacity="0.75" d="M660.13 376.5L660.13 356.76H660.56L660.56 353.41H661L661 350.99H661.44L661.44 356.49H661.88L661.88 352.76H662.32L662.32 351.71H662.76L662.76 350.58H663.2L663.2 356.81H663.64L663.64 376.5Z"/>
<path fill="#5282b1" d="M660.13 376.5L660.13 359.95H660.56L660.56 360.82H661L661 358.4H661.44L661.44 358.92H661.88L661.88 359.59H662.32L662.32 354.22H662.76L662.76 354.88H663.2L663.2 359.95H663.64L663.64 376.5Z"/>
<path fill="#5282b1" fill-opacity="0.9" d="M662.61 355.36h0.8v0.8h-0.8zM661.3 354.45h0.8v0.8h-0.8zM661.82 353.99h0.8v0.8h-0.8zM660.99 353.83h0.8v0.8h-0.8zM661.6 355.51h0.8v0.8h-0.8zM660.99 354.84h0.8v0.8h-0.8z"/>
<path fill="#0024f0" fill-opacity="0.75" d="M664.13 376.5L664.13 357.51H664.54L664.54 355.12H664.94L664.94 356.22H665.35L665.35 355.86H665.75L665.75 354.87H666.16L666.16 359.81H666.56L666.56 358.22H666.96L666.96 376.5Z"/>
<path fill="#0024f0" d="M664.13 376.5L664.13 359.95H664.54L664.54 359.33H664.94L664.94 360.36H665.35L665.35 358.12H665.75L665.75 360.75H666.16L666.16 362.36H666.56L666.56 360.7H666.96L666.96 376.5Z"/>
<path fill="#0024f0" fill-opacity="0.9" d="M664.56 353.89h0.8v0.8h-0.8zM664.36 355.72h0.8v0.8h-0.8zM664.32 353.26h0.8v0.8h-0.8zM664.45 355.57h0.8v0.8h-0.8zM665.87 354.43h0.8v0.8h-0.8z"/>
<path fill="#5282b1" fill-opacity="0.75" d="M667.46 376.5L667.46 358.62H667.89L667.89 351.64H668.32L668.32 355.3H668.75L668.75 356.25H669.18L669.18 354.25H669.61L669.61 354.93H670.04L670.04 357.12H670.47L670.47 376.5Z"/>
<path fill="#5282b1" d="M667.46 376.5L667.46 360.85H667.89L667.89 358.22H668.32L668.32 357.85H668.75L668.75 359.18H669.18L669.18 357H669.61L669.61 358.28H670.04L670.04 361.91H670.47L670.47 376.5Z"/>
<path fill="#5282b1" fill-opacity="0.9" d="M669.11 356.7h0.8v0.8h-0.8zM667.89 356.25h0.8v0.8h-0.8zM669.38 353.13h0.8v0.8h-0.8zM667.6 356.1h0.8v0.8h-0.8zM667.82 354.17h0.8v0.8h-0.8z"/>
<path fill="#0024f0" fill-opacity="0.75" d="M671.42 376.5L671.42 358.05H671.88L671.88 349.03H672.33L672.33 354.82H672.79L672.79 358.16H673.25L673.25 376.5Z"/>
<path fill="#0024f0" d="M671.42 376.5L671.42 361.23H671.88L671.88 352.54H672.33L672.33 359.35H672.79L672.79 361.15H673.25L673.25 376.5Z"/>
<path fill="#0024f0" fill-opacity="0.9" d="M672.22 352.74h0.8v0.8h-0.8zM671.73 355.98h0.8v0.8h-0.8zM672.37 353.49h0.8v0.8h-0.8z"/>
<path fill="#5282b1" fill-opacity="0.75" d="M674.02 376.5L674.02 357.34H674.41L674.41 354.62H674.8L674.8 353.48H675.19L675.19 353.19H675.59L675.59 357.6H675.98L675.98 376.5Z"/>
<path fill="#5282b1" d="M674.02 376.5L674.02 359.95H674.41L674.41 358.47H674.8L674.8 355.52H675.19L675.19 357.16H675.59L675.59 359.95H675.98L675.98 376.5Z"/>
<path fill="#5282b1" fill-opacity="0.9" d="M675.07 349.37h0.8v0.8h-0.8zM675.14 355.9h0.8v0.8h-0.8zM674.04 353.44h0.8v0.8h-0.8z"/>
<path fill="#0024f0" fill-opacity="0.62" d="M522.02 340.78h1.3v1.3h-1.3zM521.89 345.72h1.3v1.3h-1.3zM521.88 348.19h1.3v1.3h-1.3zM524.87 349.17h1.3v1.3h-1.3zM525.4 348.68h1.3v1.3h-1.3zM525.41 350.16h1.3v1.3h-1.3zM528.53 349.17h1.3v1.3h-1.3zM546.94 342.75h1.3v1.3h-1.3zM546.98 346.21h1.3v1.3h-1.3zM548.04 347.2h1.3v1.3h-1.3zM548.15 349.17h1.3v1.3h-1.3zM548.25 350.66h1.3v1.3h-1.3zM556.08 341.76h1.3v1.3h-1.3zM556.13 344.23h1.3v1.3h-1.3zM556.09 346.7h1.3v1.3h-1.3zM573.14 345.22h1.3v1.3h-1.3zM573.16 347.2h1.3v1.3h-1.3zM574.15 348.68h1.3v1.3h-1.3zM586.99 346.7h1.3v1.3h-1.3zM587 348.19h1.3v1.3h-1.3zM586.97 350.16h1.3v1.3h-1.3zM588.59 350.16h1.3v1.3h-1.3zM608.25 343.25h1.3v1.3h-1.3zM618.4 339.79h1.3v1.3h-1.3zM618.24 340.78h1.3v1.3h-1.3zM624.08 350.66h1.3v1.3h-1.3zM638.14 348.19h1.3v1.3h-1.3zM647.58 350.16h1.3v1.3h-1.3zM656.23 342.75h1.3v1.3h-1.3zM656.19 344.73h1.3v1.3h-1.3zM656.22 347.2h1.3v1.3h-1.3zM656.1 349.17h1.3v1.3h-1.3zM663.36 351.15h1.3v1.3h-1.3zM671.55 351.64h1.3v1.3h-1.3z"/>
<path fill="#5282b1" fill-opacity="0.62" d="M535.5 332.38h1.3v1.3h-1.3zM535.57 332.87h1.3v1.3h-1.3zM558.19 317.56h1.3v1.3h-1.3zM557.98 322.99h1.3v1.3h-1.3zM558.03 323.98h1.3v1.3h-1.3zM558 324.97h1.3v1.3h-1.3zM558.17 333.37h1.3v1.3h-1.3zM558.2 341.27h1.3v1.3h-1.3zM558.01 344.23h1.3v1.3h-1.3zM558.03 346.7h1.3v1.3h-1.3zM563.49 349.67h1.3v1.3h-1.3zM579.38 350.16h1.3v1.3h-1.3zM602.6 348.19h1.3v1.3h-1.3zM631.97 345.22h1.3v1.3h-1.3zM631.81 348.68h1.3v1.3h-1.3zM641.97 329.91h1.3v1.3h-1.3zM641.85 333.86h1.3v1.3h-1.3zM641.91 337.56h1.3v1.3h-1.3zM641.83 338.55h1.3v1.3h-1.3zM641.79 339.29h1.3v1.3h-1.3zM641.81 341.76h1.3v1.3h-1.3zM641.94 346.7h1.3v1.3h-1.3zM650.84 350.16h1.3v1.3h-1.3zM659.56 348.68h1.3v1.3h-1.3zM659.62 350.66h1.3v1.3h-1.3zM667.77 350.16h1.3v1.3h-1.3z"/>
</g>
<path d="M521.3 340.5H676.3" stroke="#f3a3a0" stroke-width="0.55" stroke-dasharray="0.9 0.5" fill="none"/>
<g filter="url(#n)">
<path d="M520.9 320V377.2M520.2 376.5h0.7M520.2 371.56h0.7M520.2 366.62h0.7M520.2 361.68h0.7M520.2 356.74h0.7M520.2 351.8h0.7M520.2 346.86h0.7M520.2 341.92h0.7M520.2 336.98h0.7M520.2 332.04h0.7M520.2 327.1h0.7M520.2 322.16h0.7M520.9 376.65H676M520.9 376.5v0.7M545.31 376.5v0.7M569.72 376.5v0.7M594.13 376.5v0.7M618.54 376.5v0.7M642.95 376.5v0.7M667.36 376.5v0.7" stroke="#555" stroke-width="0.3" fill="none"/>
<g font-family='"Liberation Sans", sans-serif' font-size="2.3" fill="#111" text-anchor="end"><text x="519.7" y="377.33">0</text><text x="519.7" y="372.39">1</text><text x="519.7" y="367.45">2</text><text x="519.7" y="362.51">3</text><text x="519.7" y="357.57">4</text><text x="519.7" y="352.63">5</text><text x="519.7" y="347.69">6</text><text x="519.7" y="342.75">7</text><text x="519.7" y="337.81">8</text><text x="519.7" y="332.87">9</text><text x="519.7" y="327.93">10</text><text x="519.7" y="322.99">11</text></g>
<g font-family='"Liberation Sans", sans-serif' font-size="2.5" fill="#111" text-anchor="middle"><text x="527.77" y="380.8">1</text><text x="540.93" y="380.8">2</text><text x="552.86" y="380.8">3</text><text x="563.29" y="380.8">4</text><text x="573.44" y="380.8">5</text><text x="582.78" y="380.8">6</text><text x="591.75" y="380.8">7</text><text x="600.04" y="380.8">8</text><text x="607.55" y="380.8">9</text><text x="615.11" y="380.8">10</text><text x="622.49" y="380.8">11</text><text x="629.69" y="380.8">12</text><text x="636.52" y="380.8">13</text><text x="643.12" y="380.8">14</text><text x="647.77" y="380.8">15</text><text x="653.14" y="380.8">16</text><text x="657.56" y="380.8">17</text><text x="661.88" y="380.8">18</text><text x="665.62" y="380.8">19</text><text x="668.8" y="380.8">20</text><text x="671.81" y="380.8">21</text><text x="674.59" y="380.8">22</text></g>
<text x="598.65" y="383.7" font-family='"Liberation Sans", sans-serif' font-size="2.5" fill="#111" text-anchor="middle" letter-spacing="0.08">Chromosome</text>
<text transform="translate(513.8 349.33) rotate(-90)" font-family='"Liberation Sans", sans-serif' font-size="2.5" fill="#111" text-anchor="middle" letter-spacing="0.12">-log10 P-value</text>
</g>
</svg>
</body></html>
